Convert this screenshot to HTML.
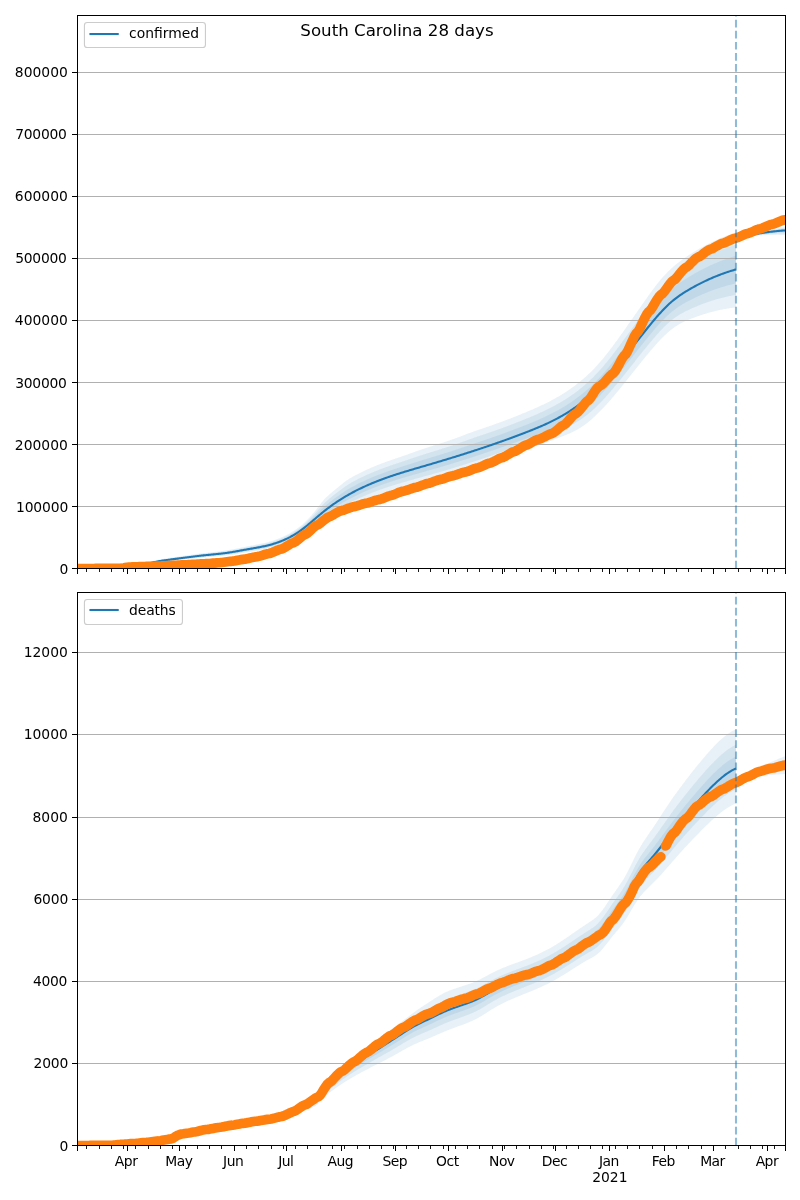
<!DOCTYPE html>
<html lang="en"><head><meta charset="utf-8"><title>South Carolina 28 days</title>
<style>html,body{margin:0;padding:0;background:#fff}svg{display:block;will-change:transform}</style></head>
<body>
<svg width="800" height="1200" viewBox="0 0 800 1200" font-family="'DejaVu Sans', 'Liberation Sans', sans-serif" font-size="13.89px" fill="#000">
<rect width="800" height="1200" fill="#fff"/>
<defs>
<clipPath id="c0"><rect x="77.5" y="15.5" width="708.0" height="553.0"/></clipPath>
<clipPath id="c1"><rect x="77.5" y="592.5" width="708.0" height="553.0"/></clipPath>
</defs>
<g clip-path="url(#c0)">
<path d="M77.50,568.50 L78.50,568.47 L79.50,568.44 L80.50,568.40 L81.50,568.36 L82.50,568.32 L83.50,568.28 L84.50,568.23 L85.50,568.18 L86.50,568.13 L87.50,568.08 L88.50,568.02 L89.50,567.97 L90.50,567.91 L91.50,567.85 L92.50,567.78 L93.50,567.72 L94.50,567.65 L95.50,567.59 L96.50,567.52 L97.50,567.44 L98.50,567.37 L99.50,567.30 L100.50,567.22 L101.50,567.15 L102.50,567.07 L103.50,566.99 L104.50,566.91 L105.50,566.83 L106.50,566.74 L107.50,566.66 L108.50,566.58 L109.50,566.49 L110.50,566.41 L111.50,566.32 L112.50,566.23 L113.50,566.15 L114.50,566.06 L115.50,565.97 L116.50,565.88 L117.50,565.79 L118.50,565.70 L119.50,565.62 L120.50,565.53 L121.50,565.43 L122.50,565.34 L123.50,565.24 L124.50,565.13 L125.50,565.02 L126.50,564.91 L127.50,564.80 L128.50,564.68 L129.50,564.56 L130.50,564.44 L131.50,564.31 L132.50,564.18 L133.50,564.05 L134.50,563.91 L135.50,563.78 L136.50,563.63 L137.50,563.49 L138.50,563.34 L139.50,563.20 L140.50,563.04 L141.50,562.89 L142.50,562.73 L143.50,562.58 L144.50,562.42 L145.50,562.25 L146.50,562.09 L147.50,561.92 L148.50,561.76 L149.50,561.59 L150.50,561.41 L151.50,561.22 L152.50,561.00 L153.50,560.78 L154.50,560.55 L155.50,560.31 L156.50,560.07 L157.50,559.85 L158.50,559.63 L159.50,559.43 L160.50,559.25 L161.50,559.07 L162.50,558.91 L163.50,558.75 L164.50,558.60 L165.50,558.45 L166.50,558.30 L167.50,558.15 L168.50,558.01 L169.50,557.86 L170.50,557.71 L171.50,557.56 L172.50,557.41 L173.50,557.27 L174.50,557.12 L175.50,556.98 L176.50,556.83 L177.50,556.69 L178.50,556.54 L179.50,556.40 L180.50,556.26 L181.50,556.12 L182.50,555.97 L183.50,555.83 L184.50,555.69 L185.50,555.55 L186.50,555.41 L187.50,555.27 L188.50,555.13 L189.50,554.99 L190.50,554.85 L191.50,554.71 L192.50,554.57 L193.50,554.43 L194.50,554.29 L195.50,554.15 L196.50,554.01 L197.50,553.87 L198.50,553.74 L199.50,553.61 L200.50,553.48 L201.50,553.35 L202.50,553.23 L203.50,553.11 L204.50,553.00 L205.50,552.88 L206.50,552.77 L207.50,552.66 L208.50,552.55 L209.50,552.44 L210.50,552.33 L211.50,552.22 L212.50,552.11 L213.50,552.00 L214.50,551.89 L215.50,551.78 L216.50,551.66 L217.50,551.54 L218.50,551.42 L219.50,551.30 L220.50,551.17 L221.50,551.04 L222.50,550.91 L223.50,550.77 L224.50,550.63 L225.50,550.49 L226.50,550.34 L227.50,550.18 L228.50,550.03 L229.50,549.86 L230.50,549.70 L231.50,549.52 L232.50,549.34 L233.50,549.15 L234.50,548.96 L235.50,548.76 L236.50,548.56 L237.50,548.36 L238.50,548.16 L239.50,547.96 L240.50,547.75 L241.50,547.55 L242.50,547.34 L243.50,547.14 L244.50,546.94 L245.50,546.74 L246.50,546.54 L247.50,546.34 L248.50,546.15 L249.50,545.96 L250.50,545.76 L251.50,545.57 L252.50,545.38 L253.50,545.19 L254.50,545.00 L255.50,544.81 L256.50,544.62 L257.50,544.42 L258.50,544.22 L259.50,544.01 L260.50,543.80 L261.50,543.59 L262.50,543.37 L263.50,543.14 L264.50,542.90 L265.50,542.66 L266.50,542.41 L267.50,542.15 L268.50,541.88 L269.50,541.60 L270.50,541.31 L271.50,541.01 L272.50,540.70 L273.50,540.38 L274.50,540.04 L275.50,539.69 L276.50,539.34 L277.50,538.96 L278.50,538.58 L279.50,538.18 L280.50,537.77 L281.50,537.34 L282.50,536.90 L283.50,536.45 L284.50,535.98 L285.50,535.49 L286.50,534.99 L287.50,534.47 L288.50,533.94 L289.50,533.39 L290.50,532.82 L291.50,532.23 L292.50,531.62 L293.50,531.00 L294.50,530.36 L295.50,529.69 L296.50,529.01 L297.50,528.31 L298.50,527.58 L299.50,526.84 L300.50,526.06 L301.50,525.25 L302.50,524.39 L303.50,523.48 L304.50,522.54 L305.50,521.57 L306.50,520.56 L307.50,519.53 L308.50,518.47 L309.50,517.40 L310.50,516.31 L311.50,515.21 L312.50,514.10 L313.50,512.95 L314.50,511.74 L315.50,510.48 L316.50,509.18 L317.50,507.85 L318.50,506.52 L319.50,505.20 L320.50,503.89 L321.50,502.61 L322.50,501.38 L323.50,500.21 L324.50,499.12 L325.50,498.10 L326.50,497.12 L327.50,496.18 L328.50,495.26 L329.50,494.36 L330.50,493.49 L331.50,492.63 L332.50,491.79 L333.50,490.97 L334.50,490.15 L335.50,489.34 L336.50,488.53 L337.50,487.73 L338.50,486.92 L339.50,486.10 L340.50,485.28 L341.50,484.46 L342.50,483.66 L343.50,482.86 L344.50,482.08 L345.50,481.33 L346.50,480.59 L347.50,479.89 L348.50,479.23 L349.50,478.60 L350.50,478.01 L351.50,477.44 L352.50,476.87 L353.50,476.31 L354.50,475.77 L355.50,475.23 L356.50,474.69 L357.50,474.17 L358.50,473.65 L359.50,473.15 L360.50,472.65 L361.50,472.15 L362.50,471.67 L363.50,471.19 L364.50,470.71 L365.50,470.25 L366.50,469.79 L367.50,469.33 L368.50,468.89 L369.50,468.45 L370.50,468.01 L371.50,467.58 L372.50,467.16 L373.50,466.74 L374.50,466.33 L375.50,465.92 L376.50,465.52 L377.50,465.12 L378.50,464.72 L379.50,464.33 L380.50,463.95 L381.50,463.57 L382.50,463.19 L383.50,462.82 L384.50,462.45 L385.50,462.08 L386.50,461.71 L387.50,461.35 L388.50,461.00 L389.50,460.64 L390.50,460.29 L391.50,459.94 L392.50,459.59 L393.50,459.25 L394.50,458.91 L395.50,458.56 L396.50,458.22 L397.50,457.89 L398.50,457.55 L399.50,457.21 L400.50,456.88 L401.50,456.54 L402.50,456.20 L403.50,455.85 L404.50,455.50 L405.50,455.15 L406.50,454.79 L407.50,454.44 L408.50,454.08 L409.50,453.72 L410.50,453.36 L411.50,453.00 L412.50,452.64 L413.50,452.29 L414.50,451.93 L415.50,451.57 L416.50,451.21 L417.50,450.86 L418.50,450.51 L419.50,450.16 L420.50,449.81 L421.50,449.47 L422.50,449.13 L423.50,448.80 L424.50,448.47 L425.50,448.14 L426.50,447.82 L427.50,447.50 L428.50,447.18 L429.50,446.86 L430.50,446.54 L431.50,446.22 L432.50,445.90 L433.50,445.59 L434.50,445.27 L435.50,444.95 L436.50,444.64 L437.50,444.32 L438.50,444.00 L439.50,443.68 L440.50,443.36 L441.50,443.04 L442.50,442.72 L443.50,442.39 L444.50,442.07 L445.50,441.74 L446.50,441.41 L447.50,441.08 L448.50,440.75 L449.50,440.41 L450.50,440.07 L451.50,439.72 L452.50,439.37 L453.50,439.02 L454.50,438.65 L455.50,438.29 L456.50,437.92 L457.50,437.54 L458.50,437.17 L459.50,436.79 L460.50,436.41 L461.50,436.03 L462.50,435.64 L463.50,435.26 L464.50,434.88 L465.50,434.50 L466.50,434.12 L467.50,433.74 L468.50,433.37 L469.50,433.00 L470.50,432.63 L471.50,432.27 L472.50,431.91 L473.50,431.56 L474.50,431.21 L475.50,430.87 L476.50,430.53 L477.50,430.19 L478.50,429.85 L479.50,429.51 L480.50,429.17 L481.50,428.83 L482.50,428.49 L483.50,428.15 L484.50,427.80 L485.50,427.46 L486.50,427.12 L487.50,426.77 L488.50,426.43 L489.50,426.08 L490.50,425.74 L491.50,425.39 L492.50,425.04 L493.50,424.68 L494.50,424.33 L495.50,423.98 L496.50,423.62 L497.50,423.26 L498.50,422.90 L499.50,422.54 L500.50,422.17 L501.50,421.81 L502.50,421.44 L503.50,421.07 L504.50,420.69 L505.50,420.32 L506.50,419.94 L507.50,419.56 L508.50,419.18 L509.50,418.79 L510.50,418.41 L511.50,418.02 L512.50,417.63 L513.50,417.24 L514.50,416.84 L515.50,416.45 L516.50,416.05 L517.50,415.65 L518.50,415.25 L519.50,414.84 L520.50,414.44 L521.50,414.03 L522.50,413.62 L523.50,413.21 L524.50,412.79 L525.50,412.38 L526.50,411.96 L527.50,411.54 L528.50,411.12 L529.50,410.69 L530.50,410.27 L531.50,409.84 L532.50,409.40 L533.50,408.97 L534.50,408.53 L535.50,408.08 L536.50,407.63 L537.50,407.18 L538.50,406.73 L539.50,406.27 L540.50,405.80 L541.50,405.33 L542.50,404.86 L543.50,404.38 L544.50,403.90 L545.50,403.41 L546.50,402.91 L547.50,402.41 L548.50,401.91 L549.50,401.39 L550.50,400.88 L551.50,400.35 L552.50,399.82 L553.50,399.28 L554.50,398.73 L555.50,398.18 L556.50,397.61 L557.50,397.04 L558.50,396.46 L559.50,395.88 L560.50,395.28 L561.50,394.68 L562.50,394.06 L563.50,393.44 L564.50,392.81 L565.50,392.16 L566.50,391.51 L567.50,390.85 L568.50,390.17 L569.50,389.49 L570.50,388.79 L571.50,388.08 L572.50,387.36 L573.50,386.63 L574.50,385.89 L575.50,385.14 L576.50,384.37 L577.50,383.59 L578.50,382.80 L579.50,381.99 L580.50,381.18 L581.50,380.34 L582.50,379.50 L583.50,378.64 L584.50,377.76 L585.50,376.88 L586.50,375.97 L587.50,375.06 L588.50,374.12 L589.50,373.17 L590.50,372.21 L591.50,371.23 L592.50,370.22 L593.50,369.20 L594.50,368.16 L595.50,367.10 L596.50,366.02 L597.50,364.92 L598.50,363.80 L599.50,362.66 L600.50,361.51 L601.50,360.33 L602.50,359.14 L603.50,357.94 L604.50,356.71 L605.50,355.47 L606.50,354.22 L607.50,352.95 L608.50,351.67 L609.50,350.38 L610.50,349.07 L611.50,347.75 L612.50,346.42 L613.50,345.08 L614.50,343.73 L615.50,342.37 L616.50,341.00 L617.50,339.63 L618.50,338.24 L619.50,336.85 L620.50,335.45 L621.50,334.05 L622.50,332.64 L623.50,331.23 L624.50,329.81 L625.50,328.39 L626.50,326.97 L627.50,325.54 L628.50,324.11 L629.50,322.68 L630.50,321.25 L631.50,319.82 L632.50,318.40 L633.50,316.97 L634.50,315.54 L635.50,314.12 L636.50,312.69 L637.50,311.26 L638.50,309.83 L639.50,308.39 L640.50,306.96 L641.50,305.52 L642.50,304.08 L643.50,302.65 L644.50,301.22 L645.50,299.80 L646.50,298.38 L647.50,296.97 L648.50,295.57 L649.50,294.17 L650.50,292.79 L651.50,291.42 L652.50,290.06 L653.50,288.71 L654.50,287.38 L655.50,286.07 L656.50,284.77 L657.50,283.50 L658.50,282.24 L659.50,281.02 L660.50,279.81 L661.50,278.63 L662.50,277.48 L663.50,276.36 L664.50,275.26 L665.50,274.18 L666.50,273.13 L667.50,272.11 L668.50,271.11 L669.50,270.14 L670.50,269.19 L671.50,268.27 L672.50,267.38 L673.50,266.51 L674.50,265.66 L675.50,264.83 L676.50,264.01 L677.50,263.22 L678.50,262.44 L679.50,261.68 L680.50,260.93 L681.50,260.19 L682.50,259.47 L683.50,258.76 L684.50,258.05 L685.50,257.36 L686.50,256.68 L687.50,256.01 L688.50,255.35 L689.50,254.70 L690.50,254.05 L691.50,253.42 L692.50,252.79 L693.50,252.17 L694.50,251.56 L695.50,250.96 L696.50,250.36 L697.50,249.78 L698.50,249.20 L699.50,248.62 L700.50,248.06 L701.50,247.50 L702.50,246.94 L703.50,246.40 L704.50,245.86 L705.50,245.33 L706.50,244.80 L707.50,244.28 L708.50,243.77 L709.50,243.27 L710.50,242.77 L711.50,242.28 L712.50,241.79 L713.50,241.32 L714.50,240.85 L715.50,240.38 L716.50,239.93 L717.50,239.48 L718.50,239.04 L719.50,238.60 L720.50,238.17 L721.50,237.75 L722.50,237.33 L723.50,236.93 L724.50,236.53 L725.50,236.13 L726.50,235.74 L727.50,235.36 L728.50,234.99 L729.50,234.62 L730.50,234.26 L731.50,233.91 L732.50,233.57 L733.50,233.23 L734.50,232.90 L735.50,232.57 L736.00,232.41 L736.00,307.41 L735.50,307.47 L734.50,307.58 L733.50,307.70 L732.50,307.83 L731.50,307.96 L730.50,308.10 L729.50,308.25 L728.50,308.40 L727.50,308.56 L726.50,308.73 L725.50,308.90 L724.50,309.08 L723.50,309.26 L722.50,309.45 L721.50,309.65 L720.50,309.85 L719.50,310.06 L718.50,310.28 L717.50,310.50 L716.50,310.73 L715.50,310.97 L714.50,311.21 L713.50,311.46 L712.50,311.72 L711.50,311.98 L710.50,312.25 L709.50,312.52 L708.50,312.81 L707.50,313.09 L706.50,313.39 L705.50,313.69 L704.50,314.00 L703.50,314.31 L702.50,314.63 L701.50,314.96 L700.50,315.30 L699.50,315.64 L698.50,315.99 L697.50,316.34 L696.50,316.70 L695.50,317.07 L694.50,317.44 L693.50,317.82 L692.50,318.20 L691.50,318.58 L690.50,318.96 L689.50,319.35 L688.50,319.75 L687.50,320.16 L686.50,320.58 L685.50,321.02 L684.50,321.48 L683.50,321.95 L682.50,322.45 L681.50,322.97 L680.50,323.52 L679.50,324.09 L678.50,324.69 L677.50,325.31 L676.50,325.95 L675.50,326.61 L674.50,327.29 L673.50,328.00 L672.50,328.73 L671.50,329.49 L670.50,330.28 L669.50,331.10 L668.50,331.94 L667.50,332.81 L666.50,333.71 L665.50,334.63 L664.50,335.58 L663.50,336.55 L662.50,337.55 L661.50,338.57 L660.50,339.60 L659.50,340.66 L658.50,341.73 L657.50,342.82 L656.50,343.93 L655.50,345.05 L654.50,346.18 L653.50,347.32 L652.50,348.48 L651.50,349.65 L650.50,350.82 L649.50,352.01 L648.50,353.20 L647.50,354.40 L646.50,355.60 L645.50,356.82 L644.50,358.04 L643.50,359.26 L642.50,360.49 L641.50,361.73 L640.50,362.97 L639.50,364.21 L638.50,365.46 L637.50,366.70 L636.50,367.95 L635.50,369.21 L634.50,370.46 L633.50,371.71 L632.50,372.97 L631.50,374.23 L630.50,375.49 L629.50,376.74 L628.50,378.00 L627.50,379.25 L626.50,380.51 L625.50,381.76 L624.50,383.01 L623.50,384.25 L622.50,385.50 L621.50,386.73 L620.50,387.97 L619.50,389.19 L618.50,390.41 L617.50,391.63 L616.50,392.84 L615.50,394.04 L614.50,395.23 L613.50,396.42 L612.50,397.60 L611.50,398.76 L610.50,399.92 L609.50,401.07 L608.50,402.20 L607.50,403.33 L606.50,404.44 L605.50,405.54 L604.50,406.63 L603.50,407.70 L602.50,408.77 L601.50,409.81 L600.50,410.84 L599.50,411.86 L598.50,412.86 L597.50,413.84 L596.50,414.81 L595.50,415.76 L594.50,416.69 L593.50,417.61 L592.50,418.51 L591.50,419.40 L590.50,420.27 L589.50,421.12 L588.50,421.94 L587.50,422.74 L586.50,423.51 L585.50,424.26 L584.50,424.98 L583.50,425.67 L582.50,426.35 L581.50,427.00 L580.50,427.63 L579.50,428.24 L578.50,428.84 L577.50,429.41 L576.50,429.97 L575.50,430.50 L574.50,431.03 L573.50,431.53 L572.50,432.03 L571.50,432.50 L570.50,432.97 L569.50,433.43 L568.50,433.87 L567.50,434.30 L566.50,434.73 L565.50,435.14 L564.50,435.55 L563.50,435.95 L562.50,436.35 L561.50,436.74 L560.50,437.12 L559.50,437.51 L558.50,437.89 L557.50,438.27 L556.50,438.64 L555.50,439.02 L554.50,439.40 L553.50,439.78 L552.50,440.16 L551.50,440.55 L550.50,440.94 L549.50,441.33 L548.50,441.72 L547.50,442.10 L546.50,442.48 L545.50,442.85 L544.50,443.22 L543.50,443.58 L542.50,443.94 L541.50,444.29 L540.50,444.64 L539.50,444.98 L538.50,445.32 L537.50,445.66 L536.50,445.99 L535.50,446.32 L534.50,446.65 L533.50,446.97 L532.50,447.30 L531.50,447.62 L530.50,447.94 L529.50,448.26 L528.50,448.58 L527.50,448.90 L526.50,449.21 L525.50,449.53 L524.50,449.85 L523.50,450.17 L522.50,450.48 L521.50,450.80 L520.50,451.12 L519.50,451.44 L518.50,451.76 L517.50,452.09 L516.50,452.41 L515.50,452.73 L514.50,453.06 L513.50,453.38 L512.50,453.71 L511.50,454.04 L510.50,454.37 L509.50,454.70 L508.50,455.04 L507.50,455.37 L506.50,455.71 L505.50,456.05 L504.50,456.39 L503.50,456.74 L502.50,457.08 L501.50,457.43 L500.50,457.78 L499.50,458.13 L498.50,458.48 L497.50,458.84 L496.50,459.18 L495.50,459.53 L494.50,459.88 L493.50,460.23 L492.50,460.57 L491.50,460.92 L490.50,461.26 L489.50,461.60 L488.50,461.94 L487.50,462.28 L486.50,462.62 L485.50,462.96 L484.50,463.29 L483.50,463.63 L482.50,463.96 L481.50,464.30 L480.50,464.63 L479.50,464.96 L478.50,465.29 L477.50,465.62 L476.50,465.95 L475.50,466.28 L474.50,466.60 L473.50,466.93 L472.50,467.25 L471.50,467.58 L470.50,467.90 L469.50,468.22 L468.50,468.54 L467.50,468.86 L466.50,469.18 L465.50,469.50 L464.50,469.82 L463.50,470.14 L462.50,470.45 L461.50,470.77 L460.50,471.08 L459.50,471.40 L458.50,471.71 L457.50,472.02 L456.50,472.33 L455.50,472.64 L454.50,472.95 L453.50,473.26 L452.50,473.57 L451.50,473.88 L450.50,474.19 L449.50,474.49 L448.50,474.80 L447.50,475.09 L446.50,475.39 L445.50,475.68 L444.50,475.97 L443.50,476.26 L442.50,476.54 L441.50,476.82 L440.50,477.10 L439.50,477.38 L438.50,477.66 L437.50,477.93 L436.50,478.20 L435.50,478.47 L434.50,478.75 L433.50,479.02 L432.50,479.28 L431.50,479.55 L430.50,479.82 L429.50,480.09 L428.50,480.36 L427.50,480.63 L426.50,480.90 L425.50,481.17 L424.50,481.44 L423.50,481.72 L422.50,481.99 L421.50,482.26 L420.50,482.53 L419.50,482.80 L418.50,483.08 L417.50,483.35 L416.50,483.63 L415.50,483.90 L414.50,484.17 L413.50,484.45 L412.50,484.73 L411.50,485.00 L410.50,485.28 L409.50,485.56 L408.50,485.84 L407.50,486.12 L406.50,486.40 L405.50,486.68 L404.50,486.96 L403.50,487.24 L402.50,487.53 L401.50,487.81 L400.50,488.10 L399.50,488.39 L398.50,488.68 L397.50,488.97 L396.50,489.27 L395.50,489.56 L394.50,489.86 L393.50,490.17 L392.50,490.47 L391.50,490.78 L390.50,491.09 L389.50,491.40 L388.50,491.72 L387.50,492.04 L386.50,492.36 L385.50,492.69 L384.50,493.02 L383.50,493.35 L382.50,493.68 L381.50,494.02 L380.50,494.36 L379.50,494.71 L378.50,495.06 L377.50,495.41 L376.50,495.77 L375.50,496.13 L374.50,496.50 L373.50,496.87 L372.50,497.24 L371.50,497.62 L370.50,498.00 L369.50,498.39 L368.50,498.78 L367.50,499.17 L366.50,499.57 L365.50,499.98 L364.50,500.39 L363.50,500.80 L362.50,501.22 L361.50,501.64 L360.50,502.07 L359.50,502.51 L358.50,502.95 L357.50,503.39 L356.50,503.84 L355.50,504.30 L354.50,504.76 L353.50,505.22 L352.50,505.70 L351.50,506.17 L350.50,506.66 L349.50,507.15 L348.50,507.63 L347.50,508.11 L346.50,508.59 L345.50,509.07 L344.50,509.55 L343.50,510.03 L342.50,510.51 L341.50,510.99 L340.50,511.48 L339.50,511.97 L338.50,512.47 L337.50,512.98 L336.50,513.48 L335.50,513.99 L334.50,514.49 L333.50,514.99 L332.50,515.50 L331.50,516.01 L330.50,516.52 L329.50,517.04 L328.50,517.57 L327.50,518.10 L326.50,518.65 L325.50,519.21 L324.50,519.79 L323.50,520.36 L322.50,520.92 L321.50,521.49 L320.50,522.06 L319.50,522.63 L318.50,523.21 L317.50,523.80 L316.50,524.41 L315.50,525.03 L314.50,525.66 L313.50,526.32 L312.50,527.00 L311.50,527.69 L310.50,528.38 L309.50,529.07 L308.50,529.75 L307.50,530.44 L306.50,531.12 L305.50,531.80 L304.50,532.47 L303.50,533.14 L302.50,533.81 L301.50,534.47 L300.50,535.13 L299.50,535.78 L298.50,536.41 L297.50,537.03 L296.50,537.63 L295.50,538.21 L294.50,538.78 L293.50,539.32 L292.50,539.86 L291.50,540.37 L290.50,540.88 L289.50,541.36 L288.50,541.83 L287.50,542.29 L286.50,542.73 L285.50,543.16 L284.50,543.58 L283.50,543.98 L282.50,544.37 L281.50,544.75 L280.50,545.11 L279.50,545.46 L278.50,545.81 L277.50,546.13 L276.50,546.45 L275.50,546.76 L274.50,547.06 L273.50,547.34 L272.50,547.61 L271.50,547.88 L270.50,548.13 L269.50,548.38 L268.50,548.61 L267.50,548.84 L266.50,549.06 L265.50,549.27 L264.50,549.47 L263.50,549.67 L262.50,549.86 L261.50,550.04 L260.50,550.22 L259.50,550.39 L258.50,550.55 L257.50,550.72 L256.50,550.87 L255.50,551.03 L254.50,551.18 L253.50,551.34 L252.50,551.49 L251.50,551.64 L250.50,551.78 L249.50,551.93 L248.50,552.09 L247.50,552.24 L246.50,552.40 L245.50,552.56 L244.50,552.72 L243.50,552.88 L242.50,553.05 L241.50,553.21 L240.50,553.38 L239.50,553.55 L238.50,553.72 L237.50,553.88 L236.50,554.05 L235.50,554.22 L234.50,554.38 L233.50,554.54 L232.50,554.69 L231.50,554.84 L230.50,554.98 L229.50,555.12 L228.50,555.25 L227.50,555.37 L226.50,555.49 L225.50,555.61 L224.50,555.73 L223.50,555.84 L222.50,555.95 L221.50,556.05 L220.50,556.15 L219.50,556.25 L218.50,556.34 L217.50,556.43 L216.50,556.52 L215.50,556.61 L214.50,556.70 L213.50,556.78 L212.50,556.86 L211.50,556.95 L210.50,557.03 L209.50,557.11 L208.50,557.19 L207.50,557.27 L206.50,557.36 L205.50,557.44 L204.50,557.53 L203.50,557.62 L202.50,557.71 L201.50,557.81 L200.50,557.91 L199.50,558.01 L198.50,558.12 L197.50,558.23 L196.50,558.34 L195.50,558.45 L194.50,558.56 L193.50,558.68 L192.50,558.79 L191.50,558.91 L190.50,559.02 L189.50,559.14 L188.50,559.25 L187.50,559.37 L186.50,559.48 L185.50,559.60 L184.50,559.71 L183.50,559.83 L182.50,559.94 L181.50,560.06 L180.50,560.17 L179.50,560.29 L178.50,560.41 L177.50,560.52 L176.50,560.64 L175.50,560.76 L174.50,560.88 L173.50,560.99 L172.50,561.11 L171.50,561.23 L170.50,561.35 L169.50,561.47 L168.50,561.59 L167.50,561.71 L166.50,561.83 L165.50,561.95 L164.50,562.07 L163.50,562.19 L162.50,562.32 L161.50,562.45 L160.50,562.59 L159.50,562.74 L158.50,562.91 L157.50,563.10 L156.50,563.29 L155.50,563.50 L154.50,563.70 L153.50,563.90 L152.50,564.09 L151.50,564.27 L150.50,564.43 L149.50,564.57 L148.50,564.70 L147.50,564.84 L146.50,564.97 L145.50,565.09 L144.50,565.22 L143.50,565.34 L142.50,565.47 L141.50,565.59 L140.50,565.70 L139.50,565.82 L138.50,565.93 L137.50,566.04 L136.50,566.14 L135.50,566.24 L134.50,566.35 L133.50,566.44 L132.50,566.54 L131.50,566.63 L130.50,566.72 L129.50,566.80 L128.50,566.88 L127.50,566.96 L126.50,567.03 L125.50,567.11 L124.50,567.17 L123.50,567.24 L122.50,567.30 L121.50,567.35 L120.50,567.40 L119.50,567.45 L118.50,567.50 L117.50,567.55 L116.50,567.60 L115.50,567.64 L114.50,567.69 L113.50,567.74 L112.50,567.78 L111.50,567.83 L110.50,567.87 L109.50,567.91 L108.50,567.96 L107.50,568.00 L106.50,568.04 L105.50,568.08 L104.50,568.12 L103.50,568.15 L102.50,568.19 L101.50,568.22 L100.50,568.26 L99.50,568.29 L98.50,568.32 L97.50,568.35 L96.50,568.37 L95.50,568.40 L94.50,568.42 L93.50,568.45 L92.50,568.47 L91.50,568.48 L90.50,568.50 L89.50,568.51 L88.50,568.53 L87.50,568.54 L86.50,568.54 L85.50,568.55 L84.50,568.55 L83.50,568.55 L82.50,568.55 L81.50,568.55 L80.50,568.54 L79.50,568.53 L78.50,568.52 L77.50,568.50Z" fill="#1f77b4" fill-opacity="0.1"/>
<path d="M77.50,568.50 L78.50,568.48 L79.50,568.45 L80.50,568.42 L81.50,568.39 L82.50,568.36 L83.50,568.32 L84.50,568.28 L85.50,568.24 L86.50,568.20 L87.50,568.15 L88.50,568.11 L89.50,568.06 L90.50,568.01 L91.50,567.95 L92.50,567.90 L93.50,567.84 L94.50,567.78 L95.50,567.72 L96.50,567.66 L97.50,567.59 L98.50,567.53 L99.50,567.46 L100.50,567.39 L101.50,567.32 L102.50,567.25 L103.50,567.18 L104.50,567.11 L105.50,567.03 L106.50,566.96 L107.50,566.88 L108.50,566.80 L109.50,566.73 L110.50,566.65 L111.50,566.57 L112.50,566.49 L113.50,566.41 L114.50,566.33 L115.50,566.25 L116.50,566.16 L117.50,566.08 L118.50,566.00 L119.50,565.92 L120.50,565.84 L121.50,565.75 L122.50,565.66 L123.50,565.57 L124.50,565.47 L125.50,565.37 L126.50,565.26 L127.50,565.16 L128.50,565.05 L129.50,564.93 L130.50,564.81 L131.50,564.69 L132.50,564.57 L133.50,564.44 L134.50,564.31 L135.50,564.18 L136.50,564.05 L137.50,563.91 L138.50,563.77 L139.50,563.63 L140.50,563.48 L141.50,563.34 L142.50,563.19 L143.50,563.03 L144.50,562.88 L145.50,562.72 L146.50,562.56 L147.50,562.40 L148.50,562.24 L149.50,562.08 L150.50,561.91 L151.50,561.72 L152.50,561.51 L153.50,561.29 L154.50,561.07 L155.50,560.84 L156.50,560.61 L157.50,560.38 L158.50,560.17 L159.50,559.97 L160.50,559.80 L161.50,559.63 L162.50,559.47 L163.50,559.32 L164.50,559.17 L165.50,559.02 L166.50,558.88 L167.50,558.74 L168.50,558.60 L169.50,558.46 L170.50,558.31 L171.50,558.17 L172.50,558.02 L173.50,557.88 L174.50,557.74 L175.50,557.60 L176.50,557.46 L177.50,557.32 L178.50,557.18 L179.50,557.04 L180.50,556.90 L181.50,556.77 L182.50,556.63 L183.50,556.49 L184.50,556.35 L185.50,556.22 L186.50,556.08 L187.50,555.95 L188.50,555.81 L189.50,555.67 L190.50,555.54 L191.50,555.40 L192.50,555.26 L193.50,555.13 L194.50,554.99 L195.50,554.86 L196.50,554.72 L197.50,554.59 L198.50,554.46 L199.50,554.33 L200.50,554.21 L201.50,554.09 L202.50,553.97 L203.50,553.86 L204.50,553.74 L205.50,553.63 L206.50,553.53 L207.50,553.42 L208.50,553.32 L209.50,553.21 L210.50,553.11 L211.50,553.00 L212.50,552.90 L213.50,552.79 L214.50,552.68 L215.50,552.57 L216.50,552.46 L217.50,552.35 L218.50,552.23 L219.50,552.12 L220.50,551.99 L221.50,551.87 L222.50,551.74 L223.50,551.61 L224.50,551.47 L225.50,551.33 L226.50,551.19 L227.50,551.04 L228.50,550.89 L229.50,550.73 L230.50,550.57 L231.50,550.40 L232.50,550.22 L233.50,550.04 L234.50,549.85 L235.50,549.66 L236.50,549.47 L237.50,549.27 L238.50,549.08 L239.50,548.88 L240.50,548.68 L241.50,548.48 L242.50,548.28 L243.50,548.09 L244.50,547.89 L245.50,547.70 L246.50,547.51 L247.50,547.32 L248.50,547.13 L249.50,546.94 L250.50,546.76 L251.50,546.57 L252.50,546.39 L253.50,546.21 L254.50,546.02 L255.50,545.84 L256.50,545.65 L257.50,545.46 L258.50,545.26 L259.50,545.06 L260.50,544.86 L261.50,544.65 L262.50,544.43 L263.50,544.21 L264.50,543.98 L265.50,543.75 L266.50,543.50 L267.50,543.25 L268.50,542.98 L269.50,542.71 L270.50,542.43 L271.50,542.14 L272.50,541.83 L273.50,541.52 L274.50,541.19 L275.50,540.85 L276.50,540.50 L277.50,540.14 L278.50,539.76 L279.50,539.38 L280.50,538.97 L281.50,538.56 L282.50,538.13 L283.50,537.68 L284.50,537.22 L285.50,536.75 L286.50,536.26 L287.50,535.76 L288.50,535.23 L289.50,534.70 L290.50,534.14 L291.50,533.57 L292.50,532.98 L293.50,532.37 L294.50,531.74 L295.50,531.09 L296.50,530.43 L297.50,529.74 L298.50,529.04 L299.50,528.31 L300.50,527.56 L301.50,526.77 L302.50,525.95 L303.50,525.10 L304.50,524.21 L305.50,523.29 L306.50,522.36 L307.50,521.40 L308.50,520.42 L309.50,519.42 L310.50,518.42 L311.50,517.40 L312.50,516.38 L313.50,515.32 L314.50,514.23 L315.50,513.10 L316.50,511.95 L317.50,510.78 L318.50,509.61 L319.50,508.44 L320.50,507.28 L321.50,506.15 L322.50,505.06 L323.50,504.00 L324.50,503.00 L325.50,502.06 L326.50,501.15 L327.50,500.26 L328.50,499.40 L329.50,498.55 L330.50,497.72 L331.50,496.91 L332.50,496.11 L333.50,495.33 L334.50,494.55 L335.50,493.78 L336.50,493.02 L337.50,492.26 L338.50,491.50 L339.50,490.74 L340.50,489.99 L341.50,489.23 L342.50,488.49 L343.50,487.75 L344.50,487.03 L345.50,486.33 L346.50,485.64 L347.50,484.98 L348.50,484.35 L349.50,483.74 L350.50,483.16 L351.50,482.60 L352.50,482.04 L353.50,481.49 L354.50,480.95 L355.50,480.42 L356.50,479.89 L357.50,479.37 L358.50,478.86 L359.50,478.36 L360.50,477.86 L361.50,477.37 L362.50,476.89 L363.50,476.41 L364.50,475.95 L365.50,475.48 L366.50,475.03 L367.50,474.58 L368.50,474.13 L369.50,473.69 L370.50,473.26 L371.50,472.83 L372.50,472.41 L373.50,472.00 L374.50,471.58 L375.50,471.18 L376.50,470.78 L377.50,470.38 L378.50,469.99 L379.50,469.60 L380.50,469.22 L381.50,468.84 L382.50,468.46 L383.50,468.09 L384.50,467.72 L385.50,467.36 L386.50,467.00 L387.50,466.64 L388.50,466.29 L389.50,465.94 L390.50,465.59 L391.50,465.24 L392.50,464.90 L393.50,464.56 L394.50,464.22 L395.50,463.88 L396.50,463.55 L397.50,463.22 L398.50,462.88 L399.50,462.56 L400.50,462.23 L401.50,461.90 L402.50,461.56 L403.50,461.23 L404.50,460.90 L405.50,460.56 L406.50,460.22 L407.50,459.89 L408.50,459.55 L409.50,459.21 L410.50,458.87 L411.50,458.53 L412.50,458.19 L413.50,457.86 L414.50,457.52 L415.50,457.18 L416.50,456.85 L417.50,456.51 L418.50,456.18 L419.50,455.85 L420.50,455.53 L421.50,455.20 L422.50,454.88 L423.50,454.56 L424.50,454.24 L425.50,453.92 L426.50,453.61 L427.50,453.30 L428.50,452.99 L429.50,452.68 L430.50,452.37 L431.50,452.06 L432.50,451.75 L433.50,451.43 L434.50,451.12 L435.50,450.81 L436.50,450.50 L437.50,450.19 L438.50,449.88 L439.50,449.57 L440.50,449.25 L441.50,448.94 L442.50,448.62 L443.50,448.31 L444.50,447.99 L445.50,447.67 L446.50,447.35 L447.50,447.03 L448.50,446.70 L449.50,446.38 L450.50,446.05 L451.50,445.72 L452.50,445.38 L453.50,445.04 L454.50,444.69 L455.50,444.34 L456.50,443.99 L457.50,443.64 L458.50,443.29 L459.50,442.93 L460.50,442.57 L461.50,442.21 L462.50,441.85 L463.50,441.49 L464.50,441.13 L465.50,440.77 L466.50,440.41 L467.50,440.05 L468.50,439.70 L469.50,439.34 L470.50,438.99 L471.50,438.64 L472.50,438.29 L473.50,437.95 L474.50,437.61 L475.50,437.27 L476.50,436.94 L477.50,436.60 L478.50,436.27 L479.50,435.93 L480.50,435.59 L481.50,435.25 L482.50,434.92 L483.50,434.58 L484.50,434.24 L485.50,433.90 L486.50,433.55 L487.50,433.21 L488.50,432.87 L489.50,432.52 L490.50,432.18 L491.50,431.83 L492.50,431.48 L493.50,431.13 L494.50,430.78 L495.50,430.43 L496.50,430.08 L497.50,429.72 L498.50,429.36 L499.50,429.00 L500.50,428.64 L501.50,428.28 L502.50,427.92 L503.50,427.55 L504.50,427.18 L505.50,426.81 L506.50,426.44 L507.50,426.07 L508.50,425.69 L509.50,425.31 L510.50,424.93 L511.50,424.55 L512.50,424.17 L513.50,423.79 L514.50,423.40 L515.50,423.01 L516.50,422.62 L517.50,422.23 L518.50,421.84 L519.50,421.44 L520.50,421.04 L521.50,420.64 L522.50,420.24 L523.50,419.84 L524.50,419.44 L525.50,419.03 L526.50,418.62 L527.50,418.21 L528.50,417.80 L529.50,417.39 L530.50,416.97 L531.50,416.55 L532.50,416.13 L533.50,415.70 L534.50,415.27 L535.50,414.84 L536.50,414.41 L537.50,413.97 L538.50,413.52 L539.50,413.07 L540.50,412.62 L541.50,412.16 L542.50,411.70 L543.50,411.23 L544.50,410.76 L545.50,410.28 L546.50,409.80 L547.50,409.31 L548.50,408.82 L549.50,408.32 L550.50,407.81 L551.50,407.30 L552.50,406.78 L553.50,406.25 L554.50,405.72 L555.50,405.17 L556.50,404.62 L557.50,404.07 L558.50,403.50 L559.50,402.93 L560.50,402.34 L561.50,401.75 L562.50,401.15 L563.50,400.54 L564.50,399.92 L565.50,399.30 L566.50,398.66 L567.50,398.01 L568.50,397.35 L569.50,396.68 L570.50,396.00 L571.50,395.31 L572.50,394.61 L573.50,393.89 L574.50,393.17 L575.50,392.43 L576.50,391.68 L577.50,390.92 L578.50,390.15 L579.50,389.36 L580.50,388.56 L581.50,387.75 L582.50,386.92 L583.50,386.08 L584.50,385.23 L585.50,384.36 L586.50,383.48 L587.50,382.59 L588.50,381.68 L589.50,380.75 L590.50,379.81 L591.50,378.85 L592.50,377.88 L593.50,376.89 L594.50,375.87 L595.50,374.85 L596.50,373.80 L597.50,372.73 L598.50,371.65 L599.50,370.55 L600.50,369.43 L601.50,368.30 L602.50,367.15 L603.50,365.98 L604.50,364.80 L605.50,363.60 L606.50,362.39 L607.50,361.17 L608.50,359.93 L609.50,358.69 L610.50,357.43 L611.50,356.16 L612.50,354.87 L613.50,353.58 L614.50,352.28 L615.50,350.97 L616.50,349.65 L617.50,348.33 L618.50,346.99 L619.50,345.65 L620.50,344.30 L621.50,342.95 L622.50,341.59 L623.50,340.23 L624.50,338.86 L625.50,337.49 L626.50,336.12 L627.50,334.74 L628.50,333.37 L629.50,331.99 L630.50,330.61 L631.50,329.23 L632.50,327.85 L633.50,326.47 L634.50,325.09 L635.50,323.71 L636.50,322.34 L637.50,320.95 L638.50,319.57 L639.50,318.19 L640.50,316.81 L641.50,315.43 L642.50,314.05 L643.50,312.67 L644.50,311.30 L645.50,309.93 L646.50,308.57 L647.50,307.22 L648.50,305.87 L649.50,304.53 L650.50,303.20 L651.50,301.88 L652.50,300.57 L653.50,299.27 L654.50,297.99 L655.50,296.72 L656.50,295.47 L657.50,294.24 L658.50,293.02 L659.50,291.83 L660.50,290.66 L661.50,289.51 L662.50,288.39 L663.50,287.29 L664.50,286.21 L665.50,285.15 L666.50,284.12 L667.50,283.12 L668.50,282.13 L669.50,281.18 L670.50,280.25 L671.50,279.35 L672.50,278.47 L673.50,277.61 L674.50,276.78 L675.50,275.97 L676.50,275.17 L677.50,274.39 L678.50,273.63 L679.50,272.89 L680.50,272.16 L681.50,271.44 L682.50,270.74 L683.50,270.05 L684.50,269.37 L685.50,268.70 L686.50,268.05 L687.50,267.40 L688.50,266.76 L689.50,266.13 L690.50,265.51 L691.50,264.89 L692.50,264.29 L693.50,263.69 L694.50,263.10 L695.50,262.52 L696.50,261.94 L697.50,261.37 L698.50,260.81 L699.50,260.26 L700.50,259.71 L701.50,259.17 L702.50,258.63 L703.50,258.11 L704.50,257.59 L705.50,257.07 L706.50,256.56 L707.50,256.06 L708.50,255.57 L709.50,255.08 L710.50,254.60 L711.50,254.13 L712.50,253.66 L713.50,253.20 L714.50,252.75 L715.50,252.30 L716.50,251.86 L717.50,251.43 L718.50,251.00 L719.50,250.58 L720.50,250.17 L721.50,249.76 L722.50,249.36 L723.50,248.97 L724.50,248.58 L725.50,248.20 L726.50,247.83 L727.50,247.46 L728.50,247.10 L729.50,246.75 L730.50,246.41 L731.50,246.07 L732.50,245.73 L733.50,245.41 L734.50,245.09 L735.50,244.77 L736.00,244.62 L736.00,294.87 L735.50,294.95 L734.50,295.13 L733.50,295.30 L732.50,295.49 L731.50,295.68 L730.50,295.88 L729.50,296.08 L728.50,296.29 L727.50,296.51 L726.50,296.73 L725.50,296.96 L724.50,297.19 L723.50,297.43 L722.50,297.68 L721.50,297.94 L720.50,298.20 L719.50,298.46 L718.50,298.74 L717.50,299.02 L716.50,299.30 L715.50,299.59 L714.50,299.89 L713.50,300.20 L712.50,300.51 L711.50,300.83 L710.50,301.15 L709.50,301.48 L708.50,301.82 L707.50,302.17 L706.50,302.52 L705.50,302.88 L704.50,303.24 L703.50,303.61 L702.50,303.99 L701.50,304.37 L700.50,304.76 L699.50,305.16 L698.50,305.56 L697.50,305.97 L696.50,306.39 L695.50,306.81 L694.50,307.24 L693.50,307.67 L692.50,308.11 L691.50,308.55 L690.50,309.00 L689.50,309.45 L688.50,309.91 L687.50,310.38 L686.50,310.86 L685.50,311.36 L684.50,311.87 L683.50,312.39 L682.50,312.94 L681.50,313.51 L680.50,314.10 L679.50,314.71 L678.50,315.34 L677.50,315.99 L676.50,316.67 L675.50,317.36 L674.50,318.08 L673.50,318.81 L672.50,319.58 L671.50,320.37 L670.50,321.18 L669.50,322.02 L668.50,322.89 L667.50,323.79 L666.50,324.71 L665.50,325.65 L664.50,326.62 L663.50,327.62 L662.50,328.63 L661.50,329.67 L660.50,330.72 L659.50,331.79 L658.50,332.88 L657.50,333.99 L656.50,335.11 L655.50,336.24 L654.50,337.39 L653.50,338.54 L652.50,339.71 L651.50,340.89 L650.50,342.08 L649.50,343.28 L648.50,344.48 L647.50,345.69 L646.50,346.91 L645.50,348.13 L644.50,349.36 L643.50,350.60 L642.50,351.84 L641.50,353.09 L640.50,354.33 L639.50,355.59 L638.50,356.84 L637.50,358.10 L636.50,359.36 L635.50,360.62 L634.50,361.88 L633.50,363.15 L632.50,364.41 L631.50,365.68 L630.50,366.94 L629.50,368.21 L628.50,369.47 L627.50,370.73 L626.50,371.99 L625.50,373.25 L624.50,374.51 L623.50,375.76 L622.50,377.01 L621.50,378.25 L620.50,379.49 L619.50,380.72 L618.50,381.95 L617.50,383.17 L616.50,384.38 L615.50,385.59 L614.50,386.79 L613.50,387.98 L612.50,389.16 L611.50,390.33 L610.50,391.50 L609.50,392.65 L608.50,393.79 L607.50,394.92 L606.50,396.04 L605.50,397.15 L604.50,398.24 L603.50,399.32 L602.50,400.39 L601.50,401.45 L600.50,402.49 L599.50,403.51 L598.50,404.52 L597.50,405.51 L596.50,406.49 L595.50,407.45 L594.50,408.39 L593.50,409.32 L592.50,410.23 L591.50,411.13 L590.50,412.01 L589.50,412.87 L588.50,413.72 L587.50,414.54 L586.50,415.33 L585.50,416.11 L584.50,416.86 L583.50,417.60 L582.50,418.31 L581.50,419.01 L580.50,419.69 L579.50,420.35 L578.50,420.99 L577.50,421.62 L576.50,422.23 L575.50,422.83 L574.50,423.41 L573.50,423.97 L572.50,424.53 L571.50,425.07 L570.50,425.60 L569.50,426.12 L568.50,426.63 L567.50,427.12 L566.50,427.61 L565.50,428.09 L564.50,428.56 L563.50,429.03 L562.50,429.48 L561.50,429.93 L560.50,430.38 L559.50,430.82 L558.50,431.25 L557.50,431.69 L556.50,432.11 L555.50,432.54 L554.50,432.96 L553.50,433.39 L552.50,433.81 L551.50,434.23 L550.50,434.65 L549.50,435.08 L548.50,435.49 L547.50,435.91 L546.50,436.31 L545.50,436.71 L544.50,437.11 L543.50,437.50 L542.50,437.88 L541.50,438.26 L540.50,438.64 L539.50,439.01 L538.50,439.38 L537.50,439.74 L536.50,440.10 L535.50,440.46 L534.50,440.82 L533.50,441.17 L532.50,441.52 L531.50,441.87 L530.50,442.21 L529.50,442.56 L528.50,442.90 L527.50,443.24 L526.50,443.58 L525.50,443.92 L524.50,444.26 L523.50,444.60 L522.50,444.94 L521.50,445.28 L520.50,445.62 L519.50,445.96 L518.50,446.30 L517.50,446.64 L516.50,446.98 L515.50,447.32 L514.50,447.66 L513.50,448.00 L512.50,448.34 L511.50,448.69 L510.50,449.03 L509.50,449.37 L508.50,449.72 L507.50,450.06 L506.50,450.41 L505.50,450.75 L504.50,451.10 L503.50,451.45 L502.50,451.80 L501.50,452.15 L500.50,452.50 L499.50,452.85 L498.50,453.20 L497.50,453.56 L496.50,453.90 L495.50,454.25 L494.50,454.60 L493.50,454.95 L492.50,455.29 L491.50,455.64 L490.50,455.98 L489.50,456.32 L488.50,456.66 L487.50,457.00 L486.50,457.34 L485.50,457.68 L484.50,458.01 L483.50,458.35 L482.50,458.68 L481.50,459.02 L480.50,459.35 L479.50,459.68 L478.50,460.01 L477.50,460.34 L476.50,460.67 L475.50,461.00 L474.50,461.32 L473.50,461.65 L472.50,461.97 L471.50,462.30 L470.50,462.62 L469.50,462.94 L468.50,463.26 L467.50,463.58 L466.50,463.90 L465.50,464.22 L464.50,464.54 L463.50,464.86 L462.50,465.17 L461.50,465.49 L460.50,465.80 L459.50,466.12 L458.50,466.43 L457.50,466.74 L456.50,467.05 L455.50,467.36 L454.50,467.67 L453.50,467.98 L452.50,468.29 L451.50,468.60 L450.50,468.91 L449.50,469.21 L448.50,469.52 L447.50,469.82 L446.50,470.12 L445.50,470.41 L444.50,470.71 L443.50,471.00 L442.50,471.29 L441.50,471.58 L440.50,471.86 L439.50,472.15 L438.50,472.43 L437.50,472.71 L436.50,472.99 L435.50,473.27 L434.50,473.55 L433.50,473.83 L432.50,474.11 L431.50,474.39 L430.50,474.66 L429.50,474.94 L428.50,475.22 L427.50,475.50 L426.50,475.77 L425.50,476.05 L424.50,476.33 L423.50,476.61 L422.50,476.89 L421.50,477.17 L420.50,477.45 L419.50,477.72 L418.50,478.00 L417.50,478.28 L416.50,478.56 L415.50,478.84 L414.50,479.12 L413.50,479.40 L412.50,479.69 L411.50,479.97 L410.50,480.25 L409.50,480.54 L408.50,480.82 L407.50,481.11 L406.50,481.40 L405.50,481.68 L404.50,481.97 L403.50,482.27 L402.50,482.56 L401.50,482.85 L400.50,483.15 L399.50,483.44 L398.50,483.74 L397.50,484.04 L396.50,484.35 L395.50,484.65 L394.50,484.96 L393.50,485.27 L392.50,485.59 L391.50,485.90 L390.50,486.22 L389.50,486.55 L388.50,486.87 L387.50,487.20 L386.50,487.53 L385.50,487.87 L384.50,488.21 L383.50,488.55 L382.50,488.89 L381.50,489.24 L380.50,489.60 L379.50,489.95 L378.50,490.31 L377.50,490.68 L376.50,491.05 L375.50,491.42 L374.50,491.80 L373.50,492.18 L372.50,492.57 L371.50,492.96 L370.50,493.35 L369.50,493.75 L368.50,494.16 L367.50,494.57 L366.50,494.98 L365.50,495.40 L364.50,495.83 L363.50,496.26 L362.50,496.69 L361.50,497.13 L360.50,497.58 L359.50,498.03 L358.50,498.49 L357.50,498.95 L356.50,499.42 L355.50,499.89 L354.50,500.37 L353.50,500.86 L352.50,501.35 L351.50,501.85 L350.50,502.36 L349.50,502.87 L348.50,503.38 L347.50,503.89 L346.50,504.40 L345.50,504.92 L344.50,505.43 L343.50,505.95 L342.50,506.48 L341.50,507.01 L340.50,507.54 L339.50,508.08 L338.50,508.63 L337.50,509.18 L336.50,509.74 L335.50,510.30 L334.50,510.86 L333.50,511.43 L332.50,512.00 L331.50,512.57 L330.50,513.15 L329.50,513.74 L328.50,514.34 L327.50,514.95 L326.50,515.57 L325.50,516.21 L324.50,516.85 L323.50,517.50 L322.50,518.15 L321.50,518.80 L320.50,519.46 L319.50,520.12 L318.50,520.79 L317.50,521.47 L316.50,522.15 L315.50,522.85 L314.50,523.56 L313.50,524.28 L312.50,525.02 L311.50,525.76 L310.50,526.50 L309.50,527.24 L308.50,527.98 L307.50,528.71 L306.50,529.43 L305.50,530.15 L304.50,530.86 L303.50,531.57 L302.50,532.26 L301.50,532.95 L300.50,533.63 L299.50,534.30 L298.50,534.95 L297.50,535.59 L296.50,536.20 L295.50,536.80 L294.50,537.38 L293.50,537.95 L292.50,538.49 L291.50,539.02 L290.50,539.54 L289.50,540.04 L288.50,540.52 L287.50,540.99 L286.50,541.45 L285.50,541.89 L284.50,542.32 L283.50,542.73 L282.50,543.13 L281.50,543.52 L280.50,543.89 L279.50,544.26 L278.50,544.61 L277.50,544.94 L276.50,545.27 L275.50,545.59 L274.50,545.89 L273.50,546.18 L272.50,546.47 L271.50,546.74 L270.50,547.00 L269.50,547.25 L268.50,547.50 L267.50,547.73 L266.50,547.96 L265.50,548.18 L264.50,548.38 L263.50,548.59 L262.50,548.78 L261.50,548.97 L260.50,549.16 L259.50,549.33 L258.50,549.51 L257.50,549.68 L256.50,549.84 L255.50,550.00 L254.50,550.16 L253.50,550.32 L252.50,550.48 L251.50,550.63 L250.50,550.79 L249.50,550.95 L248.50,551.11 L247.50,551.27 L246.50,551.43 L245.50,551.60 L244.50,551.77 L243.50,551.93 L242.50,552.11 L241.50,552.28 L240.50,552.45 L239.50,552.63 L238.50,552.80 L237.50,552.97 L236.50,553.15 L235.50,553.32 L234.50,553.48 L233.50,553.65 L232.50,553.81 L231.50,553.96 L230.50,554.11 L229.50,554.25 L228.50,554.38 L227.50,554.52 L226.50,554.64 L225.50,554.77 L224.50,554.89 L223.50,555.00 L222.50,555.11 L221.50,555.22 L220.50,555.33 L219.50,555.43 L218.50,555.53 L217.50,555.63 L216.50,555.72 L215.50,555.81 L214.50,555.90 L213.50,555.99 L212.50,556.08 L211.50,556.17 L210.50,556.25 L209.50,556.34 L208.50,556.43 L207.50,556.51 L206.50,556.60 L205.50,556.69 L204.50,556.78 L203.50,556.88 L202.50,556.97 L201.50,557.07 L200.50,557.18 L199.50,557.28 L198.50,557.39 L197.50,557.51 L196.50,557.62 L195.50,557.74 L194.50,557.86 L193.50,557.98 L192.50,558.10 L191.50,558.22 L190.50,558.34 L189.50,558.45 L188.50,558.57 L187.50,558.69 L186.50,558.81 L185.50,558.93 L184.50,559.05 L183.50,559.17 L182.50,559.29 L181.50,559.41 L180.50,559.53 L179.50,559.65 L178.50,559.77 L177.50,559.89 L176.50,560.01 L175.50,560.13 L174.50,560.26 L173.50,560.38 L172.50,560.50 L171.50,560.63 L170.50,560.75 L169.50,560.88 L168.50,561.00 L167.50,561.12 L166.50,561.25 L165.50,561.37 L164.50,561.49 L163.50,561.62 L162.50,561.75 L161.50,561.89 L160.50,562.04 L159.50,562.20 L158.50,562.37 L157.50,562.56 L156.50,562.76 L155.50,562.97 L154.50,563.18 L153.50,563.38 L152.50,563.58 L151.50,563.77 L150.50,563.93 L149.50,564.08 L148.50,564.22 L147.50,564.35 L146.50,564.49 L145.50,564.63 L144.50,564.76 L143.50,564.89 L142.50,565.02 L141.50,565.14 L140.50,565.26 L139.50,565.38 L138.50,565.50 L137.50,565.62 L136.50,565.73 L135.50,565.84 L134.50,565.94 L133.50,566.05 L132.50,566.15 L131.50,566.25 L130.50,566.34 L129.50,566.43 L128.50,566.52 L127.50,566.60 L126.50,566.68 L125.50,566.76 L124.50,566.84 L123.50,566.91 L122.50,566.97 L121.50,567.04 L120.50,567.09 L119.50,567.15 L118.50,567.20 L117.50,567.26 L116.50,567.31 L115.50,567.37 L114.50,567.42 L113.50,567.47 L112.50,567.53 L111.50,567.58 L110.50,567.63 L109.50,567.68 L108.50,567.73 L107.50,567.78 L106.50,567.82 L105.50,567.87 L104.50,567.92 L103.50,567.96 L102.50,568.00 L101.50,568.05 L100.50,568.09 L99.50,568.12 L98.50,568.16 L97.50,568.20 L96.50,568.23 L95.50,568.27 L94.50,568.30 L93.50,568.33 L92.50,568.35 L91.50,568.38 L90.50,568.40 L89.50,568.42 L88.50,568.44 L87.50,568.46 L86.50,568.48 L85.50,568.49 L84.50,568.50 L83.50,568.51 L82.50,568.51 L81.50,568.51 L80.50,568.52 L79.50,568.51 L78.50,568.51 L77.50,568.50Z" fill="#1f77b4" fill-opacity="0.1"/>
<path d="M77.50,568.50 L78.50,568.48 L79.50,568.46 L80.50,568.44 L81.50,568.42 L82.50,568.39 L83.50,568.36 L84.50,568.33 L85.50,568.30 L86.50,568.26 L87.50,568.22 L88.50,568.18 L89.50,568.14 L90.50,568.09 L91.50,568.05 L92.50,568.00 L93.50,567.95 L94.50,567.90 L95.50,567.84 L96.50,567.79 L97.50,567.73 L98.50,567.67 L99.50,567.61 L100.50,567.55 L101.50,567.48 L102.50,567.42 L103.50,567.35 L104.50,567.29 L105.50,567.22 L106.50,567.15 L107.50,567.08 L108.50,567.01 L109.50,566.94 L110.50,566.87 L111.50,566.79 L112.50,566.72 L113.50,566.65 L114.50,566.57 L115.50,566.50 L116.50,566.42 L117.50,566.35 L118.50,566.27 L119.50,566.19 L120.50,566.12 L121.50,566.04 L122.50,565.95 L123.50,565.87 L124.50,565.77 L125.50,565.68 L126.50,565.58 L127.50,565.48 L128.50,565.38 L129.50,565.27 L130.50,565.16 L131.50,565.04 L132.50,564.92 L133.50,564.80 L134.50,564.68 L135.50,564.55 L136.50,564.42 L137.50,564.29 L138.50,564.16 L139.50,564.02 L140.50,563.88 L141.50,563.74 L142.50,563.60 L143.50,563.45 L144.50,563.30 L145.50,563.15 L146.50,563.00 L147.50,562.84 L148.50,562.68 L149.50,562.53 L150.50,562.36 L151.50,562.18 L152.50,561.98 L153.50,561.76 L154.50,561.54 L155.50,561.31 L156.50,561.09 L157.50,560.87 L158.50,560.66 L159.50,560.47 L160.50,560.30 L161.50,560.14 L162.50,559.98 L163.50,559.83 L164.50,559.69 L165.50,559.55 L166.50,559.41 L167.50,559.27 L168.50,559.14 L169.50,559.00 L170.50,558.86 L171.50,558.72 L172.50,558.58 L173.50,558.44 L174.50,558.30 L175.50,558.17 L176.50,558.03 L177.50,557.89 L178.50,557.76 L179.50,557.62 L180.50,557.49 L181.50,557.36 L182.50,557.22 L183.50,557.09 L184.50,556.96 L185.50,556.82 L186.50,556.69 L187.50,556.56 L188.50,556.43 L189.50,556.30 L190.50,556.16 L191.50,556.03 L192.50,555.90 L193.50,555.77 L194.50,555.63 L195.50,555.50 L196.50,555.37 L197.50,555.24 L198.50,555.12 L199.50,554.99 L200.50,554.87 L201.50,554.76 L202.50,554.64 L203.50,554.53 L204.50,554.42 L205.50,554.32 L206.50,554.21 L207.50,554.11 L208.50,554.01 L209.50,553.91 L210.50,553.81 L211.50,553.71 L212.50,553.61 L213.50,553.51 L214.50,553.40 L215.50,553.30 L216.50,553.19 L217.50,553.08 L218.50,552.97 L219.50,552.86 L220.50,552.74 L221.50,552.62 L222.50,552.50 L223.50,552.37 L224.50,552.24 L225.50,552.10 L226.50,551.96 L227.50,551.82 L228.50,551.67 L229.50,551.52 L230.50,551.36 L231.50,551.20 L232.50,551.03 L233.50,550.85 L234.50,550.67 L235.50,550.48 L236.50,550.29 L237.50,550.10 L238.50,549.91 L239.50,549.72 L240.50,549.52 L241.50,549.33 L242.50,549.14 L243.50,548.95 L244.50,548.76 L245.50,548.57 L246.50,548.39 L247.50,548.20 L248.50,548.02 L249.50,547.84 L250.50,547.66 L251.50,547.48 L252.50,547.31 L253.50,547.13 L254.50,546.95 L255.50,546.77 L256.50,546.59 L257.50,546.40 L258.50,546.21 L259.50,546.02 L260.50,545.82 L261.50,545.62 L262.50,545.41 L263.50,545.19 L264.50,544.97 L265.50,544.73 L266.50,544.50 L267.50,544.25 L268.50,543.99 L269.50,543.73 L270.50,543.45 L271.50,543.16 L272.50,542.87 L273.50,542.56 L274.50,542.24 L275.50,541.91 L276.50,541.56 L277.50,541.21 L278.50,540.84 L279.50,540.46 L280.50,540.07 L281.50,539.66 L282.50,539.24 L283.50,538.81 L284.50,538.36 L285.50,537.89 L286.50,537.42 L287.50,536.92 L288.50,536.41 L289.50,535.89 L290.50,535.34 L291.50,534.78 L292.50,534.21 L293.50,533.61 L294.50,533.00 L295.50,532.37 L296.50,531.72 L297.50,531.05 L298.50,530.36 L299.50,529.65 L300.50,528.92 L301.50,528.16 L302.50,527.37 L303.50,526.56 L304.50,525.72 L305.50,524.87 L306.50,523.99 L307.50,523.09 L308.50,522.19 L309.50,521.26 L310.50,520.33 L311.50,519.39 L312.50,518.45 L313.50,517.48 L314.50,516.50 L315.50,515.49 L316.50,514.47 L317.50,513.44 L318.50,512.41 L319.50,511.39 L320.50,510.37 L321.50,509.37 L322.50,508.40 L323.50,507.45 L324.50,506.54 L325.50,505.66 L326.50,504.81 L327.50,503.97 L328.50,503.16 L329.50,502.36 L330.50,501.57 L331.50,500.80 L332.50,500.04 L333.50,499.29 L334.50,498.56 L335.50,497.83 L336.50,497.10 L337.50,496.39 L338.50,495.68 L339.50,494.97 L340.50,494.26 L341.50,493.57 L342.50,492.88 L343.50,492.20 L344.50,491.53 L345.50,490.87 L346.50,490.23 L347.50,489.61 L348.50,489.00 L349.50,488.42 L350.50,487.85 L351.50,487.29 L352.50,486.74 L353.50,486.20 L354.50,485.66 L355.50,485.13 L356.50,484.61 L357.50,484.10 L358.50,483.59 L359.50,483.10 L360.50,482.60 L361.50,482.12 L362.50,481.64 L363.50,481.17 L364.50,480.70 L365.50,480.24 L366.50,479.79 L367.50,479.34 L368.50,478.90 L369.50,478.46 L370.50,478.03 L371.50,477.61 L372.50,477.19 L373.50,476.77 L374.50,476.36 L375.50,475.96 L376.50,475.56 L377.50,475.17 L378.50,474.78 L379.50,474.39 L380.50,474.01 L381.50,473.63 L382.50,473.26 L383.50,472.89 L384.50,472.52 L385.50,472.16 L386.50,471.80 L387.50,471.45 L388.50,471.10 L389.50,470.75 L390.50,470.40 L391.50,470.06 L392.50,469.72 L393.50,469.38 L394.50,469.05 L395.50,468.72 L396.50,468.39 L397.50,468.06 L398.50,467.74 L399.50,467.41 L400.50,467.09 L401.50,466.77 L402.50,466.45 L403.50,466.12 L404.50,465.80 L405.50,465.48 L406.50,465.16 L407.50,464.84 L408.50,464.52 L409.50,464.20 L410.50,463.88 L411.50,463.56 L412.50,463.24 L413.50,462.92 L414.50,462.60 L415.50,462.28 L416.50,461.97 L417.50,461.65 L418.50,461.34 L419.50,461.03 L420.50,460.72 L421.50,460.41 L422.50,460.10 L423.50,459.79 L424.50,459.48 L425.50,459.18 L426.50,458.88 L427.50,458.57 L428.50,458.27 L429.50,457.97 L430.50,457.66 L431.50,457.36 L432.50,457.05 L433.50,456.75 L434.50,456.45 L435.50,456.14 L436.50,455.84 L437.50,455.53 L438.50,455.23 L439.50,454.92 L440.50,454.61 L441.50,454.30 L442.50,453.99 L443.50,453.68 L444.50,453.37 L445.50,453.06 L446.50,452.75 L447.50,452.43 L448.50,452.12 L449.50,451.80 L450.50,451.48 L451.50,451.16 L452.50,450.84 L453.50,450.51 L454.50,450.18 L455.50,449.85 L456.50,449.52 L457.50,449.19 L458.50,448.85 L459.50,448.51 L460.50,448.17 L461.50,447.83 L462.50,447.49 L463.50,447.15 L464.50,446.81 L465.50,446.47 L466.50,446.13 L467.50,445.79 L468.50,445.45 L469.50,445.11 L470.50,444.77 L471.50,444.43 L472.50,444.10 L473.50,443.76 L474.50,443.43 L475.50,443.10 L476.50,442.76 L477.50,442.43 L478.50,442.10 L479.50,441.76 L480.50,441.43 L481.50,441.09 L482.50,440.76 L483.50,440.42 L484.50,440.08 L485.50,439.74 L486.50,439.40 L487.50,439.06 L488.50,438.72 L489.50,438.38 L490.50,438.04 L491.50,437.69 L492.50,437.34 L493.50,437.00 L494.50,436.65 L495.50,436.30 L496.50,435.95 L497.50,435.59 L498.50,435.24 L499.50,434.88 L500.50,434.53 L501.50,434.17 L502.50,433.81 L503.50,433.44 L504.50,433.08 L505.50,432.71 L506.50,432.35 L507.50,431.98 L508.50,431.61 L509.50,431.24 L510.50,430.87 L511.50,430.49 L512.50,430.11 L513.50,429.74 L514.50,429.36 L515.50,428.98 L516.50,428.59 L517.50,428.21 L518.50,427.82 L519.50,427.44 L520.50,427.05 L521.50,426.66 L522.50,426.27 L523.50,425.87 L524.50,425.48 L525.50,425.08 L526.50,424.68 L527.50,424.28 L528.50,423.88 L529.50,423.47 L530.50,423.07 L531.50,422.66 L532.50,422.24 L533.50,421.83 L534.50,421.41 L535.50,420.99 L536.50,420.56 L537.50,420.13 L538.50,419.70 L539.50,419.26 L540.50,418.82 L541.50,418.37 L542.50,417.92 L543.50,417.46 L544.50,417.00 L545.50,416.54 L546.50,416.06 L547.50,415.59 L548.50,415.10 L549.50,414.61 L550.50,414.12 L551.50,413.61 L552.50,413.11 L553.50,412.59 L554.50,412.07 L555.50,411.54 L556.50,411.00 L557.50,410.45 L558.50,409.90 L559.50,409.34 L560.50,408.76 L561.50,408.19 L562.50,407.60 L563.50,407.00 L564.50,406.39 L565.50,405.78 L566.50,405.15 L567.50,404.52 L568.50,403.87 L569.50,403.22 L570.50,402.55 L571.50,401.88 L572.50,401.19 L573.50,400.49 L574.50,399.78 L575.50,399.06 L576.50,398.33 L577.50,397.58 L578.50,396.83 L579.50,396.06 L580.50,395.28 L581.50,394.48 L582.50,393.67 L583.50,392.85 L584.50,392.02 L585.50,391.17 L586.50,390.31 L587.50,389.43 L588.50,388.55 L589.50,387.64 L590.50,386.72 L591.50,385.79 L592.50,384.84 L593.50,383.87 L594.50,382.89 L595.50,381.89 L596.50,380.87 L597.50,379.84 L598.50,378.78 L599.50,377.72 L600.50,376.63 L601.50,375.53 L602.50,374.42 L603.50,373.29 L604.50,372.15 L605.50,370.99 L606.50,369.82 L607.50,368.64 L608.50,367.45 L609.50,366.24 L610.50,365.02 L611.50,363.80 L612.50,362.56 L613.50,361.31 L614.50,360.05 L615.50,358.79 L616.50,357.52 L617.50,356.23 L618.50,354.95 L619.50,353.65 L620.50,352.35 L621.50,351.04 L622.50,349.73 L623.50,348.42 L624.50,347.10 L625.50,345.77 L626.50,344.44 L627.50,343.11 L628.50,341.78 L629.50,340.45 L630.50,339.11 L631.50,337.78 L632.50,336.44 L633.50,335.10 L634.50,333.77 L635.50,332.44 L636.50,331.10 L637.50,329.77 L638.50,328.43 L639.50,327.10 L640.50,325.76 L641.50,324.43 L642.50,323.10 L643.50,321.78 L644.50,320.46 L645.50,319.14 L646.50,317.83 L647.50,316.53 L648.50,315.23 L649.50,313.94 L650.50,312.66 L651.50,311.39 L652.50,310.13 L653.50,308.87 L654.50,307.64 L655.50,306.41 L656.50,305.20 L657.50,304.00 L658.50,302.82 L659.50,301.66 L660.50,300.52 L661.50,299.40 L662.50,298.30 L663.50,297.22 L664.50,296.16 L665.50,295.13 L666.50,294.11 L667.50,293.12 L668.50,292.16 L669.50,291.22 L670.50,290.31 L671.50,289.42 L672.50,288.55 L673.50,287.71 L674.50,286.89 L675.50,286.09 L676.50,285.31 L677.50,284.55 L678.50,283.81 L679.50,283.08 L680.50,282.37 L681.50,281.67 L682.50,280.99 L683.50,280.32 L684.50,279.66 L685.50,279.01 L686.50,278.38 L687.50,277.75 L688.50,277.13 L689.50,276.52 L690.50,275.92 L691.50,275.33 L692.50,274.74 L693.50,274.16 L694.50,273.59 L695.50,273.02 L696.50,272.47 L697.50,271.92 L698.50,271.37 L699.50,270.83 L700.50,270.30 L701.50,269.78 L702.50,269.26 L703.50,268.75 L704.50,268.25 L705.50,267.75 L706.50,267.26 L707.50,266.77 L708.50,266.30 L709.50,265.82 L710.50,265.36 L711.50,264.90 L712.50,264.45 L713.50,264.01 L714.50,263.57 L715.50,263.14 L716.50,262.71 L717.50,262.29 L718.50,261.88 L719.50,261.47 L720.50,261.08 L721.50,260.68 L722.50,260.30 L723.50,259.92 L724.50,259.54 L725.50,259.18 L726.50,258.82 L727.50,258.46 L728.50,258.12 L729.50,257.78 L730.50,257.44 L731.50,257.12 L732.50,256.79 L733.50,256.48 L734.50,256.17 L735.50,255.87 L736.00,255.72 L736.00,283.47 L735.50,283.58 L734.50,283.80 L733.50,284.03 L732.50,284.27 L731.50,284.51 L730.50,284.76 L729.50,285.02 L728.50,285.28 L727.50,285.55 L726.50,285.82 L725.50,286.10 L724.50,286.39 L723.50,286.68 L722.50,286.98 L721.50,287.29 L720.50,287.60 L719.50,287.92 L718.50,288.24 L717.50,288.57 L716.50,288.91 L715.50,289.25 L714.50,289.60 L713.50,289.96 L712.50,290.32 L711.50,290.69 L710.50,291.07 L709.50,291.45 L708.50,291.84 L707.50,292.23 L706.50,292.63 L705.50,293.04 L704.50,293.46 L703.50,293.88 L702.50,294.31 L701.50,294.74 L700.50,295.18 L699.50,295.63 L698.50,296.08 L697.50,296.55 L696.50,297.01 L695.50,297.49 L694.50,297.97 L693.50,298.45 L692.50,298.94 L691.50,299.44 L690.50,299.94 L689.50,300.45 L688.50,300.96 L687.50,301.49 L686.50,302.02 L685.50,302.57 L684.50,303.13 L683.50,303.70 L682.50,304.29 L681.50,304.90 L680.50,305.53 L679.50,306.18 L678.50,306.84 L677.50,307.52 L676.50,308.23 L675.50,308.95 L674.50,309.70 L673.50,310.46 L672.50,311.25 L671.50,312.07 L670.50,312.91 L669.50,313.77 L668.50,314.67 L667.50,315.58 L666.50,316.53 L665.50,317.49 L664.50,318.48 L663.50,319.49 L662.50,320.52 L661.50,321.57 L660.50,322.64 L659.50,323.73 L658.50,324.83 L657.50,325.95 L656.50,327.09 L655.50,328.23 L654.50,329.39 L653.50,330.56 L652.50,331.74 L651.50,332.93 L650.50,334.13 L649.50,335.34 L648.50,336.55 L647.50,337.78 L646.50,339.00 L645.50,340.24 L644.50,341.48 L643.50,342.72 L642.50,343.97 L641.50,345.23 L640.50,346.49 L639.50,347.75 L638.50,349.01 L637.50,350.28 L636.50,351.55 L635.50,352.82 L634.50,354.09 L633.50,355.36 L632.50,356.63 L631.50,357.91 L630.50,359.18 L629.50,360.45 L628.50,361.72 L627.50,362.99 L626.50,364.25 L625.50,365.52 L624.50,366.78 L623.50,368.04 L622.50,369.29 L621.50,370.54 L620.50,371.78 L619.50,373.02 L618.50,374.25 L617.50,375.48 L616.50,376.69 L615.50,377.91 L614.50,379.11 L613.50,380.31 L612.50,381.49 L611.50,382.67 L610.50,383.84 L609.50,385.00 L608.50,386.14 L607.50,387.28 L606.50,388.40 L605.50,389.52 L604.50,390.62 L603.50,391.71 L602.50,392.78 L601.50,393.84 L600.50,394.89 L599.50,395.92 L598.50,396.94 L597.50,397.94 L596.50,398.92 L595.50,399.89 L594.50,400.84 L593.50,401.78 L592.50,402.70 L591.50,403.61 L590.50,404.50 L589.50,405.38 L588.50,406.24 L587.50,407.08 L586.50,407.90 L585.50,408.70 L584.50,409.49 L583.50,410.26 L582.50,411.01 L581.50,411.74 L580.50,412.46 L579.50,413.17 L578.50,413.86 L577.50,414.54 L576.50,415.20 L575.50,415.85 L574.50,416.48 L573.50,417.10 L572.50,417.71 L571.50,418.31 L570.50,418.90 L569.50,419.48 L568.50,420.04 L567.50,420.60 L566.50,421.14 L565.50,421.68 L564.50,422.21 L563.50,422.73 L562.50,423.24 L561.50,423.75 L560.50,424.25 L559.50,424.74 L558.50,425.22 L557.50,425.70 L556.50,426.18 L555.50,426.65 L554.50,427.11 L553.50,427.57 L552.50,428.03 L551.50,428.49 L550.50,428.94 L549.50,429.39 L548.50,429.83 L547.50,430.27 L546.50,430.70 L545.50,431.13 L544.50,431.55 L543.50,431.97 L542.50,432.38 L541.50,432.78 L540.50,433.19 L539.50,433.58 L538.50,433.98 L537.50,434.37 L536.50,434.75 L535.50,435.14 L534.50,435.52 L533.50,435.89 L532.50,436.27 L531.50,436.64 L530.50,437.01 L529.50,437.37 L528.50,437.74 L527.50,438.10 L526.50,438.47 L525.50,438.83 L524.50,439.19 L523.50,439.55 L522.50,439.91 L521.50,440.26 L520.50,440.62 L519.50,440.98 L518.50,441.34 L517.50,441.69 L516.50,442.05 L515.50,442.40 L514.50,442.76 L513.50,443.11 L512.50,443.46 L511.50,443.82 L510.50,444.17 L509.50,444.52 L508.50,444.88 L507.50,445.23 L506.50,445.58 L505.50,445.94 L504.50,446.29 L503.50,446.64 L502.50,446.99 L501.50,447.35 L500.50,447.70 L499.50,448.05 L498.50,448.40 L497.50,448.76 L496.50,449.10 L495.50,449.45 L494.50,449.80 L493.50,450.15 L492.50,450.49 L491.50,450.84 L490.50,451.18 L489.50,451.52 L488.50,451.86 L487.50,452.20 L486.50,452.54 L485.50,452.88 L484.50,453.21 L483.50,453.55 L482.50,453.88 L481.50,454.22 L480.50,454.55 L479.50,454.88 L478.50,455.21 L477.50,455.54 L476.50,455.87 L475.50,456.20 L474.50,456.52 L473.50,456.85 L472.50,457.17 L471.50,457.50 L470.50,457.82 L469.50,458.14 L468.50,458.46 L467.50,458.78 L466.50,459.10 L465.50,459.42 L464.50,459.74 L463.50,460.06 L462.50,460.37 L461.50,460.69 L460.50,461.00 L459.50,461.32 L458.50,461.63 L457.50,461.94 L456.50,462.25 L455.50,462.56 L454.50,462.87 L453.50,463.18 L452.50,463.49 L451.50,463.80 L450.50,464.11 L449.50,464.41 L448.50,464.72 L447.50,465.02 L446.50,465.32 L445.50,465.62 L444.50,465.92 L443.50,466.21 L442.50,466.51 L441.50,466.80 L440.50,467.10 L439.50,467.39 L438.50,467.68 L437.50,467.97 L436.50,468.26 L435.50,468.55 L434.50,468.83 L433.50,469.12 L432.50,469.41 L431.50,469.69 L430.50,469.98 L429.50,470.26 L428.50,470.55 L427.50,470.83 L426.50,471.11 L425.50,471.40 L424.50,471.68 L423.50,471.97 L422.50,472.25 L421.50,472.54 L420.50,472.82 L419.50,473.11 L418.50,473.39 L417.50,473.68 L416.50,473.96 L415.50,474.25 L414.50,474.53 L413.50,474.82 L412.50,475.11 L411.50,475.39 L410.50,475.68 L409.50,475.97 L408.50,476.27 L407.50,476.56 L406.50,476.85 L405.50,477.15 L404.50,477.44 L403.50,477.74 L402.50,478.04 L401.50,478.34 L400.50,478.64 L399.50,478.95 L398.50,479.25 L397.50,479.56 L396.50,479.87 L395.50,480.19 L394.50,480.50 L393.50,480.82 L392.50,481.15 L391.50,481.47 L390.50,481.80 L389.50,482.13 L388.50,482.46 L387.50,482.80 L386.50,483.14 L385.50,483.49 L384.50,483.83 L383.50,484.19 L382.50,484.54 L381.50,484.90 L380.50,485.26 L379.50,485.63 L378.50,486.00 L377.50,486.38 L376.50,486.76 L375.50,487.14 L374.50,487.53 L373.50,487.92 L372.50,488.32 L371.50,488.72 L370.50,489.13 L369.50,489.54 L368.50,489.96 L367.50,490.38 L366.50,490.81 L365.50,491.24 L364.50,491.68 L363.50,492.12 L362.50,492.57 L361.50,493.03 L360.50,493.49 L359.50,493.96 L358.50,494.43 L357.50,494.91 L356.50,495.40 L355.50,495.89 L354.50,496.39 L353.50,496.89 L352.50,497.40 L351.50,497.92 L350.50,498.45 L349.50,498.98 L348.50,499.51 L347.50,500.05 L346.50,500.59 L345.50,501.14 L344.50,501.69 L343.50,502.25 L342.50,502.81 L341.50,503.38 L340.50,503.96 L339.50,504.54 L338.50,505.13 L337.50,505.73 L336.50,506.34 L335.50,506.95 L334.50,507.56 L333.50,508.18 L332.50,508.81 L331.50,509.45 L330.50,510.09 L329.50,510.75 L328.50,511.41 L327.50,512.09 L326.50,512.77 L325.50,513.47 L324.50,514.19 L323.50,514.91 L322.50,515.63 L321.50,516.36 L320.50,517.10 L319.50,517.84 L318.50,518.59 L317.50,519.34 L316.50,520.10 L315.50,520.87 L314.50,521.65 L313.50,522.43 L312.50,523.22 L311.50,524.01 L310.50,524.80 L309.50,525.58 L308.50,526.36 L307.50,527.13 L306.50,527.90 L305.50,528.65 L304.50,529.40 L303.50,530.13 L302.50,530.86 L301.50,531.57 L300.50,532.27 L299.50,532.96 L298.50,533.63 L297.50,534.28 L296.50,534.91 L295.50,535.52 L294.50,536.12 L293.50,536.69 L292.50,537.25 L291.50,537.80 L290.50,538.33 L289.50,538.84 L288.50,539.33 L287.50,539.81 L286.50,540.28 L285.50,540.73 L284.50,541.17 L283.50,541.59 L282.50,542.00 L281.50,542.40 L280.50,542.78 L279.50,543.16 L278.50,543.52 L277.50,543.86 L276.50,544.20 L275.50,544.52 L274.50,544.83 L273.50,545.13 L272.50,545.43 L271.50,545.70 L270.50,545.97 L269.50,546.23 L268.50,546.48 L267.50,546.72 L266.50,546.96 L265.50,547.18 L264.50,547.40 L263.50,547.61 L262.50,547.81 L261.50,548.00 L260.50,548.19 L259.50,548.38 L258.50,548.56 L257.50,548.73 L256.50,548.90 L255.50,549.07 L254.50,549.24 L253.50,549.40 L252.50,549.56 L251.50,549.73 L250.50,549.89 L249.50,550.05 L248.50,550.22 L247.50,550.38 L246.50,550.55 L245.50,550.72 L244.50,550.90 L243.50,551.07 L242.50,551.25 L241.50,551.43 L240.50,551.61 L239.50,551.79 L238.50,551.97 L237.50,552.15 L236.50,552.32 L235.50,552.50 L234.50,552.67 L233.50,552.84 L232.50,553.01 L231.50,553.16 L230.50,553.32 L229.50,553.46 L228.50,553.60 L227.50,553.74 L226.50,553.87 L225.50,554.00 L224.50,554.12 L223.50,554.24 L222.50,554.36 L221.50,554.47 L220.50,554.58 L219.50,554.69 L218.50,554.79 L217.50,554.89 L216.50,554.99 L215.50,555.09 L214.50,555.18 L213.50,555.28 L212.50,555.37 L211.50,555.46 L210.50,555.55 L209.50,555.64 L208.50,555.73 L207.50,555.82 L206.50,555.91 L205.50,556.01 L204.50,556.10 L203.50,556.20 L202.50,556.30 L201.50,556.41 L200.50,556.51 L199.50,556.62 L198.50,556.74 L197.50,556.85 L196.50,556.97 L195.50,557.09 L194.50,557.22 L193.50,557.34 L192.50,557.46 L191.50,557.59 L190.50,557.71 L189.50,557.83 L188.50,557.95 L187.50,558.08 L186.50,558.20 L185.50,558.32 L184.50,558.44 L183.50,558.57 L182.50,558.69 L181.50,558.82 L180.50,558.94 L179.50,559.06 L178.50,559.19 L177.50,559.31 L176.50,559.44 L175.50,559.57 L174.50,559.69 L173.50,559.82 L172.50,559.95 L171.50,560.08 L170.50,560.21 L169.50,560.34 L168.50,560.46 L167.50,560.59 L166.50,560.72 L165.50,560.84 L164.50,560.97 L163.50,561.11 L162.50,561.24 L161.50,561.39 L160.50,561.54 L159.50,561.70 L158.50,561.88 L157.50,562.07 L156.50,562.28 L155.50,562.49 L154.50,562.71 L153.50,562.92 L152.50,563.12 L151.50,563.31 L150.50,563.48 L149.50,563.63 L148.50,563.77 L147.50,563.92 L146.50,564.06 L145.50,564.20 L144.50,564.34 L143.50,564.47 L142.50,564.61 L141.50,564.74 L140.50,564.86 L139.50,564.99 L138.50,565.11 L137.50,565.23 L136.50,565.35 L135.50,565.47 L134.50,565.58 L133.50,565.69 L132.50,565.79 L131.50,565.90 L130.50,566.00 L129.50,566.10 L128.50,566.19 L127.50,566.28 L126.50,566.37 L125.50,566.45 L124.50,566.53 L123.50,566.61 L122.50,566.68 L121.50,566.75 L120.50,566.81 L119.50,566.87 L118.50,566.94 L117.50,567.00 L116.50,567.06 L115.50,567.12 L114.50,567.18 L113.50,567.24 L112.50,567.29 L111.50,567.35 L110.50,567.41 L109.50,567.47 L108.50,567.52 L107.50,567.58 L106.50,567.63 L105.50,567.68 L104.50,567.74 L103.50,567.79 L102.50,567.84 L101.50,567.88 L100.50,567.93 L99.50,567.98 L98.50,568.02 L97.50,568.06 L96.50,568.10 L95.50,568.14 L94.50,568.18 L93.50,568.22 L92.50,568.25 L91.50,568.28 L90.50,568.31 L89.50,568.34 L88.50,568.37 L87.50,568.39 L86.50,568.41 L85.50,568.43 L84.50,568.45 L83.50,568.46 L82.50,568.48 L81.50,568.49 L80.50,568.49 L79.50,568.50 L78.50,568.50 L77.50,568.50Z" fill="#1f77b4" fill-opacity="0.1"/>
<path d="M736.00,238.20 L737.00,237.86 L738.00,237.53 L739.00,237.20 L740.00,236.87 L741.00,236.55 L742.00,236.24 L743.00,235.93 L744.00,235.63 L745.00,235.33 L746.00,235.04 L747.00,234.75 L748.00,234.47 L749.00,234.20 L750.00,233.94 L751.00,233.67 L752.00,233.42 L753.00,233.16 L754.00,232.92 L755.00,232.67 L756.00,232.43 L757.00,232.19 L758.00,231.96 L759.00,231.73 L760.00,231.50 L761.00,231.27 L762.00,231.05 L763.00,230.82 L764.00,230.60 L765.00,230.38 L766.00,230.16 L767.00,229.95 L768.00,229.74 L769.00,229.54 L770.00,229.34 L771.00,229.15 L772.00,228.97 L773.00,228.80 L774.00,228.63 L775.00,228.46 L776.00,228.29 L777.00,228.12 L778.00,227.96 L779.00,227.81 L780.00,227.66 L781.00,227.51 L782.00,227.36 L783.00,227.23 L784.00,227.09 L785.00,226.96 L785.50,226.90 L785.50,235.00 L785.00,234.98 L784.00,234.95 L783.00,234.93 L782.00,234.91 L781.00,234.90 L780.00,234.88 L779.00,234.88 L778.00,234.87 L777.00,234.87 L776.00,234.88 L775.00,234.89 L774.00,234.89 L773.00,234.91 L772.00,234.92 L771.00,234.94 L770.00,234.97 L769.00,235.00 L768.00,235.04 L767.00,235.09 L766.00,235.14 L765.00,235.19 L764.00,235.25 L763.00,235.31 L762.00,235.37 L761.00,235.44 L760.00,235.50 L759.00,235.56 L758.00,235.63 L757.00,235.70 L756.00,235.77 L755.00,235.85 L754.00,235.93 L753.00,236.01 L752.00,236.10 L751.00,236.19 L750.00,236.29 L749.00,236.39 L748.00,236.49 L747.00,236.60 L746.00,236.72 L745.00,236.85 L744.00,236.98 L743.00,237.11 L742.00,237.25 L741.00,237.40 L740.00,237.55 L739.00,237.70 L738.00,237.86 L737.00,238.03 L736.00,238.20Z" fill="#1f77b4" fill-opacity="0.1"/>
<path d="M736.00,238.20 L737.00,237.89 L738.00,237.58 L739.00,237.27 L740.00,236.98 L741.00,236.68 L742.00,236.39 L743.00,236.11 L744.00,235.83 L745.00,235.56 L746.00,235.29 L747.00,235.03 L748.00,234.78 L749.00,234.53 L750.00,234.29 L751.00,234.05 L752.00,233.82 L753.00,233.59 L754.00,233.37 L755.00,233.15 L756.00,232.93 L757.00,232.72 L758.00,232.51 L759.00,232.30 L760.00,232.09 L761.00,231.89 L762.00,231.69 L763.00,231.48 L764.00,231.28 L765.00,231.09 L766.00,230.89 L767.00,230.70 L768.00,230.52 L769.00,230.34 L770.00,230.17 L771.00,230.00 L772.00,229.84 L773.00,229.69 L774.00,229.54 L775.00,229.39 L776.00,229.24 L777.00,229.10 L778.00,228.96 L779.00,228.83 L780.00,228.70 L781.00,228.57 L782.00,228.45 L783.00,228.33 L784.00,228.22 L785.00,228.11 L785.50,228.06 L785.50,233.48 L785.00,233.48 L784.00,233.48 L783.00,233.49 L782.00,233.50 L781.00,233.52 L780.00,233.54 L779.00,233.56 L778.00,233.59 L777.00,233.62 L776.00,233.66 L775.00,233.70 L774.00,233.74 L773.00,233.78 L772.00,233.83 L771.00,233.88 L770.00,233.93 L769.00,234.00 L768.00,234.07 L767.00,234.15 L766.00,234.23 L765.00,234.31 L764.00,234.40 L763.00,234.49 L762.00,234.59 L761.00,234.68 L760.00,234.77 L759.00,234.87 L758.00,234.97 L757.00,235.07 L756.00,235.17 L755.00,235.28 L754.00,235.39 L753.00,235.50 L752.00,235.62 L751.00,235.74 L750.00,235.87 L749.00,236.00 L748.00,236.13 L747.00,236.27 L746.00,236.42 L745.00,236.58 L744.00,236.74 L743.00,236.90 L742.00,237.07 L741.00,237.25 L740.00,237.43 L739.00,237.61 L738.00,237.80 L737.00,238.00 L736.00,238.20Z" fill="#1f77b4" fill-opacity="0.1"/>
<path d="M736.00,238.20 L737.00,237.91 L738.00,237.63 L739.00,237.34 L740.00,237.07 L741.00,236.80 L742.00,236.53 L743.00,236.27 L744.00,236.02 L745.00,235.77 L746.00,235.53 L747.00,235.29 L748.00,235.06 L749.00,234.83 L750.00,234.61 L751.00,234.40 L752.00,234.19 L753.00,233.98 L754.00,233.78 L755.00,233.58 L756.00,233.38 L757.00,233.19 L758.00,233.00 L759.00,232.82 L760.00,232.63 L761.00,232.45 L762.00,232.27 L763.00,232.09 L764.00,231.91 L765.00,231.73 L766.00,231.56 L767.00,231.39 L768.00,231.23 L769.00,231.07 L770.00,230.91 L771.00,230.77 L772.00,230.63 L773.00,230.49 L774.00,230.36 L775.00,230.24 L776.00,230.11 L777.00,229.99 L778.00,229.87 L779.00,229.75 L780.00,229.64 L781.00,229.53 L782.00,229.43 L783.00,229.33 L784.00,229.24 L785.00,229.15 L785.50,229.11 L785.50,232.10 L785.00,232.12 L784.00,232.15 L783.00,232.18 L782.00,232.22 L781.00,232.27 L780.00,232.32 L779.00,232.37 L778.00,232.43 L777.00,232.49 L776.00,232.55 L775.00,232.61 L774.00,232.68 L773.00,232.76 L772.00,232.83 L771.00,232.91 L770.00,232.99 L769.00,233.09 L768.00,233.19 L767.00,233.29 L766.00,233.40 L765.00,233.51 L764.00,233.63 L763.00,233.75 L762.00,233.87 L761.00,233.99 L760.00,234.11 L759.00,234.24 L758.00,234.36 L757.00,234.49 L756.00,234.62 L755.00,234.76 L754.00,234.89 L753.00,235.03 L752.00,235.18 L751.00,235.33 L750.00,235.48 L749.00,235.64 L748.00,235.80 L747.00,235.97 L746.00,236.15 L745.00,236.33 L744.00,236.52 L743.00,236.71 L742.00,236.91 L741.00,237.11 L740.00,237.32 L739.00,237.53 L738.00,237.75 L737.00,237.97 L736.00,238.20Z" fill="#1f77b4" fill-opacity="0.1"/>
<line x1="77.5" x2="785.5" y1="568.50" y2="568.50" stroke="#b0b0b0" stroke-width="1"/>
<line x1="77.5" x2="785.5" y1="506.50" y2="506.50" stroke="#b0b0b0" stroke-width="1"/>
<line x1="77.5" x2="785.5" y1="444.50" y2="444.50" stroke="#b0b0b0" stroke-width="1"/>
<line x1="77.5" x2="785.5" y1="382.50" y2="382.50" stroke="#b0b0b0" stroke-width="1"/>
<line x1="77.5" x2="785.5" y1="320.50" y2="320.50" stroke="#b0b0b0" stroke-width="1"/>
<line x1="77.5" x2="785.5" y1="258.50" y2="258.50" stroke="#b0b0b0" stroke-width="1"/>
<line x1="77.5" x2="785.5" y1="196.50" y2="196.50" stroke="#b0b0b0" stroke-width="1"/>
<line x1="77.5" x2="785.5" y1="134.50" y2="134.50" stroke="#b0b0b0" stroke-width="1"/>
<line x1="77.5" x2="785.5" y1="72.50" y2="72.50" stroke="#b0b0b0" stroke-width="1"/>
<path d="M77.50,568.50 L78.50,568.49 L79.50,568.48 L80.50,568.47 L81.50,568.45 L82.50,568.43 L83.50,568.41 L84.50,568.39 L85.50,568.37 L86.50,568.34 L87.50,568.31 L88.50,568.27 L89.50,568.24 L90.50,568.20 L91.50,568.17 L92.50,568.12 L93.50,568.08 L94.50,568.04 L95.50,567.99 L96.50,567.94 L97.50,567.90 L98.50,567.84 L99.50,567.79 L100.50,567.74 L101.50,567.68 L102.50,567.63 L103.50,567.57 L104.50,567.51 L105.50,567.45 L106.50,567.39 L107.50,567.33 L108.50,567.27 L109.50,567.20 L110.50,567.14 L111.50,567.07 L112.50,567.01 L113.50,566.94 L114.50,566.87 L115.50,566.81 L116.50,566.74 L117.50,566.67 L118.50,566.60 L119.50,566.53 L120.50,566.47 L121.50,566.39 L122.50,566.32 L123.50,566.24 L124.50,566.15 L125.50,566.06 L126.50,565.97 L127.50,565.88 L128.50,565.78 L129.50,565.68 L130.50,565.58 L131.50,565.47 L132.50,565.36 L133.50,565.25 L134.50,565.13 L135.50,565.01 L136.50,564.89 L137.50,564.76 L138.50,564.64 L139.50,564.51 L140.50,564.37 L141.50,564.24 L142.50,564.10 L143.50,563.96 L144.50,563.82 L145.50,563.67 L146.50,563.53 L147.50,563.38 L148.50,563.23 L149.50,563.08 L150.50,562.92 L151.50,562.74 L152.50,562.55 L153.50,562.34 L154.50,562.12 L155.50,561.90 L156.50,561.68 L157.50,561.47 L158.50,561.27 L159.50,561.09 L160.50,560.92 L161.50,560.76 L162.50,560.61 L163.50,560.47 L164.50,560.33 L165.50,560.20 L166.50,560.06 L167.50,559.93 L168.50,559.80 L169.50,559.67 L170.50,559.53 L171.50,559.40 L172.50,559.26 L173.50,559.13 L174.50,559.00 L175.50,558.87 L176.50,558.74 L177.50,558.60 L178.50,558.47 L179.50,558.34 L180.50,558.21 L181.50,558.09 L182.50,557.96 L183.50,557.83 L184.50,557.70 L185.50,557.57 L186.50,557.45 L187.50,557.32 L188.50,557.19 L189.50,557.06 L190.50,556.94 L191.50,556.81 L192.50,556.68 L193.50,556.55 L194.50,556.42 L195.50,556.30 L196.50,556.17 L197.50,556.05 L198.50,555.93 L199.50,555.81 L200.50,555.69 L201.50,555.58 L202.50,555.47 L203.50,555.37 L204.50,555.26 L205.50,555.16 L206.50,555.06 L207.50,554.97 L208.50,554.87 L209.50,554.77 L210.50,554.68 L211.50,554.58 L212.50,554.49 L213.50,554.39 L214.50,554.29 L215.50,554.19 L216.50,554.09 L217.50,553.99 L218.50,553.88 L219.50,553.77 L220.50,553.66 L221.50,553.55 L222.50,553.43 L223.50,553.31 L224.50,553.18 L225.50,553.05 L226.50,552.92 L227.50,552.78 L228.50,552.64 L229.50,552.49 L230.50,552.34 L231.50,552.18 L232.50,552.02 L233.50,551.84 L234.50,551.67 L235.50,551.49 L236.50,551.31 L237.50,551.12 L238.50,550.94 L239.50,550.75 L240.50,550.57 L241.50,550.38 L242.50,550.20 L243.50,550.01 L244.50,549.83 L245.50,549.65 L246.50,549.47 L247.50,549.29 L248.50,549.12 L249.50,548.95 L250.50,548.77 L251.50,548.60 L252.50,548.43 L253.50,548.26 L254.50,548.09 L255.50,547.92 L256.50,547.74 L257.50,547.56 L258.50,547.38 L259.50,547.20 L260.50,547.00 L261.50,546.81 L262.50,546.60 L263.50,546.39 L264.50,546.18 L265.50,545.95 L266.50,545.72 L267.50,545.48 L268.50,545.23 L269.50,544.97 L270.50,544.71 L271.50,544.43 L272.50,544.14 L273.50,543.84 L274.50,543.53 L275.50,543.21 L276.50,542.87 L277.50,542.53 L278.50,542.17 L279.50,541.80 L280.50,541.42 L281.50,541.02 L282.50,540.61 L283.50,540.19 L284.50,539.76 L285.50,539.30 L286.50,538.84 L287.50,538.36 L288.50,537.86 L289.50,537.35 L290.50,536.83 L291.50,536.28 L292.50,535.72 L293.50,535.15 L294.50,534.55 L295.50,533.94 L296.50,533.31 L297.50,532.66 L298.50,531.99 L299.50,531.31 L300.50,530.60 L301.50,529.87 L302.50,529.13 L303.50,528.37 L304.50,527.59 L305.50,526.80 L306.50,526.00 L307.50,525.19 L308.50,524.37 L309.50,523.53 L310.50,522.69 L311.50,521.85 L312.50,521.00 L313.50,520.14 L314.50,519.29 L315.50,518.43 L316.50,517.58 L317.50,516.72 L318.50,515.87 L319.50,515.02 L320.50,514.18 L321.50,513.35 L322.50,512.52 L323.50,511.70 L324.50,510.90 L325.50,510.10 L326.50,509.32 L327.50,508.55 L328.50,507.80 L329.50,507.05 L330.50,506.32 L331.50,505.60 L332.50,504.89 L333.50,504.18 L334.50,503.49 L335.50,502.81 L336.50,502.14 L337.50,501.48 L338.50,500.82 L339.50,500.18 L340.50,499.54 L341.50,498.91 L342.50,498.29 L343.50,497.68 L344.50,497.08 L345.50,496.48 L346.50,495.90 L347.50,495.32 L348.50,494.74 L349.50,494.18 L350.50,493.62 L351.50,493.08 L352.50,492.53 L353.50,492.00 L354.50,491.47 L355.50,490.95 L356.50,490.44 L357.50,489.93 L358.50,489.43 L359.50,488.94 L360.50,488.45 L361.50,487.97 L362.50,487.50 L363.50,487.03 L364.50,486.57 L365.50,486.11 L366.50,485.66 L367.50,485.22 L368.50,484.78 L369.50,484.35 L370.50,483.92 L371.50,483.50 L372.50,483.08 L373.50,482.67 L374.50,482.26 L375.50,481.86 L376.50,481.46 L377.50,481.07 L378.50,480.68 L379.50,480.30 L380.50,479.92 L381.50,479.54 L382.50,479.17 L383.50,478.80 L384.50,478.44 L385.50,478.08 L386.50,477.73 L387.50,477.38 L388.50,477.03 L389.50,476.68 L390.50,476.34 L391.50,476.00 L392.50,475.67 L393.50,475.34 L394.50,475.01 L395.50,474.68 L396.50,474.36 L397.50,474.04 L398.50,473.72 L399.50,473.40 L400.50,473.09 L401.50,472.78 L402.50,472.47 L403.50,472.16 L404.50,471.85 L405.50,471.55 L406.50,471.25 L407.50,470.94 L408.50,470.64 L409.50,470.35 L410.50,470.05 L411.50,469.75 L412.50,469.46 L413.50,469.16 L414.50,468.87 L415.50,468.58 L416.50,468.28 L417.50,467.99 L418.50,467.70 L419.50,467.41 L420.50,467.12 L421.50,466.83 L422.50,466.54 L423.50,466.24 L424.50,465.95 L425.50,465.66 L426.50,465.37 L427.50,465.08 L428.50,464.78 L429.50,464.49 L430.50,464.19 L431.50,463.90 L432.50,463.60 L433.50,463.31 L434.50,463.01 L435.50,462.71 L436.50,462.42 L437.50,462.12 L438.50,461.82 L439.50,461.52 L440.50,461.22 L441.50,460.92 L442.50,460.62 L443.50,460.32 L444.50,460.01 L445.50,459.71 L446.50,459.41 L447.50,459.10 L448.50,458.80 L449.50,458.49 L450.50,458.19 L451.50,457.88 L452.50,457.57 L453.50,457.26 L454.50,456.95 L455.50,456.64 L456.50,456.33 L457.50,456.02 L458.50,455.71 L459.50,455.40 L460.50,455.08 L461.50,454.77 L462.50,454.45 L463.50,454.14 L464.50,453.82 L465.50,453.50 L466.50,453.18 L467.50,452.86 L468.50,452.54 L469.50,452.22 L470.50,451.90 L471.50,451.58 L472.50,451.25 L473.50,450.93 L474.50,450.60 L475.50,450.28 L476.50,449.95 L477.50,449.62 L478.50,449.29 L479.50,448.96 L480.50,448.63 L481.50,448.30 L482.50,447.96 L483.50,447.63 L484.50,447.29 L485.50,446.96 L486.50,446.62 L487.50,446.28 L488.50,445.94 L489.50,445.60 L490.50,445.26 L491.50,444.92 L492.50,444.57 L493.50,444.23 L494.50,443.88 L495.50,443.53 L496.50,443.18 L497.50,442.84 L498.50,442.48 L499.50,442.13 L500.50,441.78 L501.50,441.43 L502.50,441.07 L503.50,440.71 L504.50,440.36 L505.50,440.00 L506.50,439.64 L507.50,439.27 L508.50,438.91 L509.50,438.55 L510.50,438.18 L511.50,437.81 L512.50,437.45 L513.50,437.08 L514.50,436.71 L515.50,436.33 L516.50,435.96 L517.50,435.59 L518.50,435.21 L519.50,434.83 L520.50,434.45 L521.50,434.07 L522.50,433.69 L523.50,433.31 L524.50,432.93 L525.50,432.54 L526.50,432.15 L527.50,431.76 L528.50,431.37 L529.50,430.98 L530.50,430.59 L531.50,430.19 L532.50,429.79 L533.50,429.38 L534.50,428.98 L535.50,428.57 L536.50,428.15 L537.50,427.74 L538.50,427.32 L539.50,426.89 L540.50,426.46 L541.50,426.03 L542.50,425.59 L543.50,425.15 L544.50,424.70 L545.50,424.25 L546.50,423.79 L547.50,423.32 L548.50,422.85 L549.50,422.38 L550.50,421.89 L551.50,421.40 L552.50,420.91 L553.50,420.41 L554.50,419.90 L555.50,419.38 L556.50,418.86 L557.50,418.33 L558.50,417.79 L559.50,417.24 L560.50,416.68 L561.50,416.12 L562.50,415.55 L563.50,414.97 L564.50,414.38 L565.50,413.78 L566.50,413.17 L567.50,412.55 L568.50,411.92 L569.50,411.28 L570.50,410.64 L571.50,409.98 L572.50,409.31 L573.50,408.63 L574.50,407.94 L575.50,407.24 L576.50,406.52 L577.50,405.80 L578.50,405.06 L579.50,404.32 L580.50,403.56 L581.50,402.78 L582.50,402.00 L583.50,401.20 L584.50,400.39 L585.50,399.57 L586.50,398.73 L587.50,397.88 L588.50,397.02 L589.50,396.14 L590.50,395.25 L591.50,394.34 L592.50,393.42 L593.50,392.49 L594.50,391.54 L595.50,390.57 L596.50,389.59 L597.50,388.59 L598.50,387.58 L599.50,386.56 L600.50,385.52 L601.50,384.46 L602.50,383.39 L603.50,382.31 L604.50,381.21 L605.50,380.11 L606.50,378.99 L607.50,377.85 L608.50,376.71 L609.50,375.56 L610.50,374.39 L611.50,373.22 L612.50,372.03 L613.50,370.84 L614.50,369.64 L615.50,368.43 L616.50,367.21 L617.50,365.99 L618.50,364.76 L619.50,363.52 L620.50,362.27 L621.50,361.03 L622.50,359.77 L623.50,358.51 L624.50,357.25 L625.50,355.98 L626.50,354.71 L627.50,353.44 L628.50,352.16 L629.50,350.88 L630.50,349.60 L631.50,348.32 L632.50,347.04 L633.50,345.76 L634.50,344.47 L635.50,343.19 L636.50,341.91 L637.50,340.63 L638.50,339.35 L639.50,338.08 L640.50,336.81 L641.50,335.54 L642.50,334.27 L643.50,333.01 L644.50,331.75 L645.50,330.50 L646.50,329.26 L647.50,328.01 L648.50,326.78 L649.50,325.55 L650.50,324.33 L651.50,323.12 L652.50,321.91 L653.50,320.72 L654.50,319.53 L655.50,318.36 L656.50,317.19 L657.50,316.04 L658.50,314.91 L659.50,313.79 L660.50,312.68 L661.50,311.59 L662.50,310.52 L663.50,309.47 L664.50,308.44 L665.50,307.43 L666.50,306.43 L667.50,305.47 L668.50,304.52 L669.50,303.60 L670.50,302.71 L671.50,301.84 L672.50,300.99 L673.50,300.16 L674.50,299.36 L675.50,298.58 L676.50,297.82 L677.50,297.08 L678.50,296.36 L679.50,295.65 L680.50,294.96 L681.50,294.29 L682.50,293.63 L683.50,292.98 L684.50,292.35 L685.50,291.73 L686.50,291.12 L687.50,290.52 L688.50,289.93 L689.50,289.34 L690.50,288.77 L691.50,288.20 L692.50,287.63 L693.50,287.08 L694.50,286.53 L695.50,285.99 L696.50,285.45 L697.50,284.92 L698.50,284.40 L699.50,283.88 L700.50,283.37 L701.50,282.87 L702.50,282.37 L703.50,281.88 L704.50,281.39 L705.50,280.92 L706.50,280.45 L707.50,279.98 L708.50,279.52 L709.50,279.07 L710.50,278.63 L711.50,278.19 L712.50,277.76 L713.50,277.33 L714.50,276.91 L715.50,276.50 L716.50,276.09 L717.50,275.69 L718.50,275.30 L719.50,274.91 L720.50,274.53 L721.50,274.15 L722.50,273.78 L723.50,273.42 L724.50,273.06 L725.50,272.71 L726.50,272.37 L727.50,272.03 L728.50,271.70 L729.50,271.37 L730.50,271.06 L731.50,270.74 L732.50,270.44 L733.50,270.14 L734.50,269.84 L735.50,269.55 L736.00,269.41" fill="none" stroke="#1f77b4" stroke-width="2.08" stroke-linejoin="round"/>
<path d="M736.00,238.20 L737.00,237.94 L738.00,237.68 L739.00,237.43 L740.00,237.19 L741.00,236.94 L742.00,236.71 L743.00,236.47 L744.00,236.25 L745.00,236.03 L746.00,235.81 L747.00,235.60 L748.00,235.40 L749.00,235.20 L750.00,235.01 L751.00,234.82 L752.00,234.64 L753.00,234.46 L754.00,234.28 L755.00,234.11 L756.00,233.95 L757.00,233.78 L758.00,233.62 L759.00,233.46 L760.00,233.30 L761.00,233.14 L762.00,232.99 L763.00,232.83 L764.00,232.68 L765.00,232.53 L766.00,232.38 L767.00,232.24 L768.00,232.10 L769.00,231.96 L770.00,231.83 L771.00,231.71 L772.00,231.60 L773.00,231.49 L774.00,231.38 L775.00,231.28 L776.00,231.18 L777.00,231.08 L778.00,230.99 L779.00,230.90 L780.00,230.81 L781.00,230.72 L782.00,230.64 L783.00,230.57 L784.00,230.50 L785.00,230.43 L785.50,230.40" fill="none" stroke="#1f77b4" stroke-width="2.08" stroke-linejoin="round"/>
<path d="M77.50,568.50 L77.94,568.50 L79.70,568.50 L81.45,568.50 L83.21,568.50 L84.97,568.50 L86.72,568.50 L88.48,568.49 L90.23,568.49 L91.99,568.48 L93.74,568.48 L95.50,568.47 L97.25,568.47 L99.01,568.46 L100.77,568.45 L102.52,568.44 L104.28,568.43 L106.03,568.42 L107.79,568.41 L109.54,568.40 L111.30,568.39 L113.06,568.37 L114.81,568.35 L116.57,568.33 L118.32,568.31 L120.08,568.28 L121.83,568.21 L123.59,567.95 L125.34,567.55 L127.10,567.28 L128.86,567.15 L130.61,567.04 L132.37,566.96 L134.12,566.91 L135.88,566.84 L137.63,566.75 L139.39,566.67 L141.14,566.60 L142.90,566.54 L144.66,566.50 L146.41,566.47 L148.17,566.42 L149.92,566.36 L151.68,566.30 L153.43,566.23 L155.19,566.17 L156.95,566.11 L158.70,566.07 L160.46,566.01 L162.21,565.92 L163.97,565.82 L165.72,565.73 L167.48,565.64 L169.23,565.57 L170.99,565.52 L172.75,565.45 L174.50,565.35 L176.26,565.24 L178.01,565.14 L179.77,565.04 L181.52,564.97 L183.28,564.92 L185.03,564.84 L186.79,564.73 L188.55,564.62 L190.30,564.51 L192.06,564.40 L193.81,564.33 L195.57,564.27 L197.32,564.18 L199.08,564.07 L200.84,563.95 L202.59,563.83 L204.35,563.72 L206.10,563.64 L207.86,563.58 L209.61,563.49 L211.37,563.35 L213.12,563.20 L214.88,563.05 L216.64,562.88 L218.39,562.75 L220.15,562.66 L221.90,562.49 L223.66,562.27 L225.41,562.02 L227.17,561.76 L228.92,561.51 L230.68,561.31 L232.44,561.18 L234.19,560.94 L235.95,560.63 L237.70,560.28 L239.46,559.94 L241.21,559.60 L242.97,559.34 L244.73,559.17 L246.48,558.87 L248.24,558.48 L249.99,558.06 L251.75,557.64 L253.50,557.23 L255.26,556.92 L257.01,556.70 L258.77,556.34 L260.53,555.84 L262.28,555.30 L264.04,554.76 L265.79,554.20 L267.55,553.78 L269.30,553.48 L271.06,552.97 L272.81,552.28 L274.57,551.52 L276.33,550.75 L278.08,549.96 L279.84,549.35 L281.59,548.94 L283.35,548.21 L285.10,547.24 L286.86,546.17 L288.62,545.09 L290.37,543.99 L292.13,543.15 L293.88,542.58 L295.64,541.58 L297.39,540.25 L299.15,538.78 L300.90,537.31 L302.66,535.84 L304.42,534.74 L306.17,533.99 L307.93,532.72 L309.68,531.09 L311.44,529.40 L313.19,527.79 L314.95,526.28 L316.70,525.19 L318.46,524.47 L320.22,523.28 L321.97,521.81 L323.73,520.32 L325.48,518.95 L327.24,517.69 L328.99,516.81 L330.75,516.23 L332.51,515.30 L334.26,514.18 L336.02,513.09 L337.77,512.13 L339.53,511.28 L341.28,510.71 L343.04,510.34 L344.79,509.75 L346.55,509.05 L348.31,508.35 L350.06,507.71 L351.82,507.11 L353.57,506.68 L355.33,506.40 L357.08,505.93 L358.84,505.34 L360.59,504.74 L362.35,504.16 L364.11,503.61 L365.86,503.21 L367.62,502.94 L369.37,502.49 L371.13,501.91 L372.88,501.29 L374.64,500.69 L376.40,500.11 L378.15,499.67 L379.91,499.37 L381.66,498.87 L383.42,498.20 L385.17,497.49 L386.93,496.78 L388.68,496.08 L390.44,495.55 L392.20,495.19 L393.95,494.59 L395.71,493.84 L397.46,493.06 L399.22,492.35 L400.97,491.69 L402.73,491.23 L404.48,490.93 L406.24,490.44 L408.00,489.82 L409.75,489.18 L411.51,488.57 L413.26,487.97 L415.02,487.52 L416.77,487.22 L418.53,486.71 L420.29,486.05 L422.04,485.35 L423.80,484.68 L425.55,484.03 L427.31,483.56 L429.06,483.24 L430.82,482.71 L432.57,482.04 L434.33,481.34 L436.09,480.68 L437.84,480.06 L439.60,479.61 L441.35,479.32 L443.11,478.82 L444.86,478.20 L446.62,477.55 L448.37,476.94 L450.13,476.35 L451.89,475.92 L453.64,475.63 L455.40,475.15 L457.15,474.53 L458.91,473.88 L460.66,473.25 L462.42,472.65 L464.18,472.19 L465.93,471.89 L467.69,471.37 L469.44,470.70 L471.20,469.99 L472.95,469.29 L474.71,468.60 L476.46,468.09 L478.22,467.74 L479.98,467.14 L481.73,466.37 L483.49,465.54 L485.24,464.73 L487.00,463.93 L488.75,463.33 L490.51,462.93 L492.26,462.25 L494.02,461.36 L495.78,460.41 L497.53,459.48 L499.29,458.58 L501.04,457.90 L502.80,457.45 L504.55,456.67 L506.31,455.67 L508.07,454.61 L509.82,453.57 L511.58,452.55 L513.33,451.80 L515.09,451.29 L516.84,450.43 L518.60,449.33 L520.35,448.18 L522.11,447.09 L523.87,446.04 L525.62,445.28 L527.38,444.78 L529.13,443.95 L530.89,442.91 L532.64,441.87 L534.40,440.90 L536.15,440.01 L537.91,439.39 L539.67,438.99 L541.42,438.32 L543.18,437.48 L544.93,436.58 L546.69,435.68 L548.44,434.76 L550.20,434.02 L551.96,433.51 L553.71,432.59 L555.47,431.32 L557.22,429.89 L558.98,428.40 L560.73,426.88 L562.49,425.68 L564.24,424.86 L566.00,423.43 L567.76,421.54 L569.51,419.50 L571.27,417.51 L573.02,415.58 L574.78,414.17 L576.53,413.23 L578.29,411.64 L580.04,409.60 L581.80,407.40 L583.56,405.18 L585.31,402.93 L587.07,401.18 L588.82,399.95 L590.58,397.83 L592.33,395.09 L594.09,392.30 L595.85,389.79 L597.60,387.64 L599.36,386.21 L601.11,385.30 L602.87,383.82 L604.62,381.99 L606.38,380.06 L608.13,378.11 L609.89,376.07 L611.65,374.41 L613.40,373.25 L615.16,371.16 L616.91,368.29 L618.67,365.08 L620.42,361.82 L622.18,358.54 L623.93,356.06 L625.69,354.37 L627.45,351.48 L629.20,347.72 L630.96,343.74 L632.71,339.89 L634.47,336.18 L636.22,333.47 L637.98,331.66 L639.74,328.66 L641.49,324.89 L643.25,321.07 L645.00,317.51 L646.76,314.23 L648.51,311.92 L650.27,310.42 L652.02,307.97 L653.78,304.97 L655.54,301.98 L657.29,299.21 L659.05,296.65 L660.80,294.83 L662.56,293.64 L664.31,291.66 L666.07,289.22 L667.82,286.73 L669.58,284.38 L671.34,282.16 L673.09,280.56 L674.85,279.50 L676.60,277.73 L678.36,275.53 L680.11,273.29 L681.87,271.18 L683.63,269.22 L685.38,267.81 L687.14,266.89 L688.89,265.38 L690.65,263.52 L692.40,261.66 L694.16,259.95 L695.91,258.39 L697.67,257.30 L699.43,256.59 L701.18,255.44 L702.94,254.04 L704.69,252.65 L706.45,251.38 L708.20,250.22 L709.96,249.41 L711.71,248.88 L713.47,248.02 L715.23,246.96 L716.98,245.91 L718.74,244.94 L720.49,244.04 L722.25,243.40 L724.00,242.98 L725.76,242.29 L727.52,241.44 L729.27,240.57 L731.03,239.74 L732.78,238.97 L734.54,238.40 L736.29,238.03 L738.05,237.40 L739.80,236.60 L741.56,235.77 L743.32,234.98 L745.07,234.22 L746.83,233.66 L748.58,233.29 L750.34,232.67 L752.09,231.89 L753.85,231.07 L755.60,230.29 L757.36,229.54 L759.12,229.00 L760.87,228.64 L762.63,228.03 L764.38,227.26 L766.14,226.46 L767.89,225.70 L769.65,224.97 L771.41,224.44 L773.16,224.08 L774.92,223.49 L776.67,222.74 L778.43,221.96 L780.18,221.22 L781.94,220.51 L783.69,220.00 L785.45,219.65" fill="none" stroke="#ff7f0e" stroke-width="9.7" stroke-linecap="round" stroke-linejoin="round"/>
<line x1="736.0" x2="736.0" y1="568.5" y2="15.5" stroke="#1f77b4" stroke-opacity="0.5" stroke-width="2.08" stroke-dasharray="7.71 3.33"/>
</g>
<path d="M77.0,568.50h-5M77.0,506.50h-5M77.0,444.50h-5M77.0,382.50h-5M77.0,320.50h-5M77.0,258.50h-5M77.0,196.50h-5M77.0,134.50h-5M77.0,72.50h-5M77.50,569.0v5M785.50,569.0v5M127.50,569.0v5M179.50,569.0v5M234.50,569.0v5M286.50,569.0v5M341.50,569.0v5M395.50,569.0v5M448.50,569.0v5M502.50,569.0v5M555.50,569.0v5M609.50,569.0v5M664.50,569.0v5M713.50,569.0v5M767.50,569.0v5" stroke="#000" stroke-width="1" fill="none"/>
<path d="M86.50,569.0v3M99.50,569.0v3M111.50,569.0v3M123.50,569.0v3M135.50,569.0v3M148.50,569.0v3M160.50,569.0v3M172.50,569.0v3M185.50,569.0v3M197.50,569.0v3M209.50,569.0v3M221.50,569.0v3M246.50,569.0v3M258.50,569.0v3M271.50,569.0v3M283.50,569.0v3M295.50,569.0v3M307.50,569.0v3M320.50,569.0v3M332.50,569.0v3M344.50,569.0v3M357.50,569.0v3M369.50,569.0v3M381.50,569.0v3M393.50,569.0v3M406.50,569.0v3M418.50,569.0v3M430.50,569.0v3M443.50,569.0v3M455.50,569.0v3M467.50,569.0v3M479.50,569.0v3M492.50,569.0v3M504.50,569.0v3M516.50,569.0v3M529.50,569.0v3M541.50,569.0v3M553.50,569.0v3M566.50,569.0v3M578.50,569.0v3M590.50,569.0v3M602.50,569.0v3M615.50,569.0v3M627.50,569.0v3M639.50,569.0v3M652.50,569.0v3M676.50,569.0v3M688.50,569.0v3M701.50,569.0v3M725.50,569.0v3M738.50,569.0v3M750.50,569.0v3M762.50,569.0v3M774.50,569.0v3" stroke="#000" stroke-width="0.9" fill="none"/>
<rect x="77.5" y="15.5" width="708.0" height="553.0" fill="none" stroke="#000" stroke-width="1"/>
<text x="68.30" y="574.10" text-anchor="end">0</text>
<text x="68.10" y="512.10" text-anchor="end" letter-spacing="-0.15">100000</text>
<text x="67.80" y="450.10" text-anchor="end">200000</text>
<text x="66.65" y="388.10" text-anchor="end" letter-spacing="-0.25">300000</text>
<text x="67.80" y="325.20" text-anchor="end">400000</text>
<text x="66.65" y="263.20" text-anchor="end" letter-spacing="-0.25">500000</text>
<text x="67.80" y="201.20" text-anchor="end">600000</text>
<text x="66.65" y="139.20" text-anchor="end" letter-spacing="-0.25">700000</text>
<text x="67.80" y="77.20" text-anchor="end">800000</text>
<rect x="84.44" y="22.44" width="121.0" height="25" rx="2.78" ry="2.78" fill="#fff" fill-opacity="0.8" stroke="#ccc" stroke-width="1.11"/>
<line x1="89.44" x2="118.74" y1="34.04" y2="34.04" stroke="#1f77b4" stroke-width="2.08"/>
<text x="129.04" y="38.24" letter-spacing="0">confirmed</text>
<g clip-path="url(#c1)">
<path d="M77.50,1145.50 L78.50,1145.50 L79.50,1145.51 L80.50,1145.51 L81.50,1145.51 L82.50,1145.52 L83.50,1145.52 L84.50,1145.52 L85.50,1145.52 L86.50,1145.52 L87.50,1145.52 L88.50,1145.52 L89.50,1145.52 L90.50,1145.52 L91.50,1145.52 L92.50,1145.51 L93.50,1145.51 L94.50,1145.50 L95.50,1145.50 L96.50,1145.49 L97.50,1145.49 L98.50,1145.48 L99.50,1145.47 L100.50,1145.47 L101.50,1145.46 L102.50,1145.45 L103.50,1145.44 L104.50,1145.43 L105.50,1145.42 L106.50,1145.41 L107.50,1145.40 L108.50,1145.38 L109.50,1145.37 L110.50,1145.34 L111.50,1145.30 L112.50,1145.24 L113.50,1145.17 L114.50,1145.09 L115.50,1144.99 L116.50,1144.88 L117.50,1144.78 L118.50,1144.69 L119.50,1144.60 L120.50,1144.51 L121.50,1144.43 L122.50,1144.35 L123.50,1144.27 L124.50,1144.20 L125.50,1144.13 L126.50,1144.05 L127.50,1143.98 L128.50,1143.91 L129.50,1143.83 L130.50,1143.76 L131.50,1143.68 L132.50,1143.61 L133.50,1143.53 L134.50,1143.45 L135.50,1143.37 L136.50,1143.29 L137.50,1143.20 L138.50,1143.11 L139.50,1143.02 L140.50,1142.93 L141.50,1142.83 L142.50,1142.74 L143.50,1142.64 L144.50,1142.53 L145.50,1142.43 L146.50,1142.32 L147.50,1142.21 L148.50,1142.09 L149.50,1141.97 L150.50,1141.86 L151.50,1141.73 L152.50,1141.61 L153.50,1141.48 L154.50,1141.34 L155.50,1141.21 L156.50,1141.06 L157.50,1140.92 L158.50,1140.77 L159.50,1140.62 L160.50,1140.46 L161.50,1140.30 L162.50,1140.14 L163.50,1139.97 L164.50,1139.81 L165.50,1139.64 L166.50,1139.47 L167.50,1139.32 L168.50,1139.15 L169.50,1138.94 L170.50,1138.65 L171.50,1138.29 L172.50,1137.88 L173.50,1137.43 L174.50,1136.92 L175.50,1136.32 L176.50,1135.72 L177.50,1135.22 L178.50,1134.81 L179.50,1134.43 L180.50,1134.10 L181.50,1133.81 L182.50,1133.57 L183.50,1133.35 L184.50,1133.15 L185.50,1132.98 L186.50,1132.84 L187.50,1132.73 L188.50,1132.61 L189.50,1132.48 L190.50,1132.32 L191.50,1132.13 L192.50,1131.93 L193.50,1131.72 L194.50,1131.50 L195.50,1131.27 L196.50,1131.03 L197.50,1130.79 L198.50,1130.56 L199.50,1130.32 L200.50,1130.09 L201.50,1129.88 L202.50,1129.67 L203.50,1129.48 L204.50,1129.29 L205.50,1129.11 L206.50,1128.93 L207.50,1128.75 L208.50,1128.58 L209.50,1128.40 L210.50,1128.22 L211.50,1128.05 L212.50,1127.87 L213.50,1127.69 L214.50,1127.51 L215.50,1127.32 L216.50,1127.14 L217.50,1126.95 L218.50,1126.76 L219.50,1126.56 L220.50,1126.37 L221.50,1126.18 L222.50,1125.99 L223.50,1125.80 L224.50,1125.61 L225.50,1125.42 L226.50,1125.24 L227.50,1125.06 L228.50,1124.89 L229.50,1124.72 L230.50,1124.54 L231.50,1124.38 L232.50,1124.21 L233.50,1124.04 L234.50,1123.87 L235.50,1123.70 L236.50,1123.53 L237.50,1123.36 L238.50,1123.19 L239.50,1123.01 L240.50,1122.83 L241.50,1122.65 L242.50,1122.47 L243.50,1122.29 L244.50,1122.11 L245.50,1121.92 L246.50,1121.74 L247.50,1121.56 L248.50,1121.37 L249.50,1121.18 L250.50,1120.99 L251.50,1120.81 L252.50,1120.62 L253.50,1120.43 L254.50,1120.23 L255.50,1120.04 L256.50,1119.85 L257.50,1119.65 L258.50,1119.45 L259.50,1119.25 L260.50,1119.05 L261.50,1118.85 L262.50,1118.65 L263.50,1118.44 L264.50,1118.23 L265.50,1118.03 L266.50,1117.82 L267.50,1117.60 L268.50,1117.39 L269.50,1117.17 L270.50,1116.95 L271.50,1116.73 L272.50,1116.51 L273.50,1116.28 L274.50,1116.05 L275.50,1115.82 L276.50,1115.58 L277.50,1115.34 L278.50,1115.10 L279.50,1114.85 L280.50,1114.59 L281.50,1114.33 L282.50,1114.05 L283.50,1113.75 L284.50,1113.44 L285.50,1113.10 L286.50,1112.75 L287.50,1112.36 L288.50,1111.95 L289.50,1111.51 L290.50,1111.04 L291.50,1110.53 L292.50,1109.98 L293.50,1109.39 L294.50,1108.76 L295.50,1108.09 L296.50,1107.41 L297.50,1106.71 L298.50,1106.01 L299.50,1105.32 L300.50,1104.64 L301.50,1104.00 L302.50,1103.38 L303.50,1102.80 L304.50,1102.24 L305.50,1101.70 L306.50,1101.16 L307.50,1100.62 L308.50,1100.08 L309.50,1099.52 L310.50,1098.94 L311.50,1098.33 L312.50,1097.68 L313.50,1096.98 L314.50,1096.23 L315.50,1095.40 L316.50,1094.50 L317.50,1093.51 L318.50,1092.43 L319.50,1091.27 L320.50,1090.05 L321.50,1088.79 L322.50,1087.49 L323.50,1086.19 L324.50,1084.89 L325.50,1083.62 L326.50,1082.38 L327.50,1081.19 L328.50,1080.03 L329.50,1078.90 L330.50,1077.81 L331.50,1076.74 L332.50,1075.70 L333.50,1074.68 L334.50,1073.68 L335.50,1072.71 L336.50,1071.75 L337.50,1070.80 L338.50,1069.86 L339.50,1068.94 L340.50,1068.02 L341.50,1067.12 L342.50,1066.23 L343.50,1065.35 L344.50,1064.47 L345.50,1063.61 L346.50,1062.76 L347.50,1061.91 L348.50,1061.08 L349.50,1060.26 L350.50,1059.44 L351.50,1058.63 L352.50,1057.83 L353.50,1057.04 L354.50,1056.25 L355.50,1055.48 L356.50,1054.70 L357.50,1053.94 L358.50,1053.17 L359.50,1052.42 L360.50,1051.67 L361.50,1050.92 L362.50,1050.18 L363.50,1049.44 L364.50,1048.71 L365.50,1047.98 L366.50,1047.25 L367.50,1046.53 L368.50,1045.80 L369.50,1045.08 L370.50,1044.36 L371.50,1043.64 L372.50,1042.93 L373.50,1042.21 L374.50,1041.50 L375.50,1040.78 L376.50,1040.07 L377.50,1039.36 L378.50,1038.64 L379.50,1037.93 L380.50,1037.22 L381.50,1036.50 L382.50,1035.79 L383.50,1035.07 L384.50,1034.36 L385.50,1033.64 L386.50,1032.92 L387.50,1032.20 L388.50,1031.48 L389.50,1030.76 L390.50,1030.03 L391.50,1029.30 L392.50,1028.57 L393.50,1027.84 L394.50,1027.10 L395.50,1026.36 L396.50,1025.62 L397.50,1024.87 L398.50,1024.12 L399.50,1023.37 L400.50,1022.62 L401.50,1021.86 L402.50,1021.09 L403.50,1020.32 L404.50,1019.54 L405.50,1018.76 L406.50,1017.99 L407.50,1017.21 L408.50,1016.44 L409.50,1015.67 L410.50,1014.91 L411.50,1014.15 L412.50,1013.40 L413.50,1012.66 L414.50,1011.93 L415.50,1011.21 L416.50,1010.50 L417.50,1009.80 L418.50,1009.11 L419.50,1008.43 L420.50,1007.75 L421.50,1007.08 L422.50,1006.41 L423.50,1005.75 L424.50,1005.09 L425.50,1004.44 L426.50,1003.79 L427.50,1003.14 L428.50,1002.49 L429.50,1001.84 L430.50,1001.19 L431.50,1000.54 L432.50,999.89 L433.50,999.25 L434.50,998.61 L435.50,997.98 L436.50,997.35 L437.50,996.74 L438.50,996.14 L439.50,995.54 L440.50,994.97 L441.50,994.40 L442.50,993.85 L443.50,993.32 L444.50,992.81 L445.50,992.32 L446.50,991.85 L447.50,991.41 L448.50,990.98 L449.50,990.58 L450.50,990.19 L451.50,989.82 L452.50,989.45 L453.50,989.09 L454.50,988.74 L455.50,988.39 L456.50,988.05 L457.50,987.72 L458.50,987.39 L459.50,987.06 L460.50,986.74 L461.50,986.41 L462.50,986.09 L463.50,985.77 L464.50,985.45 L465.50,985.12 L466.50,984.79 L467.50,984.46 L468.50,984.12 L469.50,983.77 L470.50,983.41 L471.50,983.05 L472.50,982.67 L473.50,982.28 L474.50,981.88 L475.50,981.46 L476.50,981.03 L477.50,980.58 L478.50,980.11 L479.50,979.63 L480.50,979.13 L481.50,978.62 L482.50,978.10 L483.50,977.57 L484.50,977.04 L485.50,976.50 L486.50,975.96 L487.50,975.41 L488.50,974.87 L489.50,974.33 L490.50,973.79 L491.50,973.26 L492.50,972.74 L493.50,972.23 L494.50,971.73 L495.50,971.24 L496.50,970.76 L497.50,970.30 L498.50,969.84 L499.50,969.40 L500.50,968.96 L501.50,968.53 L502.50,968.11 L503.50,967.69 L504.50,967.29 L505.50,966.89 L506.50,966.49 L507.50,966.10 L508.50,965.72 L509.50,965.34 L510.50,964.96 L511.50,964.59 L512.50,964.22 L513.50,963.85 L514.50,963.48 L515.50,963.12 L516.50,962.75 L517.50,962.39 L518.50,962.02 L519.50,961.66 L520.50,961.29 L521.50,960.92 L522.50,960.55 L523.50,960.17 L524.50,959.80 L525.50,959.42 L526.50,959.03 L527.50,958.64 L528.50,958.25 L529.50,957.85 L530.50,957.45 L531.50,957.04 L532.50,956.62 L533.50,956.20 L534.50,955.77 L535.50,955.34 L536.50,954.90 L537.50,954.45 L538.50,953.99 L539.50,953.53 L540.50,953.06 L541.50,952.58 L542.50,952.09 L543.50,951.59 L544.50,951.09 L545.50,950.58 L546.50,950.06 L547.50,949.52 L548.50,948.98 L549.50,948.44 L550.50,947.88 L551.50,947.31 L552.50,946.73 L553.50,946.14 L554.50,945.54 L555.50,944.93 L556.50,944.32 L557.50,943.69 L558.50,943.06 L559.50,942.41 L560.50,941.76 L561.50,941.11 L562.50,940.45 L563.50,939.78 L564.50,939.11 L565.50,938.43 L566.50,937.75 L567.50,937.06 L568.50,936.38 L569.50,935.69 L570.50,935.00 L571.50,934.30 L572.50,933.61 L573.50,932.92 L574.50,932.22 L575.50,931.53 L576.50,930.84 L577.50,930.15 L578.50,929.46 L579.50,928.78 L580.50,928.10 L581.50,927.42 L582.50,926.75 L583.50,926.08 L584.50,925.41 L585.50,924.75 L586.50,924.08 L587.50,923.42 L588.50,922.77 L589.50,922.11 L590.50,921.45 L591.50,920.79 L592.50,920.10 L593.50,919.38 L594.50,918.61 L595.50,917.79 L596.50,916.90 L597.50,915.94 L598.50,914.89 L599.50,913.76 L600.50,912.55 L601.50,911.28 L602.50,909.95 L603.50,908.57 L604.50,907.15 L605.50,905.70 L606.50,904.22 L607.50,902.72 L608.50,901.22 L609.50,899.71 L610.50,898.20 L611.50,896.71 L612.50,895.24 L613.50,893.80 L614.50,892.38 L615.50,890.97 L616.50,889.56 L617.50,888.15 L618.50,886.73 L619.50,885.29 L620.50,883.82 L621.50,882.30 L622.50,880.75 L623.50,879.13 L624.50,877.46 L625.50,875.71 L626.50,873.88 L627.50,871.98 L628.50,870.03 L629.50,868.03 L630.50,865.99 L631.50,863.94 L632.50,861.88 L633.50,859.83 L634.50,857.79 L635.50,855.79 L636.50,853.83 L637.50,851.92 L638.50,850.08 L639.50,848.31 L640.50,846.59 L641.50,844.92 L642.50,843.30 L643.50,841.72 L644.50,840.18 L645.50,838.66 L646.50,837.17 L647.50,835.70 L648.50,834.24 L649.50,832.79 L650.50,831.34 L651.50,829.88 L652.50,828.42 L653.50,826.94 L654.50,825.46 L655.50,823.95 L656.50,822.44 L657.50,820.92 L658.50,819.40 L659.50,817.87 L660.50,816.34 L661.50,814.80 L662.50,813.26 L663.50,811.73 L664.50,810.20 L665.50,808.67 L666.50,807.15 L667.50,805.64 L668.50,804.14 L669.50,802.65 L670.50,801.18 L671.50,799.71 L672.50,798.27 L673.50,796.84 L674.50,795.43 L675.50,794.04 L676.50,792.66 L677.50,791.29 L678.50,789.93 L679.50,788.57 L680.50,787.22 L681.50,785.88 L682.50,784.54 L683.50,783.21 L684.50,781.89 L685.50,780.58 L686.50,779.27 L687.50,777.97 L688.50,776.68 L689.50,775.39 L690.50,774.11 L691.50,772.84 L692.50,771.58 L693.50,770.32 L694.50,769.07 L695.50,767.82 L696.50,766.58 L697.50,765.35 L698.50,764.12 L699.50,762.90 L700.50,761.69 L701.50,760.48 L702.50,759.28 L703.50,758.09 L704.50,756.91 L705.50,755.74 L706.50,754.58 L707.50,753.43 L708.50,752.29 L709.50,751.17 L710.50,750.06 L711.50,748.97 L712.50,747.89 L713.50,746.83 L714.50,745.79 L715.50,744.76 L716.50,743.75 L717.50,742.77 L718.50,741.80 L719.50,740.86 L720.50,739.94 L721.50,739.04 L722.50,738.17 L723.50,737.32 L724.50,736.50 L725.50,735.70 L726.50,734.94 L727.50,734.20 L728.50,733.49 L729.50,732.81 L730.50,732.16 L731.50,731.54 L732.50,730.95 L733.50,730.40 L734.50,729.88 L735.50,729.40 L736.00,729.17 L736.00,803.37 L735.50,803.58 L734.50,804.02 L733.50,804.48 L732.50,804.98 L731.50,805.50 L730.50,806.05 L729.50,806.63 L728.50,807.23 L727.50,807.85 L726.50,808.50 L725.50,809.17 L724.50,809.87 L723.50,810.58 L722.50,811.32 L721.50,812.08 L720.50,812.86 L719.50,813.65 L718.50,814.47 L717.50,815.30 L716.50,816.15 L715.50,817.01 L714.50,817.89 L713.50,818.78 L712.50,819.69 L711.50,820.61 L710.50,821.54 L709.50,822.48 L708.50,823.43 L707.50,824.40 L706.50,825.37 L705.50,826.35 L704.50,827.34 L703.50,828.33 L702.50,829.33 L701.50,830.34 L700.50,831.35 L699.50,832.37 L698.50,833.39 L697.50,834.41 L696.50,835.44 L695.50,836.47 L694.50,837.50 L693.50,838.54 L692.50,839.59 L691.50,840.63 L690.50,841.69 L689.50,842.75 L688.50,843.81 L687.50,844.88 L686.50,845.95 L685.50,847.03 L684.50,848.12 L683.50,849.21 L682.50,850.30 L681.50,851.41 L680.50,852.52 L679.50,853.63 L678.50,854.75 L677.50,855.88 L676.50,857.02 L675.50,858.16 L674.50,859.31 L673.50,860.46 L672.50,861.61 L671.50,862.77 L670.50,863.92 L669.50,865.07 L668.50,866.22 L667.50,867.37 L666.50,868.51 L665.50,869.64 L664.50,870.78 L663.50,871.90 L662.50,873.02 L661.50,874.13 L660.50,875.23 L659.50,876.32 L658.50,877.40 L657.50,878.47 L656.50,879.52 L655.50,880.56 L654.50,881.59 L653.50,882.61 L652.50,883.60 L651.50,884.59 L650.50,885.56 L649.50,886.53 L648.50,887.50 L647.50,888.47 L646.50,889.47 L645.50,890.48 L644.50,891.53 L643.50,892.60 L642.50,893.72 L641.50,894.89 L640.50,896.10 L639.50,897.38 L638.50,898.72 L637.50,900.14 L636.50,901.63 L635.50,903.19 L634.50,904.80 L633.50,906.45 L632.50,908.14 L631.50,909.85 L630.50,911.56 L629.50,913.27 L628.50,914.96 L627.50,916.63 L626.50,918.25 L625.50,919.83 L624.50,921.34 L623.50,922.78 L622.50,924.16 L621.50,925.48 L620.50,926.76 L619.50,928.00 L618.50,929.21 L617.50,930.40 L616.50,931.57 L615.50,932.75 L614.50,933.93 L613.50,935.12 L612.50,936.33 L611.50,937.58 L610.50,938.85 L609.50,940.13 L608.50,941.42 L607.50,942.71 L606.50,944.00 L605.50,945.27 L604.50,946.52 L603.50,947.74 L602.50,948.92 L601.50,950.05 L600.50,951.13 L599.50,952.15 L598.50,953.11 L597.50,953.98 L596.50,954.78 L595.50,955.50 L594.50,956.16 L593.50,956.77 L592.50,957.35 L591.50,957.89 L590.50,958.43 L589.50,958.96 L588.50,959.49 L587.50,960.03 L586.50,960.59 L585.50,961.15 L584.50,961.72 L583.50,962.31 L582.50,962.90 L581.50,963.51 L580.50,964.13 L579.50,964.75 L578.50,965.39 L577.50,966.02 L576.50,966.66 L575.50,967.30 L574.50,967.94 L573.50,968.58 L572.50,969.22 L571.50,969.86 L570.50,970.49 L569.50,971.13 L568.50,971.77 L567.50,972.40 L566.50,973.03 L565.50,973.66 L564.50,974.28 L563.50,974.90 L562.50,975.51 L561.50,976.12 L560.50,976.72 L559.50,977.32 L558.50,977.91 L557.50,978.50 L556.50,979.07 L555.50,979.64 L554.50,980.20 L553.50,980.76 L552.50,981.30 L551.50,981.83 L550.50,982.36 L549.50,982.88 L548.50,983.39 L547.50,983.89 L546.50,984.38 L545.50,984.87 L544.50,985.35 L543.50,985.82 L542.50,986.28 L541.50,986.74 L540.50,987.20 L539.50,987.64 L538.50,988.09 L537.50,988.52 L536.50,988.95 L535.50,989.38 L534.50,989.80 L533.50,990.22 L532.50,990.63 L531.50,991.04 L530.50,991.45 L529.50,991.85 L528.50,992.25 L527.50,992.66 L526.50,993.06 L525.50,993.46 L524.50,993.86 L523.50,994.27 L522.50,994.67 L521.50,995.08 L520.50,995.49 L519.50,995.89 L518.50,996.30 L517.50,996.72 L516.50,997.13 L515.50,997.55 L514.50,997.97 L513.50,998.40 L512.50,998.83 L511.50,999.27 L510.50,999.71 L509.50,1000.16 L508.50,1000.61 L507.50,1001.07 L506.50,1001.53 L505.50,1002.01 L504.50,1002.49 L503.50,1002.98 L502.50,1003.47 L501.50,1003.98 L500.50,1004.50 L499.50,1005.02 L498.50,1005.56 L497.50,1006.10 L496.50,1006.66 L495.50,1007.23 L494.50,1007.81 L493.50,1008.40 L492.50,1009.01 L491.50,1009.62 L490.50,1010.24 L489.50,1010.87 L488.50,1011.51 L487.50,1012.15 L486.50,1012.78 L485.50,1013.42 L484.50,1014.05 L483.50,1014.68 L482.50,1015.30 L481.50,1015.91 L480.50,1016.51 L479.50,1017.09 L478.50,1017.66 L477.50,1018.21 L476.50,1018.75 L475.50,1019.26 L474.50,1019.76 L473.50,1020.24 L472.50,1020.71 L471.50,1021.16 L470.50,1021.60 L469.50,1022.02 L468.50,1022.44 L467.50,1022.84 L466.50,1023.24 L465.50,1023.63 L464.50,1024.01 L463.50,1024.39 L462.50,1024.76 L461.50,1025.13 L460.50,1025.50 L459.50,1025.87 L458.50,1026.23 L457.50,1026.60 L456.50,1026.96 L455.50,1027.33 L454.50,1027.69 L453.50,1028.06 L452.50,1028.43 L451.50,1028.81 L450.50,1029.19 L449.50,1029.57 L448.50,1029.96 L447.50,1030.36 L446.50,1030.76 L445.50,1031.16 L444.50,1031.58 L443.50,1031.99 L442.50,1032.42 L441.50,1032.85 L440.50,1033.29 L439.50,1033.72 L438.50,1034.16 L437.50,1034.60 L436.50,1035.04 L435.50,1035.49 L434.50,1035.92 L433.50,1036.36 L432.50,1036.80 L431.50,1037.23 L430.50,1037.65 L429.50,1038.07 L428.50,1038.49 L427.50,1038.90 L426.50,1039.30 L425.50,1039.70 L424.50,1040.10 L423.50,1040.50 L422.50,1040.90 L421.50,1041.31 L420.50,1041.71 L419.50,1042.12 L418.50,1042.54 L417.50,1042.97 L416.50,1043.40 L415.50,1043.84 L414.50,1044.29 L413.50,1044.76 L412.50,1045.24 L411.50,1045.73 L410.50,1046.23 L409.50,1046.75 L408.50,1047.27 L407.50,1047.80 L406.50,1048.35 L405.50,1048.89 L404.50,1049.45 L403.50,1050.01 L402.50,1050.57 L401.50,1051.14 L400.50,1051.71 L399.50,1052.28 L398.50,1052.85 L397.50,1053.42 L396.50,1053.98 L395.50,1054.53 L394.50,1055.09 L393.50,1055.63 L392.50,1056.18 L391.50,1056.72 L390.50,1057.26 L389.50,1057.79 L388.50,1058.32 L387.50,1058.85 L386.50,1059.38 L385.50,1059.90 L384.50,1060.42 L383.50,1060.94 L382.50,1061.46 L381.50,1061.98 L380.50,1062.49 L379.50,1063.01 L378.50,1063.52 L377.50,1064.03 L376.50,1064.54 L375.50,1065.06 L374.50,1065.57 L373.50,1066.08 L372.50,1066.59 L371.50,1067.10 L370.50,1067.62 L369.50,1068.13 L368.50,1068.65 L367.50,1069.17 L366.50,1069.68 L365.50,1070.21 L364.50,1070.73 L363.50,1071.26 L362.50,1071.79 L361.50,1072.32 L360.50,1072.86 L359.50,1073.40 L358.50,1073.95 L357.50,1074.50 L356.50,1075.06 L355.50,1075.63 L354.50,1076.20 L353.50,1076.77 L352.50,1077.36 L351.50,1077.95 L350.50,1078.54 L349.50,1079.15 L348.50,1079.76 L347.50,1080.37 L346.50,1080.99 L345.50,1081.61 L344.50,1082.24 L343.50,1082.87 L342.50,1083.51 L341.50,1084.15 L340.50,1084.81 L339.50,1085.47 L338.50,1086.13 L337.50,1086.81 L336.50,1087.50 L335.50,1088.20 L334.50,1088.91 L333.50,1089.64 L332.50,1090.40 L331.50,1091.17 L330.50,1091.97 L329.50,1092.81 L328.50,1093.67 L327.50,1094.57 L326.50,1095.50 L325.50,1096.48 L324.50,1097.50 L323.50,1098.54 L322.50,1099.59 L321.50,1100.64 L320.50,1101.66 L319.50,1102.64 L318.50,1103.57 L317.50,1104.42 L316.50,1105.18 L315.50,1105.86 L314.50,1106.47 L313.50,1107.02 L312.50,1107.52 L311.50,1107.97 L310.50,1108.40 L309.50,1108.79 L308.50,1109.18 L307.50,1109.56 L306.50,1109.94 L305.50,1110.33 L304.50,1110.74 L303.50,1111.17 L302.50,1111.63 L301.50,1112.14 L300.50,1112.69 L299.50,1113.27 L298.50,1113.88 L297.50,1114.50 L296.50,1115.11 L295.50,1115.72 L294.50,1116.30 L293.50,1116.85 L292.50,1117.36 L291.50,1117.83 L290.50,1118.26 L289.50,1118.66 L288.50,1119.03 L287.50,1119.37 L286.50,1119.68 L285.50,1119.96 L284.50,1120.23 L283.50,1120.47 L282.50,1120.70 L281.50,1120.91 L280.50,1121.11 L279.50,1121.30 L278.50,1121.48 L277.50,1121.66 L276.50,1121.83 L275.50,1122.01 L274.50,1122.18 L273.50,1122.35 L272.50,1122.52 L271.50,1122.68 L270.50,1122.84 L269.50,1123.00 L268.50,1123.16 L267.50,1123.32 L266.50,1123.48 L265.50,1123.63 L264.50,1123.78 L263.50,1123.94 L262.50,1124.09 L261.50,1124.24 L260.50,1124.39 L259.50,1124.54 L258.50,1124.69 L257.50,1124.84 L256.50,1124.99 L255.50,1125.13 L254.50,1125.28 L253.50,1125.42 L252.50,1125.57 L251.50,1125.71 L250.50,1125.85 L249.50,1126.00 L248.50,1126.14 L247.50,1126.28 L246.50,1126.42 L245.50,1126.56 L244.50,1126.70 L243.50,1126.84 L242.50,1126.98 L241.50,1127.12 L240.50,1127.26 L239.50,1127.40 L238.50,1127.53 L237.50,1127.67 L236.50,1127.80 L235.50,1127.93 L234.50,1128.06 L233.50,1128.20 L232.50,1128.33 L231.50,1128.46 L230.50,1128.59 L229.50,1128.72 L228.50,1128.86 L227.50,1129.00 L226.50,1129.14 L225.50,1129.29 L224.50,1129.43 L223.50,1129.59 L222.50,1129.74 L221.50,1129.90 L220.50,1130.05 L219.50,1130.21 L218.50,1130.37 L217.50,1130.53 L216.50,1130.69 L215.50,1130.84 L214.50,1130.99 L213.50,1131.14 L212.50,1131.29 L211.50,1131.43 L210.50,1131.57 L209.50,1131.71 L208.50,1131.86 L207.50,1132.00 L206.50,1132.14 L205.50,1132.29 L204.50,1132.44 L203.50,1132.60 L202.50,1132.76 L201.50,1132.93 L200.50,1133.11 L199.50,1133.31 L198.50,1133.51 L197.50,1133.71 L196.50,1133.91 L195.50,1134.12 L194.50,1134.32 L193.50,1134.51 L192.50,1134.68 L191.50,1134.85 L190.50,1135.00 L189.50,1135.13 L188.50,1135.24 L187.50,1135.32 L186.50,1135.40 L185.50,1135.51 L184.50,1135.64 L183.50,1135.81 L182.50,1135.99 L181.50,1136.21 L180.50,1136.46 L179.50,1136.76 L178.50,1137.11 L177.50,1137.49 L176.50,1137.96 L175.50,1138.52 L174.50,1139.09 L173.50,1139.58 L172.50,1139.99 L171.50,1140.37 L170.50,1140.70 L169.50,1140.96 L168.50,1141.14 L167.50,1141.28 L166.50,1141.41 L165.50,1141.54 L164.50,1141.68 L163.50,1141.81 L162.50,1141.95 L161.50,1142.08 L160.50,1142.21 L159.50,1142.34 L158.50,1142.46 L157.50,1142.58 L156.50,1142.70 L155.50,1142.81 L154.50,1142.92 L153.50,1143.03 L152.50,1143.13 L151.50,1143.23 L150.50,1143.32 L149.50,1143.41 L148.50,1143.50 L147.50,1143.59 L146.50,1143.67 L145.50,1143.75 L144.50,1143.83 L143.50,1143.91 L142.50,1143.98 L141.50,1144.06 L140.50,1144.13 L139.50,1144.19 L138.50,1144.26 L137.50,1144.32 L136.50,1144.38 L135.50,1144.44 L134.50,1144.49 L133.50,1144.55 L132.50,1144.60 L131.50,1144.65 L130.50,1144.70 L129.50,1144.75 L128.50,1144.80 L127.50,1144.85 L126.50,1144.90 L125.50,1144.95 L124.50,1145.00 L123.50,1145.05 L122.50,1145.11 L121.50,1145.16 L120.50,1145.22 L119.50,1145.29 L118.50,1145.36 L117.50,1145.43 L116.50,1145.51 L115.50,1145.60 L114.50,1145.68 L113.50,1145.74 L112.50,1145.78 L111.50,1145.82 L110.50,1145.85 L109.50,1145.85 L108.50,1145.85 L107.50,1145.84 L106.50,1145.83 L105.50,1145.83 L104.50,1145.82 L103.50,1145.81 L102.50,1145.80 L101.50,1145.80 L100.50,1145.79 L99.50,1145.78 L98.50,1145.77 L97.50,1145.76 L96.50,1145.75 L95.50,1145.74 L94.50,1145.73 L93.50,1145.71 L92.50,1145.70 L91.50,1145.69 L90.50,1145.68 L89.50,1145.67 L88.50,1145.65 L87.50,1145.64 L86.50,1145.63 L85.50,1145.61 L84.50,1145.60 L83.50,1145.59 L82.50,1145.57 L81.50,1145.56 L80.50,1145.54 L79.50,1145.53 L78.50,1145.52 L77.50,1145.50Z" fill="#1f77b4" fill-opacity="0.1"/>
<path d="M77.50,1145.50 L78.50,1145.51 L79.50,1145.51 L80.50,1145.52 L81.50,1145.52 L82.50,1145.53 L83.50,1145.53 L84.50,1145.54 L85.50,1145.54 L86.50,1145.54 L87.50,1145.55 L88.50,1145.55 L89.50,1145.55 L90.50,1145.55 L91.50,1145.55 L92.50,1145.55 L93.50,1145.55 L94.50,1145.55 L95.50,1145.55 L96.50,1145.55 L97.50,1145.54 L98.50,1145.54 L99.50,1145.53 L100.50,1145.53 L101.50,1145.53 L102.50,1145.52 L103.50,1145.51 L104.50,1145.51 L105.50,1145.50 L106.50,1145.49 L107.50,1145.49 L108.50,1145.48 L109.50,1145.47 L110.50,1145.44 L111.50,1145.40 L112.50,1145.35 L113.50,1145.29 L114.50,1145.21 L115.50,1145.11 L116.50,1145.01 L117.50,1144.91 L118.50,1144.82 L119.50,1144.74 L120.50,1144.65 L121.50,1144.58 L122.50,1144.50 L123.50,1144.43 L124.50,1144.36 L125.50,1144.29 L126.50,1144.22 L127.50,1144.15 L128.50,1144.09 L129.50,1144.02 L130.50,1143.95 L131.50,1143.88 L132.50,1143.80 L133.50,1143.73 L134.50,1143.66 L135.50,1143.58 L136.50,1143.50 L137.50,1143.42 L138.50,1143.34 L139.50,1143.26 L140.50,1143.17 L141.50,1143.08 L142.50,1142.99 L143.50,1142.89 L144.50,1142.79 L145.50,1142.69 L146.50,1142.59 L147.50,1142.48 L148.50,1142.37 L149.50,1142.26 L150.50,1142.15 L151.50,1142.03 L152.50,1141.91 L153.50,1141.79 L154.50,1141.66 L155.50,1141.53 L156.50,1141.39 L157.50,1141.25 L158.50,1141.11 L159.50,1140.96 L160.50,1140.81 L161.50,1140.66 L162.50,1140.50 L163.50,1140.34 L164.50,1140.18 L165.50,1140.02 L166.50,1139.86 L167.50,1139.71 L168.50,1139.54 L169.50,1139.34 L170.50,1139.06 L171.50,1138.71 L172.50,1138.30 L173.50,1137.86 L174.50,1137.35 L175.50,1136.76 L176.50,1136.17 L177.50,1135.67 L178.50,1135.27 L179.50,1134.90 L180.50,1134.57 L181.50,1134.29 L182.50,1134.05 L183.50,1133.84 L184.50,1133.65 L185.50,1133.49 L186.50,1133.36 L187.50,1133.25 L188.50,1133.14 L189.50,1133.01 L190.50,1132.85 L191.50,1132.67 L192.50,1132.48 L193.50,1132.28 L194.50,1132.06 L195.50,1131.84 L196.50,1131.60 L197.50,1131.37 L198.50,1131.15 L199.50,1130.92 L200.50,1130.70 L201.50,1130.49 L202.50,1130.29 L203.50,1130.10 L204.50,1129.92 L205.50,1129.74 L206.50,1129.57 L207.50,1129.40 L208.50,1129.23 L209.50,1129.06 L210.50,1128.89 L211.50,1128.73 L212.50,1128.56 L213.50,1128.38 L214.50,1128.21 L215.50,1128.03 L216.50,1127.85 L217.50,1127.67 L218.50,1127.48 L219.50,1127.30 L220.50,1127.11 L221.50,1126.93 L222.50,1126.74 L223.50,1126.56 L224.50,1126.38 L225.50,1126.20 L226.50,1126.03 L227.50,1125.86 L228.50,1125.69 L229.50,1125.52 L230.50,1125.36 L231.50,1125.20 L232.50,1125.04 L233.50,1124.88 L234.50,1124.72 L235.50,1124.56 L236.50,1124.40 L237.50,1124.23 L238.50,1124.07 L239.50,1123.90 L240.50,1123.73 L241.50,1123.56 L242.50,1123.39 L243.50,1123.21 L244.50,1123.04 L245.50,1122.86 L246.50,1122.69 L247.50,1122.51 L248.50,1122.34 L249.50,1122.16 L250.50,1121.98 L251.50,1121.80 L252.50,1121.62 L253.50,1121.44 L254.50,1121.26 L255.50,1121.07 L256.50,1120.89 L257.50,1120.70 L258.50,1120.52 L259.50,1120.33 L260.50,1120.14 L261.50,1119.95 L262.50,1119.75 L263.50,1119.56 L264.50,1119.36 L265.50,1119.16 L266.50,1118.96 L267.50,1118.76 L268.50,1118.56 L269.50,1118.36 L270.50,1118.15 L271.50,1117.94 L272.50,1117.73 L273.50,1117.51 L274.50,1117.29 L275.50,1117.07 L276.50,1116.85 L277.50,1116.62 L278.50,1116.39 L279.50,1116.15 L280.50,1115.91 L281.50,1115.66 L282.50,1115.39 L283.50,1115.11 L284.50,1114.81 L285.50,1114.49 L286.50,1114.14 L287.50,1113.78 L288.50,1113.38 L289.50,1112.95 L290.50,1112.49 L291.50,1112.00 L292.50,1111.46 L293.50,1110.89 L294.50,1110.27 L295.50,1109.62 L296.50,1108.95 L297.50,1108.27 L298.50,1107.58 L299.50,1106.91 L300.50,1106.25 L301.50,1105.62 L302.50,1105.03 L303.50,1104.46 L304.50,1103.93 L305.50,1103.40 L306.50,1102.89 L307.50,1102.38 L308.50,1101.86 L309.50,1101.33 L310.50,1100.77 L311.50,1100.19 L312.50,1099.57 L313.50,1098.90 L314.50,1098.18 L315.50,1097.38 L316.50,1096.51 L317.50,1095.55 L318.50,1094.51 L319.50,1093.38 L320.50,1092.19 L321.50,1090.96 L322.50,1089.70 L323.50,1088.44 L324.50,1087.18 L325.50,1085.94 L326.50,1084.74 L327.50,1083.58 L328.50,1082.46 L329.50,1081.37 L330.50,1080.31 L331.50,1079.28 L332.50,1078.27 L333.50,1077.29 L334.50,1076.34 L335.50,1075.40 L336.50,1074.47 L337.50,1073.56 L338.50,1072.66 L339.50,1071.77 L340.50,1070.90 L341.50,1070.03 L342.50,1069.17 L343.50,1068.33 L344.50,1067.49 L345.50,1066.66 L346.50,1065.84 L347.50,1065.03 L348.50,1064.23 L349.50,1063.44 L350.50,1062.66 L351.50,1061.88 L352.50,1061.11 L353.50,1060.35 L354.50,1059.60 L355.50,1058.85 L356.50,1058.10 L357.50,1057.37 L358.50,1056.64 L359.50,1055.91 L360.50,1055.19 L361.50,1054.47 L362.50,1053.76 L363.50,1053.05 L364.50,1052.35 L365.50,1051.65 L366.50,1050.95 L367.50,1050.25 L368.50,1049.56 L369.50,1048.86 L370.50,1048.17 L371.50,1047.49 L372.50,1046.80 L373.50,1046.11 L374.50,1045.43 L375.50,1044.74 L376.50,1044.06 L377.50,1043.38 L378.50,1042.69 L379.50,1042.01 L380.50,1041.33 L381.50,1040.65 L382.50,1039.96 L383.50,1039.28 L384.50,1038.60 L385.50,1037.91 L386.50,1037.23 L387.50,1036.54 L388.50,1035.85 L389.50,1035.16 L390.50,1034.47 L391.50,1033.78 L392.50,1033.08 L393.50,1032.39 L394.50,1031.69 L395.50,1030.99 L396.50,1030.28 L397.50,1029.57 L398.50,1028.86 L399.50,1028.15 L400.50,1027.44 L401.50,1026.72 L402.50,1026.00 L403.50,1025.28 L404.50,1024.56 L405.50,1023.84 L406.50,1023.12 L407.50,1022.40 L408.50,1021.69 L409.50,1020.99 L410.50,1020.29 L411.50,1019.60 L412.50,1018.92 L413.50,1018.25 L414.50,1017.60 L415.50,1016.95 L416.50,1016.32 L417.50,1015.69 L418.50,1015.08 L419.50,1014.47 L420.50,1013.87 L421.50,1013.27 L422.50,1012.68 L423.50,1012.09 L424.50,1011.51 L425.50,1010.93 L426.50,1010.35 L427.50,1009.77 L428.50,1009.19 L429.50,1008.61 L430.50,1008.03 L431.50,1007.45 L432.50,1006.86 L433.50,1006.28 L434.50,1005.70 L435.50,1005.13 L436.50,1004.56 L437.50,1004.00 L438.50,1003.44 L439.50,1002.90 L440.50,1002.36 L441.50,1001.84 L442.50,1001.32 L443.50,1000.82 L444.50,1000.34 L445.50,999.87 L446.50,999.42 L447.50,998.99 L448.50,998.58 L449.50,998.18 L450.50,997.79 L451.50,997.41 L452.50,997.05 L453.50,996.69 L454.50,996.33 L455.50,995.98 L456.50,995.64 L457.50,995.30 L458.50,994.96 L459.50,994.63 L460.50,994.30 L461.50,993.97 L462.50,993.64 L463.50,993.31 L464.50,992.98 L465.50,992.64 L466.50,992.30 L467.50,991.96 L468.50,991.61 L469.50,991.25 L470.50,990.88 L471.50,990.50 L472.50,990.11 L473.50,989.71 L474.50,989.30 L475.50,988.87 L476.50,988.42 L477.50,987.96 L478.50,987.48 L479.50,986.98 L480.50,986.47 L481.50,985.95 L482.50,985.41 L483.50,984.87 L484.50,984.32 L485.50,983.77 L486.50,983.21 L487.50,982.65 L488.50,982.09 L489.50,981.53 L490.50,980.98 L491.50,980.44 L492.50,979.90 L493.50,979.38 L494.50,978.86 L495.50,978.36 L496.50,977.87 L497.50,977.39 L498.50,976.92 L499.50,976.46 L500.50,976.00 L501.50,975.56 L502.50,975.13 L503.50,974.70 L504.50,974.28 L505.50,973.87 L506.50,973.46 L507.50,973.06 L508.50,972.66 L509.50,972.27 L510.50,971.88 L511.50,971.50 L512.50,971.12 L513.50,970.74 L514.50,970.36 L515.50,969.99 L516.50,969.61 L517.50,969.24 L518.50,968.87 L519.50,968.50 L520.50,968.12 L521.50,967.75 L522.50,967.37 L523.50,966.99 L524.50,966.61 L525.50,966.22 L526.50,965.84 L527.50,965.44 L528.50,965.05 L529.50,964.65 L530.50,964.25 L531.50,963.84 L532.50,963.43 L533.50,963.01 L534.50,962.59 L535.50,962.16 L536.50,961.72 L537.50,961.28 L538.50,960.83 L539.50,960.38 L540.50,959.91 L541.50,959.44 L542.50,958.97 L543.50,958.48 L544.50,957.99 L545.50,957.49 L546.50,956.99 L547.50,956.47 L548.50,955.95 L549.50,955.41 L550.50,954.87 L551.50,954.32 L552.50,953.76 L553.50,953.19 L554.50,952.61 L555.50,952.02 L556.50,951.42 L557.50,950.81 L558.50,950.20 L559.50,949.58 L560.50,948.95 L561.50,948.31 L562.50,947.67 L563.50,947.03 L564.50,946.38 L565.50,945.72 L566.50,945.06 L567.50,944.40 L568.50,943.73 L569.50,943.07 L570.50,942.40 L571.50,941.72 L572.50,941.05 L573.50,940.38 L574.50,939.71 L575.50,939.04 L576.50,938.37 L577.50,937.70 L578.50,937.03 L579.50,936.37 L580.50,935.71 L581.50,935.05 L582.50,934.40 L583.50,933.75 L584.50,933.10 L585.50,932.46 L586.50,931.81 L587.50,931.17 L588.50,930.54 L589.50,929.90 L590.50,929.26 L591.50,928.62 L592.50,927.95 L593.50,927.25 L594.50,926.51 L595.50,925.71 L596.50,924.84 L597.50,923.90 L598.50,922.87 L599.50,921.76 L600.50,920.58 L601.50,919.34 L602.50,918.03 L603.50,916.68 L604.50,915.29 L605.50,913.86 L606.50,912.40 L607.50,910.93 L608.50,909.45 L609.50,907.97 L610.50,906.50 L611.50,905.04 L612.50,903.60 L613.50,902.19 L614.50,900.80 L615.50,899.42 L616.50,898.05 L617.50,896.67 L618.50,895.28 L619.50,893.88 L620.50,892.44 L621.50,890.97 L622.50,889.45 L623.50,887.87 L624.50,886.24 L625.50,884.53 L626.50,882.75 L627.50,880.91 L628.50,879.01 L629.50,877.07 L630.50,875.11 L631.50,873.13 L632.50,871.15 L633.50,869.18 L634.50,867.23 L635.50,865.32 L636.50,863.45 L637.50,861.65 L638.50,859.91 L639.50,858.23 L640.50,856.62 L641.50,855.07 L642.50,853.56 L643.50,852.09 L644.50,850.66 L645.50,849.26 L646.50,847.89 L647.50,846.54 L648.50,845.20 L649.50,843.87 L650.50,842.54 L651.50,841.20 L652.50,839.86 L653.50,838.51 L654.50,837.14 L655.50,835.75 L656.50,834.36 L657.50,832.96 L658.50,831.55 L659.50,830.13 L660.50,828.71 L661.50,827.28 L662.50,825.85 L663.50,824.42 L664.50,822.99 L665.50,821.56 L666.50,820.14 L667.50,818.71 L668.50,817.30 L669.50,815.89 L670.50,814.49 L671.50,813.10 L672.50,811.72 L673.50,810.36 L674.50,809.01 L675.50,807.67 L676.50,806.34 L677.50,805.02 L678.50,803.71 L679.50,802.40 L680.50,801.10 L681.50,799.81 L682.50,798.52 L683.50,797.25 L684.50,795.97 L685.50,794.71 L686.50,793.45 L687.50,792.20 L688.50,790.96 L689.50,789.72 L690.50,788.49 L691.50,787.27 L692.50,786.05 L693.50,784.83 L694.50,783.63 L695.50,782.43 L696.50,781.23 L697.50,780.05 L698.50,778.86 L699.50,777.69 L700.50,776.52 L701.50,775.35 L702.50,774.19 L703.50,773.04 L704.50,771.90 L705.50,770.77 L706.50,769.65 L707.50,768.53 L708.50,767.43 L709.50,766.35 L710.50,765.27 L711.50,764.21 L712.50,763.17 L713.50,762.14 L714.50,761.12 L715.50,760.13 L716.50,759.15 L717.50,758.19 L718.50,757.25 L719.50,756.33 L720.50,755.43 L721.50,754.56 L722.50,753.71 L723.50,752.88 L724.50,752.07 L725.50,751.30 L726.50,750.54 L727.50,749.82 L728.50,749.12 L729.50,748.45 L730.50,747.81 L731.50,747.20 L732.50,746.62 L733.50,746.08 L734.50,745.56 L735.50,745.08 L736.00,744.85 L736.00,789.37 L735.50,789.59 L734.50,790.04 L733.50,790.53 L732.50,791.04 L731.50,791.58 L730.50,792.15 L729.50,792.74 L728.50,793.36 L727.50,794.01 L726.50,794.68 L725.50,795.38 L724.50,796.10 L723.50,796.84 L722.50,797.60 L721.50,798.38 L720.50,799.18 L719.50,800.01 L718.50,800.85 L717.50,801.71 L716.50,802.58 L715.50,803.48 L714.50,804.38 L713.50,805.31 L712.50,806.24 L711.50,807.19 L710.50,808.16 L709.50,809.13 L708.50,810.12 L707.50,811.11 L706.50,812.12 L705.50,813.14 L704.50,814.16 L703.50,815.19 L702.50,816.22 L701.50,817.27 L700.50,818.32 L699.50,819.37 L698.50,820.42 L697.50,821.48 L696.50,822.55 L695.50,823.62 L694.50,824.69 L693.50,825.77 L692.50,826.85 L691.50,827.94 L690.50,829.03 L689.50,830.13 L688.50,831.24 L687.50,832.35 L686.50,833.46 L685.50,834.58 L684.50,835.71 L683.50,836.84 L682.50,837.98 L681.50,839.13 L680.50,840.28 L679.50,841.44 L678.50,842.60 L677.50,843.77 L676.50,844.95 L675.50,846.14 L674.50,847.33 L673.50,848.53 L672.50,849.73 L671.50,850.93 L670.50,852.14 L669.50,853.34 L668.50,854.55 L667.50,855.75 L666.50,856.95 L665.50,858.14 L664.50,859.34 L663.50,860.52 L662.50,861.70 L661.50,862.88 L660.50,864.04 L659.50,865.20 L658.50,866.35 L657.50,867.48 L656.50,868.61 L655.50,869.72 L654.50,870.82 L653.50,871.90 L652.50,872.97 L651.50,874.03 L650.50,875.07 L649.50,876.11 L648.50,877.15 L647.50,878.20 L646.50,879.27 L645.50,880.36 L644.50,881.47 L643.50,882.62 L642.50,883.81 L641.50,885.04 L640.50,886.33 L639.50,887.68 L638.50,889.09 L637.50,890.57 L636.50,892.13 L635.50,893.76 L634.50,895.43 L633.50,897.15 L632.50,898.90 L631.50,900.67 L630.50,902.45 L629.50,904.22 L628.50,905.97 L627.50,907.69 L626.50,909.37 L625.50,911.00 L624.50,912.57 L623.50,914.06 L622.50,915.49 L621.50,916.87 L620.50,918.21 L619.50,919.50 L618.50,920.77 L617.50,922.02 L616.50,923.25 L615.50,924.48 L614.50,925.72 L613.50,926.98 L612.50,928.25 L611.50,929.56 L610.50,930.88 L609.50,932.23 L608.50,933.58 L607.50,934.93 L606.50,936.27 L605.50,937.60 L604.50,938.90 L603.50,940.18 L602.50,941.41 L601.50,942.60 L600.50,943.73 L599.50,944.80 L598.50,945.80 L597.50,946.73 L596.50,947.57 L595.50,948.33 L594.50,949.04 L593.50,949.69 L592.50,950.30 L591.50,950.88 L590.50,951.45 L589.50,952.01 L588.50,952.57 L587.50,953.14 L586.50,953.72 L585.50,954.30 L584.50,954.89 L583.50,955.49 L582.50,956.09 L581.50,956.70 L580.50,957.33 L579.50,957.95 L578.50,958.59 L577.50,959.22 L576.50,959.86 L575.50,960.50 L574.50,961.14 L573.50,961.78 L572.50,962.42 L571.50,963.06 L570.50,963.69 L569.50,964.33 L568.50,964.97 L567.50,965.60 L566.50,966.23 L565.50,966.86 L564.50,967.48 L563.50,968.10 L562.50,968.71 L561.50,969.32 L560.50,969.92 L559.50,970.52 L558.50,971.11 L557.50,971.70 L556.50,972.27 L555.50,972.84 L554.50,973.40 L553.50,973.96 L552.50,974.50 L551.50,975.03 L550.50,975.56 L549.50,976.08 L548.50,976.59 L547.50,977.09 L546.50,977.58 L545.50,978.07 L544.50,978.55 L543.50,979.02 L542.50,979.48 L541.50,979.94 L540.50,980.40 L539.50,980.84 L538.50,981.29 L537.50,981.72 L536.50,982.15 L535.50,982.58 L534.50,983.00 L533.50,983.42 L532.50,983.83 L531.50,984.24 L530.50,984.65 L529.50,985.05 L528.50,985.45 L527.50,985.85 L526.50,986.25 L525.50,986.65 L524.50,987.05 L523.50,987.45 L522.50,987.84 L521.50,988.24 L520.50,988.64 L519.50,989.04 L518.50,989.44 L517.50,989.84 L516.50,990.24 L515.50,990.65 L514.50,991.06 L513.50,991.47 L512.50,991.88 L511.50,992.30 L510.50,992.73 L509.50,993.16 L508.50,993.59 L507.50,994.04 L506.50,994.48 L505.50,994.94 L504.50,995.40 L503.50,995.87 L502.50,996.35 L501.50,996.83 L500.50,997.33 L499.50,997.83 L498.50,998.35 L497.50,998.87 L496.50,999.41 L495.50,999.95 L494.50,1000.51 L493.50,1001.08 L492.50,1001.66 L491.50,1002.25 L490.50,1002.85 L489.50,1003.46 L488.50,1004.07 L487.50,1004.69 L486.50,1005.30 L485.50,1005.92 L484.50,1006.53 L483.50,1007.13 L482.50,1007.73 L481.50,1008.32 L480.50,1008.90 L479.50,1009.46 L478.50,1010.01 L477.50,1010.54 L476.50,1011.05 L475.50,1011.55 L474.50,1012.03 L473.50,1012.49 L472.50,1012.94 L471.50,1013.37 L470.50,1013.79 L469.50,1014.20 L468.50,1014.60 L467.50,1014.99 L466.50,1015.37 L465.50,1015.75 L464.50,1016.12 L463.50,1016.48 L462.50,1016.84 L461.50,1017.20 L460.50,1017.56 L459.50,1017.91 L458.50,1018.27 L457.50,1018.63 L456.50,1018.98 L455.50,1019.34 L454.50,1019.70 L453.50,1020.07 L452.50,1020.44 L451.50,1020.81 L450.50,1021.19 L449.50,1021.57 L448.50,1021.96 L447.50,1022.36 L446.50,1022.77 L445.50,1023.18 L444.50,1023.60 L443.50,1024.03 L442.50,1024.46 L441.50,1024.90 L440.50,1025.35 L439.50,1025.80 L438.50,1026.26 L437.50,1026.72 L436.50,1027.17 L435.50,1027.63 L434.50,1028.09 L433.50,1028.55 L432.50,1029.01 L431.50,1029.46 L430.50,1029.91 L429.50,1030.35 L428.50,1030.79 L427.50,1031.23 L426.50,1031.66 L425.50,1032.09 L424.50,1032.52 L423.50,1032.94 L422.50,1033.37 L421.50,1033.81 L420.50,1034.24 L419.50,1034.69 L418.50,1035.14 L417.50,1035.59 L416.50,1036.06 L415.50,1036.53 L414.50,1037.02 L413.50,1037.52 L412.50,1038.03 L411.50,1038.55 L410.50,1039.09 L409.50,1039.64 L408.50,1040.19 L407.50,1040.76 L406.50,1041.33 L405.50,1041.91 L404.50,1042.50 L403.50,1043.09 L402.50,1043.69 L401.50,1044.29 L400.50,1044.89 L399.50,1045.50 L398.50,1046.10 L397.50,1046.70 L396.50,1047.29 L395.50,1047.89 L394.50,1048.48 L393.50,1049.06 L392.50,1049.65 L391.50,1050.23 L390.50,1050.81 L389.50,1051.38 L388.50,1051.96 L387.50,1052.53 L386.50,1053.10 L385.50,1053.67 L384.50,1054.24 L383.50,1054.80 L382.50,1055.37 L381.50,1055.93 L380.50,1056.49 L379.50,1057.06 L378.50,1057.62 L377.50,1058.18 L376.50,1058.74 L375.50,1059.31 L374.50,1059.87 L373.50,1060.43 L372.50,1061.00 L371.50,1061.56 L370.50,1062.13 L369.50,1062.70 L368.50,1063.26 L367.50,1063.83 L366.50,1064.41 L365.50,1064.98 L364.50,1065.56 L363.50,1066.14 L362.50,1066.72 L361.50,1067.31 L360.50,1067.90 L359.50,1068.50 L358.50,1069.10 L357.50,1069.71 L356.50,1070.32 L355.50,1070.94 L354.50,1071.56 L353.50,1072.19 L352.50,1072.83 L351.50,1073.47 L350.50,1074.12 L349.50,1074.78 L348.50,1075.44 L347.50,1076.11 L346.50,1076.78 L345.50,1077.46 L344.50,1078.15 L343.50,1078.84 L342.50,1079.54 L341.50,1080.25 L340.50,1080.97 L339.50,1081.69 L338.50,1082.43 L337.50,1083.17 L336.50,1083.92 L335.50,1084.69 L334.50,1085.47 L333.50,1086.27 L332.50,1087.09 L331.50,1087.94 L330.50,1088.81 L329.50,1089.71 L328.50,1090.64 L327.50,1091.61 L326.50,1092.61 L325.50,1093.66 L324.50,1094.74 L323.50,1095.85 L322.50,1096.96 L321.50,1098.07 L320.50,1099.16 L319.50,1100.20 L318.50,1101.19 L317.50,1102.10 L316.50,1102.92 L315.50,1103.66 L314.50,1104.32 L313.50,1104.93 L312.50,1105.47 L311.50,1105.98 L310.50,1106.45 L309.50,1106.89 L308.50,1107.32 L307.50,1107.74 L306.50,1108.16 L305.50,1108.58 L304.50,1109.02 L303.50,1109.49 L302.50,1109.98 L301.50,1110.51 L300.50,1111.08 L299.50,1111.68 L298.50,1112.31 L297.50,1112.94 L296.50,1113.57 L295.50,1114.20 L294.50,1114.80 L293.50,1115.36 L292.50,1115.89 L291.50,1116.38 L290.50,1116.83 L289.50,1117.24 L288.50,1117.63 L287.50,1117.98 L286.50,1118.30 L285.50,1118.60 L284.50,1118.88 L283.50,1119.14 L282.50,1119.38 L281.50,1119.60 L280.50,1119.82 L279.50,1120.02 L278.50,1120.22 L277.50,1120.41 L276.50,1120.60 L275.50,1120.79 L274.50,1120.97 L273.50,1121.15 L272.50,1121.33 L271.50,1121.51 L270.50,1121.68 L269.50,1121.85 L268.50,1122.02 L267.50,1122.19 L266.50,1122.36 L265.50,1122.53 L264.50,1122.69 L263.50,1122.86 L262.50,1123.02 L261.50,1123.18 L260.50,1123.34 L259.50,1123.50 L258.50,1123.66 L257.50,1123.82 L256.50,1123.97 L255.50,1124.13 L254.50,1124.28 L253.50,1124.44 L252.50,1124.59 L251.50,1124.74 L250.50,1124.90 L249.50,1125.05 L248.50,1125.20 L247.50,1125.35 L246.50,1125.50 L245.50,1125.65 L244.50,1125.80 L243.50,1125.94 L242.50,1126.09 L241.50,1126.24 L240.50,1126.39 L239.50,1126.53 L238.50,1126.67 L237.50,1126.82 L236.50,1126.96 L235.50,1127.10 L234.50,1127.23 L233.50,1127.37 L232.50,1127.51 L231.50,1127.65 L230.50,1127.79 L229.50,1127.93 L228.50,1128.07 L227.50,1128.22 L226.50,1128.37 L225.50,1128.52 L224.50,1128.67 L223.50,1128.83 L222.50,1129.00 L221.50,1129.16 L220.50,1129.32 L219.50,1129.49 L218.50,1129.65 L217.50,1129.82 L216.50,1129.98 L215.50,1130.14 L214.50,1130.30 L213.50,1130.45 L212.50,1130.61 L211.50,1130.76 L210.50,1130.90 L209.50,1131.05 L208.50,1131.20 L207.50,1131.35 L206.50,1131.50 L205.50,1131.65 L204.50,1131.81 L203.50,1131.97 L202.50,1132.14 L201.50,1132.32 L200.50,1132.51 L199.50,1132.71 L198.50,1132.92 L197.50,1133.12 L196.50,1133.33 L195.50,1133.55 L194.50,1133.76 L193.50,1133.95 L192.50,1134.13 L191.50,1134.30 L190.50,1134.46 L189.50,1134.60 L188.50,1134.71 L187.50,1134.80 L186.50,1134.89 L185.50,1135.00 L184.50,1135.15 L183.50,1135.31 L182.50,1135.51 L181.50,1135.73 L180.50,1135.99 L179.50,1136.30 L178.50,1136.65 L177.50,1137.03 L176.50,1137.51 L175.50,1138.08 L174.50,1138.66 L173.50,1139.15 L172.50,1139.57 L171.50,1139.96 L170.50,1140.29 L169.50,1140.55 L168.50,1140.74 L167.50,1140.89 L166.50,1141.02 L165.50,1141.16 L164.50,1141.30 L163.50,1141.45 L162.50,1141.59 L161.50,1141.73 L160.50,1141.86 L159.50,1142.00 L158.50,1142.13 L157.50,1142.25 L156.50,1142.37 L155.50,1142.49 L154.50,1142.61 L153.50,1142.72 L152.50,1142.82 L151.50,1142.93 L150.50,1143.03 L149.50,1143.13 L148.50,1143.22 L147.50,1143.31 L146.50,1143.40 L145.50,1143.49 L144.50,1143.57 L143.50,1143.66 L142.50,1143.73 L141.50,1143.81 L140.50,1143.89 L139.50,1143.96 L138.50,1144.03 L137.50,1144.09 L136.50,1144.16 L135.50,1144.22 L134.50,1144.28 L133.50,1144.34 L132.50,1144.40 L131.50,1144.46 L130.50,1144.51 L129.50,1144.57 L128.50,1144.62 L127.50,1144.68 L126.50,1144.73 L125.50,1144.79 L124.50,1144.84 L123.50,1144.90 L122.50,1144.96 L121.50,1145.02 L120.50,1145.08 L119.50,1145.15 L118.50,1145.22 L117.50,1145.30 L116.50,1145.38 L115.50,1145.48 L114.50,1145.56 L113.50,1145.63 L112.50,1145.67 L111.50,1145.71 L110.50,1145.74 L109.50,1145.76 L108.50,1145.76 L107.50,1145.75 L106.50,1145.75 L105.50,1145.75 L104.50,1145.74 L103.50,1145.74 L102.50,1145.73 L101.50,1145.73 L100.50,1145.72 L99.50,1145.72 L98.50,1145.71 L97.50,1145.70 L96.50,1145.70 L95.50,1145.69 L94.50,1145.68 L93.50,1145.67 L92.50,1145.66 L91.50,1145.66 L90.50,1145.65 L89.50,1145.64 L88.50,1145.63 L87.50,1145.62 L86.50,1145.61 L85.50,1145.60 L84.50,1145.59 L83.50,1145.57 L82.50,1145.56 L81.50,1145.55 L80.50,1145.54 L79.50,1145.53 L78.50,1145.51 L77.50,1145.50Z" fill="#1f77b4" fill-opacity="0.1"/>
<path d="M77.50,1145.50 L78.50,1145.51 L79.50,1145.52 L80.50,1145.52 L81.50,1145.53 L82.50,1145.54 L83.50,1145.54 L84.50,1145.55 L85.50,1145.55 L86.50,1145.56 L87.50,1145.56 L88.50,1145.57 L89.50,1145.57 L90.50,1145.57 L91.50,1145.58 L92.50,1145.58 L93.50,1145.58 L94.50,1145.58 L95.50,1145.58 L96.50,1145.58 L97.50,1145.58 L98.50,1145.58 L99.50,1145.58 L100.50,1145.58 L101.50,1145.58 L102.50,1145.57 L103.50,1145.57 L104.50,1145.57 L105.50,1145.56 L106.50,1145.56 L107.50,1145.55 L108.50,1145.55 L109.50,1145.54 L110.50,1145.52 L111.50,1145.48 L112.50,1145.43 L113.50,1145.37 L114.50,1145.30 L115.50,1145.20 L116.50,1145.10 L117.50,1145.01 L118.50,1144.92 L119.50,1144.84 L120.50,1144.76 L121.50,1144.69 L122.50,1144.62 L123.50,1144.55 L124.50,1144.48 L125.50,1144.42 L126.50,1144.35 L127.50,1144.28 L128.50,1144.22 L129.50,1144.15 L130.50,1144.09 L131.50,1144.02 L132.50,1143.95 L133.50,1143.88 L134.50,1143.81 L135.50,1143.74 L136.50,1143.67 L137.50,1143.59 L138.50,1143.51 L139.50,1143.43 L140.50,1143.35 L141.50,1143.26 L142.50,1143.17 L143.50,1143.08 L144.50,1142.99 L145.50,1142.89 L146.50,1142.79 L147.50,1142.69 L148.50,1142.59 L149.50,1142.48 L150.50,1142.37 L151.50,1142.26 L152.50,1142.14 L153.50,1142.02 L154.50,1141.90 L155.50,1141.77 L156.50,1141.64 L157.50,1141.50 L158.50,1141.36 L159.50,1141.22 L160.50,1141.07 L161.50,1140.93 L162.50,1140.77 L163.50,1140.62 L164.50,1140.46 L165.50,1140.30 L166.50,1140.15 L167.50,1140.01 L168.50,1139.84 L169.50,1139.64 L170.50,1139.37 L171.50,1139.02 L172.50,1138.62 L173.50,1138.18 L174.50,1137.68 L175.50,1137.09 L176.50,1136.50 L177.50,1136.01 L178.50,1135.61 L179.50,1135.25 L180.50,1134.93 L181.50,1134.65 L182.50,1134.42 L183.50,1134.21 L184.50,1134.02 L185.50,1133.87 L186.50,1133.74 L187.50,1133.63 L188.50,1133.53 L189.50,1133.41 L190.50,1133.26 L191.50,1133.08 L192.50,1132.89 L193.50,1132.70 L194.50,1132.49 L195.50,1132.26 L196.50,1132.04 L197.50,1131.81 L198.50,1131.59 L199.50,1131.37 L200.50,1131.15 L201.50,1130.94 L202.50,1130.75 L203.50,1130.57 L204.50,1130.40 L205.50,1130.22 L206.50,1130.05 L207.50,1129.89 L208.50,1129.73 L209.50,1129.56 L210.50,1129.40 L211.50,1129.23 L212.50,1129.07 L213.50,1128.90 L214.50,1128.73 L215.50,1128.56 L216.50,1128.38 L217.50,1128.21 L218.50,1128.03 L219.50,1127.85 L220.50,1127.67 L221.50,1127.49 L222.50,1127.31 L223.50,1127.13 L224.50,1126.96 L225.50,1126.78 L226.50,1126.62 L227.50,1126.45 L228.50,1126.29 L229.50,1126.13 L230.50,1125.97 L231.50,1125.82 L232.50,1125.66 L233.50,1125.51 L234.50,1125.35 L235.50,1125.20 L236.50,1125.04 L237.50,1124.89 L238.50,1124.73 L239.50,1124.56 L240.50,1124.40 L241.50,1124.24 L242.50,1124.07 L243.50,1123.90 L244.50,1123.74 L245.50,1123.57 L246.50,1123.40 L247.50,1123.23 L248.50,1123.06 L249.50,1122.89 L250.50,1122.72 L251.50,1122.55 L252.50,1122.37 L253.50,1122.20 L254.50,1122.03 L255.50,1121.85 L256.50,1121.67 L257.50,1121.49 L258.50,1121.31 L259.50,1121.13 L260.50,1120.95 L261.50,1120.77 L262.50,1120.58 L263.50,1120.39 L264.50,1120.21 L265.50,1120.02 L266.50,1119.83 L267.50,1119.63 L268.50,1119.44 L269.50,1119.24 L270.50,1119.04 L271.50,1118.84 L272.50,1118.64 L273.50,1118.43 L274.50,1118.22 L275.50,1118.01 L276.50,1117.80 L277.50,1117.58 L278.50,1117.36 L279.50,1117.13 L280.50,1116.90 L281.50,1116.65 L282.50,1116.40 L283.50,1116.13 L284.50,1115.84 L285.50,1115.53 L286.50,1115.19 L287.50,1114.83 L288.50,1114.45 L289.50,1114.03 L290.50,1113.58 L291.50,1113.10 L292.50,1112.57 L293.50,1112.01 L294.50,1111.41 L295.50,1110.77 L296.50,1110.11 L297.50,1109.44 L298.50,1108.77 L299.50,1108.10 L300.50,1107.46 L301.50,1106.84 L302.50,1106.26 L303.50,1105.71 L304.50,1105.19 L305.50,1104.68 L306.50,1104.19 L307.50,1103.69 L308.50,1103.19 L309.50,1102.68 L310.50,1102.15 L311.50,1101.59 L312.50,1100.99 L313.50,1100.34 L314.50,1099.64 L315.50,1098.87 L316.50,1098.02 L317.50,1097.09 L318.50,1096.06 L319.50,1094.96 L320.50,1093.80 L321.50,1092.60 L322.50,1091.36 L323.50,1090.12 L324.50,1088.89 L325.50,1087.68 L326.50,1086.51 L327.50,1085.37 L328.50,1084.28 L329.50,1083.22 L330.50,1082.19 L331.50,1081.18 L332.50,1080.21 L333.50,1079.26 L334.50,1078.32 L335.50,1077.41 L336.50,1076.52 L337.50,1075.63 L338.50,1074.76 L339.50,1073.90 L340.50,1073.05 L341.50,1072.21 L342.50,1071.38 L343.50,1070.56 L344.50,1069.75 L345.50,1068.95 L346.50,1068.16 L347.50,1067.37 L348.50,1066.60 L349.50,1065.83 L350.50,1065.07 L351.50,1064.32 L352.50,1063.57 L353.50,1062.83 L354.50,1062.10 L355.50,1061.38 L356.50,1060.66 L357.50,1059.94 L358.50,1059.23 L359.50,1058.53 L360.50,1057.83 L361.50,1057.14 L362.50,1056.44 L363.50,1055.76 L364.50,1055.08 L365.50,1054.40 L366.50,1053.72 L367.50,1053.04 L368.50,1052.37 L369.50,1051.70 L370.50,1051.03 L371.50,1050.37 L372.50,1049.70 L373.50,1049.04 L374.50,1048.38 L375.50,1047.71 L376.50,1047.05 L377.50,1046.39 L378.50,1045.73 L379.50,1045.07 L380.50,1044.41 L381.50,1043.76 L382.50,1043.10 L383.50,1042.44 L384.50,1041.78 L385.50,1041.12 L386.50,1040.46 L387.50,1039.79 L388.50,1039.13 L389.50,1038.47 L390.50,1037.80 L391.50,1037.14 L392.50,1036.47 L393.50,1035.80 L394.50,1035.13 L395.50,1034.45 L396.50,1033.78 L397.50,1033.10 L398.50,1032.42 L399.50,1031.74 L400.50,1031.05 L401.50,1030.37 L402.50,1029.68 L403.50,1029.00 L404.50,1028.32 L405.50,1027.64 L406.50,1026.97 L407.50,1026.30 L408.50,1025.63 L409.50,1024.98 L410.50,1024.33 L411.50,1023.69 L412.50,1023.07 L413.50,1022.45 L414.50,1021.85 L415.50,1021.26 L416.50,1020.68 L417.50,1020.11 L418.50,1019.55 L419.50,1019.00 L420.50,1018.45 L421.50,1017.92 L422.50,1017.38 L423.50,1016.85 L424.50,1016.32 L425.50,1015.80 L426.50,1015.27 L427.50,1014.75 L428.50,1014.22 L429.50,1013.69 L430.50,1013.16 L431.50,1012.63 L432.50,1012.09 L433.50,1011.56 L434.50,1011.02 L435.50,1010.49 L436.50,1009.96 L437.50,1009.44 L438.50,1008.92 L439.50,1008.41 L440.50,1007.91 L441.50,1007.41 L442.50,1006.92 L443.50,1006.45 L444.50,1005.99 L445.50,1005.54 L446.50,1005.10 L447.50,1004.68 L448.50,1004.27 L449.50,1003.88 L450.50,1003.49 L451.50,1003.11 L452.50,1002.75 L453.50,1002.38 L454.50,1002.03 L455.50,1001.68 L456.50,1001.33 L457.50,1000.99 L458.50,1000.65 L459.50,1000.31 L460.50,999.97 L461.50,999.64 L462.50,999.30 L463.50,998.96 L464.50,998.63 L465.50,998.28 L466.50,997.94 L467.50,997.59 L468.50,997.23 L469.50,996.86 L470.50,996.48 L471.50,996.10 L472.50,995.70 L473.50,995.29 L474.50,994.86 L475.50,994.43 L476.50,993.97 L477.50,993.50 L478.50,993.01 L479.50,992.50 L480.50,991.98 L481.50,991.44 L482.50,990.90 L483.50,990.34 L484.50,989.78 L485.50,989.22 L486.50,988.65 L487.50,988.08 L488.50,987.51 L489.50,986.94 L490.50,986.38 L491.50,985.82 L492.50,985.27 L493.50,984.74 L494.50,984.21 L495.50,983.70 L496.50,983.20 L497.50,982.70 L498.50,982.22 L499.50,981.75 L500.50,981.29 L501.50,980.84 L502.50,980.39 L503.50,979.95 L504.50,979.52 L505.50,979.10 L506.50,978.68 L507.50,978.27 L508.50,977.87 L509.50,977.47 L510.50,977.07 L511.50,976.68 L512.50,976.29 L513.50,975.90 L514.50,975.52 L515.50,975.14 L516.50,974.76 L517.50,974.38 L518.50,974.00 L519.50,973.62 L520.50,973.25 L521.50,972.87 L522.50,972.48 L523.50,972.10 L524.50,971.72 L525.50,971.33 L526.50,970.94 L527.50,970.55 L528.50,970.15 L529.50,969.75 L530.50,969.35 L531.50,968.94 L532.50,968.53 L533.50,968.11 L534.50,967.69 L535.50,967.27 L536.50,966.84 L537.50,966.40 L538.50,965.96 L539.50,965.51 L540.50,965.06 L541.50,964.59 L542.50,964.13 L543.50,963.65 L544.50,963.17 L545.50,962.68 L546.50,962.18 L547.50,961.68 L548.50,961.17 L549.50,960.64 L550.50,960.12 L551.50,959.58 L552.50,959.03 L553.50,958.47 L554.50,957.91 L555.50,957.33 L556.50,956.75 L557.50,956.16 L558.50,955.56 L559.50,954.95 L560.50,954.34 L561.50,953.72 L562.50,953.09 L563.50,952.46 L564.50,951.83 L565.50,951.19 L566.50,950.54 L567.50,949.90 L568.50,949.25 L569.50,948.60 L570.50,947.95 L571.50,947.29 L572.50,946.64 L573.50,945.98 L574.50,945.32 L575.50,944.67 L576.50,944.01 L577.50,943.36 L578.50,942.71 L579.50,942.06 L580.50,941.42 L581.50,940.77 L582.50,940.14 L583.50,939.50 L584.50,938.87 L585.50,938.24 L586.50,937.61 L587.50,936.99 L588.50,936.37 L589.50,935.74 L590.50,935.12 L591.50,934.49 L592.50,933.84 L593.50,933.16 L594.50,932.43 L595.50,931.65 L596.50,930.80 L597.50,929.87 L598.50,928.86 L599.50,927.77 L600.50,926.61 L601.50,925.38 L602.50,924.09 L603.50,922.76 L604.50,921.38 L605.50,919.98 L606.50,918.54 L607.50,917.09 L608.50,915.63 L609.50,914.17 L610.50,912.72 L611.50,911.28 L612.50,909.86 L613.50,908.48 L614.50,907.11 L615.50,905.76 L616.50,904.41 L617.50,903.06 L618.50,901.70 L619.50,900.32 L620.50,898.91 L621.50,897.46 L622.50,895.97 L623.50,894.43 L624.50,892.82 L625.50,891.15 L626.50,889.40 L627.50,887.60 L628.50,885.74 L629.50,883.86 L630.50,881.94 L631.50,880.02 L632.50,878.10 L633.50,876.19 L634.50,874.31 L635.50,872.46 L636.50,870.67 L637.50,868.94 L638.50,867.27 L639.50,865.68 L640.50,864.15 L641.50,862.67 L642.50,861.25 L643.50,859.87 L644.50,858.52 L645.50,857.21 L646.50,855.93 L647.50,854.66 L648.50,853.42 L649.50,852.17 L650.50,850.94 L651.50,849.69 L652.50,848.44 L653.50,847.18 L654.50,845.90 L655.50,844.60 L656.50,843.30 L657.50,841.98 L658.50,840.66 L659.50,839.33 L660.50,837.99 L661.50,836.64 L662.50,835.29 L663.50,833.94 L664.50,832.58 L665.50,831.23 L666.50,829.87 L667.50,828.52 L668.50,827.17 L669.50,825.82 L670.50,824.48 L671.50,823.14 L672.50,821.81 L673.50,820.49 L674.50,819.19 L675.50,817.89 L676.50,816.60 L677.50,815.31 L678.50,814.04 L679.50,812.77 L680.50,811.51 L681.50,810.26 L682.50,809.01 L683.50,807.77 L684.50,806.54 L685.50,805.31 L686.50,804.09 L687.50,802.88 L688.50,801.67 L689.50,800.47 L690.50,799.27 L691.50,798.08 L692.50,796.90 L693.50,795.72 L694.50,794.55 L695.50,793.39 L696.50,792.23 L697.50,791.07 L698.50,789.92 L699.50,788.78 L700.50,787.64 L701.50,786.50 L702.50,785.38 L703.50,784.26 L704.50,783.14 L705.50,782.04 L706.50,780.95 L707.50,779.86 L708.50,778.79 L709.50,777.73 L710.50,776.68 L711.50,775.64 L712.50,774.62 L713.50,773.62 L714.50,772.63 L715.50,771.65 L716.50,770.69 L717.50,769.76 L718.50,768.84 L719.50,767.94 L720.50,767.06 L721.50,766.20 L722.50,765.36 L723.50,764.55 L724.50,763.76 L725.50,762.99 L726.50,762.25 L727.50,761.53 L728.50,760.85 L729.50,760.18 L730.50,759.55 L731.50,758.95 L732.50,758.38 L733.50,757.83 L734.50,757.32 L735.50,756.84 L736.00,756.61 L736.00,778.87 L735.50,779.10 L734.50,779.56 L733.50,780.06 L732.50,780.58 L731.50,781.14 L730.50,781.72 L729.50,782.33 L728.50,782.97 L727.50,783.63 L726.50,784.32 L725.50,785.03 L724.50,785.77 L723.50,786.52 L722.50,787.31 L721.50,788.11 L720.50,788.93 L719.50,789.77 L718.50,790.63 L717.50,791.51 L716.50,792.41 L715.50,793.33 L714.50,794.26 L713.50,795.20 L712.50,796.16 L711.50,797.14 L710.50,798.12 L709.50,799.12 L708.50,800.13 L707.50,801.15 L706.50,802.18 L705.50,803.22 L704.50,804.27 L703.50,805.33 L702.50,806.39 L701.50,807.46 L700.50,808.54 L699.50,809.62 L698.50,810.70 L697.50,811.79 L696.50,812.88 L695.50,813.98 L694.50,815.08 L693.50,816.19 L692.50,817.30 L691.50,818.42 L690.50,819.54 L689.50,820.67 L688.50,821.81 L687.50,822.95 L686.50,824.09 L685.50,825.24 L684.50,826.40 L683.50,827.57 L682.50,828.74 L681.50,829.92 L680.50,831.10 L679.50,832.29 L678.50,833.49 L677.50,834.69 L676.50,835.90 L675.50,837.12 L674.50,838.35 L673.50,839.58 L672.50,840.82 L671.50,842.06 L670.50,843.30 L669.50,844.54 L668.50,845.79 L667.50,847.03 L666.50,848.28 L665.50,849.52 L664.50,850.76 L663.50,851.99 L662.50,853.22 L661.50,854.44 L660.50,855.66 L659.50,856.86 L658.50,858.06 L657.50,859.25 L656.50,860.42 L655.50,861.59 L654.50,862.74 L653.50,863.88 L652.50,865.00 L651.50,866.10 L650.50,867.20 L649.50,868.30 L648.50,869.39 L647.50,870.50 L646.50,871.62 L645.50,872.76 L644.50,873.93 L643.50,875.13 L642.50,876.37 L641.50,877.66 L640.50,879.00 L639.50,880.40 L638.50,881.87 L637.50,883.40 L636.50,885.01 L635.50,886.68 L634.50,888.41 L633.50,890.18 L632.50,891.98 L631.50,893.79 L630.50,895.61 L629.50,897.43 L628.50,899.22 L627.50,900.99 L626.50,902.71 L625.50,904.38 L624.50,905.99 L623.50,907.52 L622.50,909.00 L621.50,910.42 L620.50,911.79 L619.50,913.13 L618.50,914.44 L617.50,915.73 L616.50,917.01 L615.50,918.29 L614.50,919.57 L613.50,920.87 L612.50,922.19 L611.50,923.54 L610.50,924.91 L609.50,926.30 L608.50,927.69 L607.50,929.09 L606.50,930.48 L605.50,931.85 L604.50,933.19 L603.50,934.51 L602.50,935.78 L601.50,937.01 L600.50,938.18 L599.50,939.29 L598.50,940.33 L597.50,941.29 L596.50,942.16 L595.50,942.96 L594.50,943.69 L593.50,944.38 L592.50,945.02 L591.50,945.63 L590.50,946.22 L589.50,946.80 L588.50,947.38 L587.50,947.97 L586.50,948.56 L585.50,949.16 L584.50,949.76 L583.50,950.37 L582.50,950.98 L581.50,951.60 L580.50,952.22 L579.50,952.85 L578.50,953.49 L577.50,954.12 L576.50,954.76 L575.50,955.40 L574.50,956.04 L573.50,956.68 L572.50,957.32 L571.50,957.96 L570.50,958.59 L569.50,959.23 L568.50,959.87 L567.50,960.50 L566.50,961.13 L565.50,961.76 L564.50,962.38 L563.50,963.00 L562.50,963.61 L561.50,964.22 L560.50,964.82 L559.50,965.42 L558.50,966.01 L557.50,966.60 L556.50,967.17 L555.50,967.74 L554.50,968.30 L553.50,968.86 L552.50,969.40 L551.50,969.93 L550.50,970.46 L549.50,970.98 L548.50,971.49 L547.50,971.99 L546.50,972.48 L545.50,972.97 L544.50,973.45 L543.50,973.92 L542.50,974.38 L541.50,974.84 L540.50,975.30 L539.50,975.74 L538.50,976.19 L537.50,976.62 L536.50,977.05 L535.50,977.48 L534.50,977.90 L533.50,978.32 L532.50,978.73 L531.50,979.14 L530.50,979.55 L529.50,979.95 L528.50,980.35 L527.50,980.75 L526.50,981.15 L525.50,981.54 L524.50,981.94 L523.50,982.33 L522.50,982.72 L521.50,983.11 L520.50,983.50 L519.50,983.89 L518.50,984.29 L517.50,984.68 L516.50,985.07 L515.50,985.47 L514.50,985.87 L513.50,986.27 L512.50,986.67 L511.50,987.08 L510.50,987.49 L509.50,987.91 L508.50,988.33 L507.50,988.76 L506.50,989.20 L505.50,989.64 L504.50,990.08 L503.50,990.54 L502.50,991.00 L501.50,991.47 L500.50,991.95 L499.50,992.44 L498.50,992.94 L497.50,993.45 L496.50,993.96 L495.50,994.49 L494.50,995.04 L493.50,995.59 L492.50,996.15 L491.50,996.73 L490.50,997.31 L489.50,997.90 L488.50,998.50 L487.50,999.10 L486.50,999.70 L485.50,1000.29 L484.50,1000.89 L483.50,1001.47 L482.50,1002.06 L481.50,1002.63 L480.50,1003.19 L479.50,1003.74 L478.50,1004.27 L477.50,1004.79 L476.50,1005.28 L475.50,1005.77 L474.50,1006.23 L473.50,1006.68 L472.50,1007.11 L471.50,1007.53 L470.50,1007.94 L469.50,1008.34 L468.50,1008.72 L467.50,1009.10 L466.50,1009.47 L465.50,1009.84 L464.50,1010.20 L463.50,1010.55 L462.50,1010.90 L461.50,1011.25 L460.50,1011.60 L459.50,1011.95 L458.50,1012.30 L457.50,1012.65 L456.50,1013.00 L455.50,1013.35 L454.50,1013.71 L453.50,1014.07 L452.50,1014.44 L451.50,1014.81 L450.50,1015.19 L449.50,1015.57 L448.50,1015.97 L447.50,1016.36 L446.50,1016.77 L445.50,1017.19 L444.50,1017.62 L443.50,1018.05 L442.50,1018.49 L441.50,1018.95 L440.50,1019.40 L439.50,1019.86 L438.50,1020.33 L437.50,1020.80 L436.50,1021.27 L435.50,1021.75 L434.50,1022.22 L433.50,1022.69 L432.50,1023.17 L431.50,1023.64 L430.50,1024.10 L429.50,1024.57 L428.50,1025.02 L427.50,1025.48 L426.50,1025.93 L425.50,1026.38 L424.50,1026.83 L423.50,1027.28 L422.50,1027.73 L421.50,1028.18 L420.50,1028.64 L419.50,1029.11 L418.50,1029.58 L417.50,1030.06 L416.50,1030.55 L415.50,1031.05 L414.50,1031.56 L413.50,1032.08 L412.50,1032.62 L411.50,1033.17 L410.50,1033.73 L409.50,1034.30 L408.50,1034.88 L407.50,1035.47 L406.50,1036.07 L405.50,1036.68 L404.50,1037.29 L403.50,1037.91 L402.50,1038.53 L401.50,1039.15 L400.50,1039.78 L399.50,1040.41 L398.50,1041.04 L397.50,1041.66 L396.50,1042.28 L395.50,1042.90 L394.50,1043.52 L393.50,1044.14 L392.50,1044.75 L391.50,1045.36 L390.50,1045.97 L389.50,1046.58 L388.50,1047.18 L387.50,1047.79 L386.50,1048.39 L385.50,1049.00 L384.50,1049.60 L383.50,1050.20 L382.50,1050.80 L381.50,1051.40 L380.50,1052.00 L379.50,1052.60 L378.50,1053.20 L377.50,1053.80 L376.50,1054.40 L375.50,1055.00 L374.50,1055.60 L373.50,1056.20 L372.50,1056.80 L371.50,1057.41 L370.50,1058.01 L369.50,1058.62 L368.50,1059.23 L367.50,1059.84 L366.50,1060.45 L365.50,1061.06 L364.50,1061.68 L363.50,1062.30 L362.50,1062.93 L361.50,1063.56 L360.50,1064.19 L359.50,1064.82 L358.50,1065.47 L357.50,1066.11 L356.50,1066.76 L355.50,1067.42 L354.50,1068.08 L353.50,1068.75 L352.50,1069.43 L351.50,1070.11 L350.50,1070.80 L349.50,1071.50 L348.50,1072.20 L347.50,1072.91 L346.50,1073.63 L345.50,1074.35 L344.50,1075.08 L343.50,1075.82 L342.50,1076.57 L341.50,1077.32 L340.50,1078.09 L339.50,1078.86 L338.50,1079.64 L337.50,1080.44 L336.50,1081.24 L335.50,1082.06 L334.50,1082.89 L333.50,1083.74 L332.50,1084.62 L331.50,1085.51 L330.50,1086.44 L329.50,1087.39 L328.50,1088.37 L327.50,1089.39 L326.50,1090.44 L325.50,1091.54 L324.50,1092.67 L323.50,1093.83 L322.50,1094.99 L321.50,1096.15 L320.50,1097.28 L319.50,1098.37 L318.50,1099.40 L317.50,1100.36 L316.50,1101.22 L315.50,1102.00 L314.50,1102.71 L313.50,1103.35 L312.50,1103.94 L311.50,1104.48 L310.50,1104.98 L309.50,1105.46 L308.50,1105.92 L307.50,1106.37 L306.50,1106.82 L305.50,1107.27 L304.50,1107.74 L303.50,1108.22 L302.50,1108.74 L301.50,1109.28 L300.50,1109.87 L299.50,1110.49 L298.50,1111.13 L297.50,1111.77 L296.50,1112.42 L295.50,1113.06 L294.50,1113.67 L293.50,1114.25 L292.50,1114.79 L291.50,1115.29 L290.50,1115.75 L289.50,1116.18 L288.50,1116.57 L287.50,1116.94 L286.50,1117.27 L285.50,1117.58 L284.50,1117.87 L283.50,1118.14 L282.50,1118.39 L281.50,1118.63 L280.50,1118.85 L279.50,1119.07 L278.50,1119.27 L277.50,1119.47 L276.50,1119.67 L275.50,1119.87 L274.50,1120.06 L273.50,1120.25 L272.50,1120.44 L271.50,1120.63 L270.50,1120.81 L269.50,1120.99 L268.50,1121.17 L267.50,1121.35 L266.50,1121.52 L265.50,1121.70 L264.50,1121.87 L263.50,1122.04 L262.50,1122.21 L261.50,1122.38 L260.50,1122.55 L259.50,1122.72 L258.50,1122.89 L257.50,1123.05 L256.50,1123.22 L255.50,1123.38 L254.50,1123.54 L253.50,1123.70 L252.50,1123.86 L251.50,1124.02 L250.50,1124.18 L249.50,1124.33 L248.50,1124.49 L247.50,1124.65 L246.50,1124.80 L245.50,1124.96 L244.50,1125.12 L243.50,1125.27 L242.50,1125.42 L241.50,1125.58 L240.50,1125.73 L239.50,1125.88 L238.50,1126.03 L237.50,1126.18 L236.50,1126.32 L235.50,1126.47 L234.50,1126.61 L233.50,1126.76 L232.50,1126.90 L231.50,1127.04 L230.50,1127.19 L229.50,1127.33 L228.50,1127.48 L227.50,1127.63 L226.50,1127.79 L225.50,1127.94 L224.50,1128.10 L223.50,1128.27 L222.50,1128.44 L221.50,1128.60 L220.50,1128.77 L219.50,1128.94 L218.50,1129.11 L217.50,1129.28 L216.50,1129.45 L215.50,1129.61 L214.50,1129.78 L213.50,1129.94 L212.50,1130.10 L211.50,1130.25 L210.50,1130.40 L209.50,1130.56 L208.50,1130.71 L207.50,1130.86 L206.50,1131.02 L205.50,1131.18 L204.50,1131.34 L203.50,1131.51 L202.50,1131.68 L201.50,1131.86 L200.50,1132.06 L199.50,1132.26 L198.50,1132.47 L197.50,1132.69 L196.50,1132.90 L195.50,1133.12 L194.50,1133.33 L193.50,1133.53 L192.50,1133.72 L191.50,1133.90 L190.50,1134.06 L189.50,1134.20 L188.50,1134.32 L187.50,1134.41 L186.50,1134.51 L185.50,1134.62 L184.50,1134.77 L183.50,1134.94 L182.50,1135.14 L181.50,1135.37 L180.50,1135.63 L179.50,1135.95 L178.50,1136.30 L177.50,1136.69 L176.50,1137.18 L175.50,1137.75 L174.50,1138.33 L173.50,1138.83 L172.50,1139.25 L171.50,1139.64 L170.50,1139.99 L169.50,1140.25 L168.50,1140.44 L167.50,1140.59 L166.50,1140.73 L165.50,1140.87 L164.50,1141.02 L163.50,1141.17 L162.50,1141.32 L161.50,1141.46 L160.50,1141.60 L159.50,1141.74 L158.50,1141.87 L157.50,1142.00 L156.50,1142.13 L155.50,1142.25 L154.50,1142.37 L153.50,1142.49 L152.50,1142.60 L151.50,1142.70 L150.50,1142.81 L149.50,1142.91 L148.50,1143.01 L147.50,1143.10 L146.50,1143.20 L145.50,1143.29 L144.50,1143.38 L143.50,1143.46 L142.50,1143.55 L141.50,1143.63 L140.50,1143.71 L139.50,1143.78 L138.50,1143.86 L137.50,1143.93 L136.50,1144.00 L135.50,1144.06 L134.50,1144.13 L133.50,1144.19 L132.50,1144.25 L131.50,1144.31 L130.50,1144.37 L129.50,1144.43 L128.50,1144.49 L127.50,1144.55 L126.50,1144.60 L125.50,1144.66 L124.50,1144.72 L123.50,1144.78 L122.50,1144.84 L121.50,1144.91 L120.50,1144.98 L119.50,1145.05 L118.50,1145.12 L117.50,1145.20 L116.50,1145.29 L115.50,1145.39 L114.50,1145.47 L113.50,1145.54 L112.50,1145.59 L111.50,1145.64 L110.50,1145.67 L109.50,1145.68 L108.50,1145.69 L107.50,1145.69 L106.50,1145.69 L105.50,1145.68 L104.50,1145.68 L103.50,1145.68 L102.50,1145.68 L101.50,1145.68 L100.50,1145.67 L99.50,1145.67 L98.50,1145.67 L97.50,1145.66 L96.50,1145.66 L95.50,1145.65 L94.50,1145.65 L93.50,1145.64 L92.50,1145.64 L91.50,1145.63 L90.50,1145.62 L89.50,1145.62 L88.50,1145.61 L87.50,1145.60 L86.50,1145.59 L85.50,1145.58 L84.50,1145.57 L83.50,1145.56 L82.50,1145.55 L81.50,1145.54 L80.50,1145.53 L79.50,1145.52 L78.50,1145.51 L77.50,1145.50Z" fill="#1f77b4" fill-opacity="0.1"/>
<path d="M736.00,782.30 L737.00,781.63 L738.00,780.97 L739.00,780.31 L740.00,779.66 L741.00,779.01 L742.00,778.36 L743.00,777.72 L744.00,777.08 L745.00,776.45 L746.00,775.82 L747.00,775.19 L748.00,774.57 L749.00,773.95 L750.00,773.34 L751.00,772.73 L752.00,772.12 L753.00,771.51 L754.00,770.90 L755.00,770.29 L756.00,769.69 L757.00,769.09 L758.00,768.51 L759.00,767.94 L760.00,767.38 L761.00,766.83 L762.00,766.30 L763.00,765.79 L764.00,765.29 L765.00,764.81 L766.00,764.33 L767.00,763.86 L768.00,763.40 L769.00,762.95 L770.00,762.50 L771.00,762.06 L772.00,761.62 L773.00,761.18 L774.00,760.75 L775.00,760.32 L776.00,759.89 L777.00,759.46 L778.00,759.04 L779.00,758.62 L780.00,758.21 L781.00,757.80 L782.00,757.39 L783.00,756.99 L784.00,756.59 L785.00,756.20 L785.50,756.00 L785.50,774.00 L785.00,774.02 L784.00,774.08 L783.00,774.13 L782.00,774.19 L781.00,774.25 L780.00,774.31 L779.00,774.38 L778.00,774.45 L777.00,774.53 L776.00,774.60 L775.00,774.68 L774.00,774.76 L773.00,774.84 L772.00,774.93 L771.00,775.01 L770.00,775.10 L769.00,775.19 L768.00,775.29 L767.00,775.39 L766.00,775.50 L765.00,775.62 L764.00,775.74 L763.00,775.88 L762.00,776.03 L761.00,776.20 L760.00,776.38 L759.00,776.57 L758.00,776.78 L757.00,777.00 L756.00,777.23 L755.00,777.46 L754.00,777.70 L753.00,777.94 L752.00,778.18 L751.00,778.42 L750.00,778.66 L749.00,778.90 L748.00,779.14 L747.00,779.38 L746.00,779.63 L745.00,779.88 L744.00,780.14 L743.00,780.40 L742.00,780.66 L741.00,780.92 L740.00,781.19 L739.00,781.46 L738.00,781.74 L737.00,782.02 L736.00,782.30Z" fill="#1f77b4" fill-opacity="0.1"/>
<path d="M736.00,782.30 L737.00,781.71 L738.00,781.12 L739.00,780.54 L740.00,779.96 L741.00,779.39 L742.00,778.82 L743.00,778.25 L744.00,777.69 L745.00,777.13 L746.00,776.58 L747.00,776.03 L748.00,775.48 L749.00,774.94 L750.00,774.41 L751.00,773.87 L752.00,773.33 L753.00,772.79 L754.00,772.26 L755.00,771.72 L756.00,771.20 L757.00,770.68 L758.00,770.16 L759.00,769.66 L760.00,769.18 L761.00,768.71 L762.00,768.25 L763.00,767.81 L764.00,767.38 L765.00,766.97 L766.00,766.56 L767.00,766.17 L768.00,765.78 L769.00,765.40 L770.00,765.02 L771.00,764.65 L772.00,764.28 L773.00,763.92 L774.00,763.55 L775.00,763.19 L776.00,762.83 L777.00,762.47 L778.00,762.12 L779.00,761.77 L780.00,761.43 L781.00,761.09 L782.00,760.75 L783.00,760.42 L784.00,760.09 L785.00,759.76 L785.50,759.60 L785.50,770.40 L785.00,770.46 L784.00,770.58 L783.00,770.70 L782.00,770.83 L781.00,770.96 L780.00,771.09 L779.00,771.23 L778.00,771.37 L777.00,771.51 L776.00,771.66 L775.00,771.81 L774.00,771.96 L773.00,772.11 L772.00,772.26 L771.00,772.42 L770.00,772.58 L769.00,772.74 L768.00,772.91 L767.00,773.08 L766.00,773.26 L765.00,773.45 L764.00,773.65 L763.00,773.86 L762.00,774.08 L761.00,774.32 L760.00,774.58 L759.00,774.85 L758.00,775.13 L757.00,775.42 L756.00,775.72 L755.00,776.02 L754.00,776.34 L753.00,776.65 L752.00,776.97 L751.00,777.28 L750.00,777.59 L749.00,777.91 L748.00,778.22 L747.00,778.54 L746.00,778.87 L745.00,779.19 L744.00,779.53 L743.00,779.86 L742.00,780.20 L741.00,780.54 L740.00,780.88 L739.00,781.23 L738.00,781.59 L737.00,781.94 L736.00,782.30Z" fill="#1f77b4" fill-opacity="0.1"/>
<path d="M736.00,782.30 L737.00,781.77 L738.00,781.24 L739.00,780.71 L740.00,780.19 L741.00,779.68 L742.00,779.16 L743.00,778.65 L744.00,778.15 L745.00,777.65 L746.00,777.15 L747.00,776.66 L748.00,776.17 L749.00,775.68 L750.00,775.20 L751.00,774.72 L752.00,774.24 L753.00,773.76 L754.00,773.28 L755.00,772.80 L756.00,772.33 L757.00,771.86 L758.00,771.41 L759.00,770.96 L760.00,770.53 L761.00,770.11 L762.00,769.71 L763.00,769.32 L764.00,768.95 L765.00,768.59 L766.00,768.24 L767.00,767.90 L768.00,767.56 L769.00,767.23 L770.00,766.91 L771.00,766.59 L772.00,766.28 L773.00,765.97 L774.00,765.65 L775.00,765.35 L776.00,765.04 L777.00,764.73 L778.00,764.43 L779.00,764.14 L780.00,763.84 L781.00,763.55 L782.00,763.27 L783.00,762.99 L784.00,762.71 L785.00,762.44 L785.50,762.30 L785.50,767.70 L785.00,767.78 L784.00,767.96 L783.00,768.13 L782.00,768.31 L781.00,768.49 L780.00,768.68 L779.00,768.87 L778.00,769.06 L777.00,769.25 L776.00,769.45 L775.00,769.65 L774.00,769.86 L773.00,770.06 L772.00,770.27 L771.00,770.48 L770.00,770.69 L769.00,770.90 L768.00,771.13 L767.00,771.35 L766.00,771.59 L765.00,771.83 L764.00,772.09 L763.00,772.35 L762.00,772.63 L761.00,772.92 L760.00,773.23 L759.00,773.55 L758.00,773.89 L757.00,774.23 L756.00,774.59 L755.00,774.95 L754.00,775.32 L753.00,775.69 L752.00,776.06 L751.00,776.43 L750.00,776.80 L749.00,777.17 L748.00,777.54 L747.00,777.92 L746.00,778.30 L745.00,778.68 L744.00,779.07 L743.00,779.46 L742.00,779.85 L741.00,780.25 L740.00,780.65 L739.00,781.06 L738.00,781.47 L737.00,781.88 L736.00,782.30Z" fill="#1f77b4" fill-opacity="0.1"/>
<line x1="77.5" x2="785.5" y1="1145.50" y2="1145.50" stroke="#b0b0b0" stroke-width="1"/>
<line x1="77.5" x2="785.5" y1="1063.50" y2="1063.50" stroke="#b0b0b0" stroke-width="1"/>
<line x1="77.5" x2="785.5" y1="981.50" y2="981.50" stroke="#b0b0b0" stroke-width="1"/>
<line x1="77.5" x2="785.5" y1="899.50" y2="899.50" stroke="#b0b0b0" stroke-width="1"/>
<line x1="77.5" x2="785.5" y1="817.50" y2="817.50" stroke="#b0b0b0" stroke-width="1"/>
<line x1="77.5" x2="785.5" y1="734.50" y2="734.50" stroke="#b0b0b0" stroke-width="1"/>
<line x1="77.5" x2="785.5" y1="652.50" y2="652.50" stroke="#b0b0b0" stroke-width="1"/>
<path d="M77.50,1145.50 L78.50,1145.51 L79.50,1145.52 L80.50,1145.53 L81.50,1145.54 L82.50,1145.55 L83.50,1145.55 L84.50,1145.56 L85.50,1145.57 L86.50,1145.57 L87.50,1145.58 L88.50,1145.59 L89.50,1145.59 L90.50,1145.60 L91.50,1145.60 L92.50,1145.61 L93.50,1145.61 L94.50,1145.61 L95.50,1145.62 L96.50,1145.62 L97.50,1145.62 L98.50,1145.62 L99.50,1145.63 L100.50,1145.63 L101.50,1145.63 L102.50,1145.63 L103.50,1145.63 L104.50,1145.62 L105.50,1145.62 L106.50,1145.62 L107.50,1145.62 L108.50,1145.62 L109.50,1145.61 L110.50,1145.59 L111.50,1145.56 L112.50,1145.51 L113.50,1145.46 L114.50,1145.39 L115.50,1145.29 L116.50,1145.20 L117.50,1145.10 L118.50,1145.02 L119.50,1144.94 L120.50,1144.87 L121.50,1144.80 L122.50,1144.73 L123.50,1144.66 L124.50,1144.60 L125.50,1144.54 L126.50,1144.48 L127.50,1144.42 L128.50,1144.35 L129.50,1144.29 L130.50,1144.23 L131.50,1144.17 L132.50,1144.10 L133.50,1144.04 L134.50,1143.97 L135.50,1143.90 L136.50,1143.83 L137.50,1143.76 L138.50,1143.68 L139.50,1143.61 L140.50,1143.53 L141.50,1143.44 L142.50,1143.36 L143.50,1143.27 L144.50,1143.18 L145.50,1143.09 L146.50,1143.00 L147.50,1142.90 L148.50,1142.80 L149.50,1142.69 L150.50,1142.59 L151.50,1142.48 L152.50,1142.37 L153.50,1142.25 L154.50,1142.13 L155.50,1142.01 L156.50,1141.88 L157.50,1141.75 L158.50,1141.62 L159.50,1141.48 L160.50,1141.34 L161.50,1141.19 L162.50,1141.05 L163.50,1140.89 L164.50,1140.74 L165.50,1140.59 L166.50,1140.44 L167.50,1140.30 L168.50,1140.14 L169.50,1139.95 L170.50,1139.68 L171.50,1139.33 L172.50,1138.93 L173.50,1138.51 L174.50,1138.00 L175.50,1137.42 L176.50,1136.84 L177.50,1136.35 L178.50,1135.96 L179.50,1135.60 L180.50,1135.28 L181.50,1135.01 L182.50,1134.78 L183.50,1134.58 L184.50,1134.40 L185.50,1134.24 L186.50,1134.12 L187.50,1134.02 L188.50,1133.92 L189.50,1133.81 L190.50,1133.66 L191.50,1133.49 L192.50,1133.30 L193.50,1133.11 L194.50,1132.91 L195.50,1132.69 L196.50,1132.47 L197.50,1132.25 L198.50,1132.03 L199.50,1131.81 L200.50,1131.60 L201.50,1131.40 L202.50,1131.22 L203.50,1131.04 L204.50,1130.87 L205.50,1130.70 L206.50,1130.54 L207.50,1130.38 L208.50,1130.22 L209.50,1130.06 L210.50,1129.90 L211.50,1129.74 L212.50,1129.58 L213.50,1129.42 L214.50,1129.26 L215.50,1129.09 L216.50,1128.92 L217.50,1128.75 L218.50,1128.57 L219.50,1128.40 L220.50,1128.22 L221.50,1128.05 L222.50,1127.88 L223.50,1127.70 L224.50,1127.53 L225.50,1127.37 L226.50,1127.21 L227.50,1127.05 L228.50,1126.89 L229.50,1126.74 L230.50,1126.58 L231.50,1126.44 L232.50,1126.29 L233.50,1126.14 L234.50,1125.99 L235.50,1125.84 L236.50,1125.69 L237.50,1125.54 L238.50,1125.39 L239.50,1125.23 L240.50,1125.07 L241.50,1124.91 L242.50,1124.76 L243.50,1124.60 L244.50,1124.44 L245.50,1124.27 L246.50,1124.11 L247.50,1123.95 L248.50,1123.79 L249.50,1123.62 L250.50,1123.46 L251.50,1123.29 L252.50,1123.13 L253.50,1122.96 L254.50,1122.79 L255.50,1122.63 L256.50,1122.46 L257.50,1122.28 L258.50,1122.11 L259.50,1121.94 L260.50,1121.76 L261.50,1121.59 L262.50,1121.41 L263.50,1121.23 L264.50,1121.05 L265.50,1120.87 L266.50,1120.69 L267.50,1120.50 L268.50,1120.32 L269.50,1120.13 L270.50,1119.94 L271.50,1119.75 L272.50,1119.55 L273.50,1119.36 L274.50,1119.16 L275.50,1118.95 L276.50,1118.75 L277.50,1118.54 L278.50,1118.33 L279.50,1118.11 L280.50,1117.89 L281.50,1117.65 L282.50,1117.40 L283.50,1117.14 L284.50,1116.86 L285.50,1116.56 L286.50,1116.24 L287.50,1115.89 L288.50,1115.52 L289.50,1115.11 L290.50,1114.67 L291.50,1114.20 L292.50,1113.69 L293.50,1113.13 L294.50,1112.54 L295.50,1111.92 L296.50,1111.27 L297.50,1110.61 L298.50,1109.95 L299.50,1109.30 L300.50,1108.66 L301.50,1108.06 L302.50,1107.49 L303.50,1106.96 L304.50,1106.45 L305.50,1105.96 L306.50,1105.48 L307.50,1105.01 L308.50,1104.53 L309.50,1104.03 L310.50,1103.52 L311.50,1102.98 L312.50,1102.40 L313.50,1101.78 L314.50,1101.10 L315.50,1100.35 L316.50,1099.53 L317.50,1098.62 L318.50,1097.62 L319.50,1096.54 L320.50,1095.41 L321.50,1094.23 L322.50,1093.02 L323.50,1091.81 L324.50,1090.60 L325.50,1089.42 L326.50,1088.27 L327.50,1087.17 L328.50,1086.10 L329.50,1085.07 L330.50,1084.06 L331.50,1083.09 L332.50,1082.14 L333.50,1081.22 L334.50,1080.31 L335.50,1079.43 L336.50,1078.56 L337.50,1077.71 L338.50,1076.86 L339.50,1076.03 L340.50,1075.21 L341.50,1074.39 L342.50,1073.59 L343.50,1072.80 L344.50,1072.01 L345.50,1071.24 L346.50,1070.47 L347.50,1069.71 L348.50,1068.96 L349.50,1068.22 L350.50,1067.48 L351.50,1066.75 L352.50,1066.03 L353.50,1065.32 L354.50,1064.61 L355.50,1063.90 L356.50,1063.21 L357.50,1062.52 L358.50,1061.83 L359.50,1061.15 L360.50,1060.47 L361.50,1059.80 L362.50,1059.13 L363.50,1058.46 L364.50,1057.80 L365.50,1057.15 L366.50,1056.49 L367.50,1055.84 L368.50,1055.19 L369.50,1054.54 L370.50,1053.89 L371.50,1053.25 L372.50,1052.61 L373.50,1051.96 L374.50,1051.32 L375.50,1050.68 L376.50,1050.05 L377.50,1049.41 L378.50,1048.77 L379.50,1048.13 L380.50,1047.50 L381.50,1046.86 L382.50,1046.23 L383.50,1045.59 L384.50,1044.96 L385.50,1044.32 L386.50,1043.68 L387.50,1043.05 L388.50,1042.41 L389.50,1041.77 L390.50,1041.13 L391.50,1040.49 L392.50,1039.85 L393.50,1039.21 L394.50,1038.57 L395.50,1037.92 L396.50,1037.27 L397.50,1036.62 L398.50,1035.97 L399.50,1035.32 L400.50,1034.67 L401.50,1034.02 L402.50,1033.37 L403.50,1032.72 L404.50,1032.08 L405.50,1031.44 L406.50,1030.81 L407.50,1030.19 L408.50,1029.57 L409.50,1028.97 L410.50,1028.37 L411.50,1027.78 L412.50,1027.21 L413.50,1026.65 L414.50,1026.10 L415.50,1025.56 L416.50,1025.04 L417.50,1024.53 L418.50,1024.03 L419.50,1023.53 L420.50,1023.04 L421.50,1022.56 L422.50,1022.08 L423.50,1021.61 L424.50,1021.14 L425.50,1020.67 L426.50,1020.20 L427.50,1019.73 L428.50,1019.25 L429.50,1018.78 L430.50,1018.30 L431.50,1017.81 L432.50,1017.32 L433.50,1016.84 L434.50,1016.35 L435.50,1015.86 L436.50,1015.37 L437.50,1014.88 L438.50,1014.40 L439.50,1013.92 L440.50,1013.45 L441.50,1012.99 L442.50,1012.53 L443.50,1012.08 L444.50,1011.63 L445.50,1011.20 L446.50,1010.78 L447.50,1010.37 L448.50,1009.97 L449.50,1009.57 L450.50,1009.19 L451.50,1008.81 L452.50,1008.44 L453.50,1008.08 L454.50,1007.72 L455.50,1007.37 L456.50,1007.02 L457.50,1006.67 L458.50,1006.33 L459.50,1005.98 L460.50,1005.64 L461.50,1005.30 L462.50,1004.96 L463.50,1004.62 L464.50,1004.27 L465.50,1003.92 L466.50,1003.57 L467.50,1003.21 L468.50,1002.84 L469.50,1002.47 L470.50,1002.09 L471.50,1001.69 L472.50,1001.28 L473.50,1000.86 L474.50,1000.43 L475.50,999.98 L476.50,999.52 L477.50,999.03 L478.50,998.53 L479.50,998.01 L480.50,997.48 L481.50,996.94 L482.50,996.38 L483.50,995.82 L484.50,995.24 L485.50,994.67 L486.50,994.09 L487.50,993.50 L488.50,992.92 L489.50,992.35 L490.50,991.77 L491.50,991.20 L492.50,990.65 L493.50,990.10 L494.50,989.56 L495.50,989.04 L496.50,988.52 L497.50,988.02 L498.50,987.53 L499.50,987.05 L500.50,986.57 L501.50,986.11 L502.50,985.65 L503.50,985.21 L504.50,984.77 L505.50,984.33 L506.50,983.91 L507.50,983.49 L508.50,983.07 L509.50,982.67 L510.50,982.26 L511.50,981.86 L512.50,981.46 L513.50,981.07 L514.50,980.68 L515.50,980.29 L516.50,979.91 L517.50,979.52 L518.50,979.14 L519.50,978.75 L520.50,978.37 L521.50,977.98 L522.50,977.60 L523.50,977.21 L524.50,976.82 L525.50,976.43 L526.50,976.04 L527.50,975.65 L528.50,975.25 L529.50,974.85 L530.50,974.45 L531.50,974.04 L532.50,973.63 L533.50,973.22 L534.50,972.80 L535.50,972.38 L536.50,971.95 L537.50,971.52 L538.50,971.09 L539.50,970.64 L540.50,970.20 L541.50,969.74 L542.50,969.28 L543.50,968.82 L544.50,968.35 L545.50,967.87 L546.50,967.38 L547.50,966.89 L548.50,966.39 L549.50,965.88 L550.50,965.36 L551.50,964.83 L552.50,964.30 L553.50,963.76 L554.50,963.20 L555.50,962.64 L556.50,962.07 L557.50,961.50 L558.50,960.91 L559.50,960.32 L560.50,959.72 L561.50,959.12 L562.50,958.51 L563.50,957.90 L564.50,957.28 L565.50,956.66 L566.50,956.03 L567.50,955.40 L568.50,954.77 L569.50,954.13 L570.50,953.49 L571.50,952.86 L572.50,952.22 L573.50,951.58 L574.50,950.94 L575.50,950.30 L576.50,949.66 L577.50,949.02 L578.50,948.39 L579.50,947.75 L580.50,947.12 L581.50,946.50 L582.50,945.87 L583.50,945.25 L584.50,944.64 L585.50,944.02 L586.50,943.41 L587.50,942.80 L588.50,942.19 L589.50,941.59 L590.50,940.98 L591.50,940.37 L592.50,939.73 L593.50,939.06 L594.50,938.35 L595.50,937.59 L596.50,936.75 L597.50,935.84 L598.50,934.85 L599.50,933.78 L600.50,932.63 L601.50,931.42 L602.50,930.15 L603.50,928.84 L604.50,927.48 L605.50,926.09 L606.50,924.68 L607.50,923.25 L608.50,921.81 L609.50,920.37 L610.50,918.94 L611.50,917.52 L612.50,916.13 L613.50,914.76 L614.50,913.42 L615.50,912.09 L616.50,910.77 L617.50,909.45 L618.50,908.11 L619.50,906.76 L620.50,905.38 L621.50,903.96 L622.50,902.50 L623.50,900.98 L624.50,899.41 L625.50,897.76 L626.50,896.05 L627.50,894.29 L628.50,892.48 L629.50,890.64 L630.50,888.78 L631.50,886.91 L632.50,885.05 L633.50,883.20 L634.50,881.39 L635.50,879.61 L636.50,877.89 L637.50,876.23 L638.50,874.64 L639.50,873.12 L640.50,871.67 L641.50,870.28 L642.50,868.94 L643.50,867.64 L644.50,866.39 L645.50,865.16 L646.50,863.97 L647.50,862.79 L648.50,861.63 L649.50,860.48 L650.50,859.34 L651.50,858.18 L652.50,857.02 L653.50,855.85 L654.50,854.66 L655.50,853.45 L656.50,852.24 L657.50,851.01 L658.50,849.77 L659.50,848.52 L660.50,847.27 L661.50,846.00 L662.50,844.73 L663.50,843.46 L664.50,842.18 L665.50,840.89 L666.50,839.61 L667.50,838.32 L668.50,837.03 L669.50,835.75 L670.50,834.46 L671.50,833.18 L672.50,831.90 L673.50,830.63 L674.50,829.37 L675.50,828.11 L676.50,826.85 L677.50,825.61 L678.50,824.37 L679.50,823.14 L680.50,821.92 L681.50,820.70 L682.50,819.50 L683.50,818.29 L684.50,817.10 L685.50,815.91 L686.50,814.72 L687.50,813.55 L688.50,812.38 L689.50,811.21 L690.50,810.05 L691.50,808.90 L692.50,807.75 L693.50,806.61 L694.50,805.47 L695.50,804.34 L696.50,803.22 L697.50,802.09 L698.50,800.98 L699.50,799.87 L700.50,798.76 L701.50,797.66 L702.50,796.56 L703.50,795.47 L704.50,794.39 L705.50,793.31 L706.50,792.25 L707.50,791.19 L708.50,790.14 L709.50,789.11 L710.50,788.09 L711.50,787.08 L712.50,786.08 L713.50,785.10 L714.50,784.13 L715.50,783.18 L716.50,782.24 L717.50,781.32 L718.50,780.42 L719.50,779.54 L720.50,778.68 L721.50,777.83 L722.50,777.01 L723.50,776.21 L724.50,775.44 L725.50,774.68 L726.50,773.95 L727.50,773.25 L728.50,772.57 L729.50,771.92 L730.50,771.29 L731.50,770.70 L732.50,770.13 L733.50,769.59 L734.50,769.08 L735.50,768.60 L736.00,768.37" fill="none" stroke="#1f77b4" stroke-width="2.08" stroke-linejoin="round"/>
<path d="M736.00,782.30 L737.00,781.83 L738.00,781.35 L739.00,780.89 L740.00,780.42 L741.00,779.96 L742.00,779.51 L743.00,779.06 L744.00,778.61 L745.00,778.16 L746.00,777.72 L747.00,777.29 L748.00,776.85 L749.00,776.43 L750.00,776.00 L751.00,775.58 L752.00,775.15 L753.00,774.72 L754.00,774.30 L755.00,773.87 L756.00,773.46 L757.00,773.05 L758.00,772.65 L759.00,772.26 L760.00,771.88 L761.00,771.51 L762.00,771.17 L763.00,770.84 L764.00,770.52 L765.00,770.21 L766.00,769.91 L767.00,769.62 L768.00,769.34 L769.00,769.07 L770.00,768.80 L771.00,768.53 L772.00,768.27 L773.00,768.01 L774.00,767.76 L775.00,767.50 L776.00,767.24 L777.00,766.99 L778.00,766.75 L779.00,766.50 L780.00,766.26 L781.00,766.02 L782.00,765.79 L783.00,765.56 L784.00,765.33 L785.00,765.11 L785.50,765.00" fill="none" stroke="#1f77b4" stroke-width="2.08" stroke-linejoin="round"/>
<path d="M77.50,1145.50 L77.94,1145.50 L79.70,1145.50 L81.45,1145.50 L83.21,1145.49 L84.97,1145.49 L86.72,1145.49 L88.48,1145.48 L90.23,1145.47 L91.99,1145.46 L93.74,1145.45 L95.50,1145.44 L97.25,1145.44 L99.01,1145.42 L100.77,1145.41 L102.52,1145.39 L104.28,1145.36 L106.03,1145.34 L107.79,1145.32 L109.54,1145.32 L111.30,1145.29 L113.06,1145.18 L114.81,1144.99 L116.57,1144.78 L118.32,1144.59 L120.08,1144.47 L121.83,1144.40 L123.59,1144.28 L125.34,1144.13 L127.10,1143.97 L128.86,1143.83 L130.61,1143.69 L132.37,1143.58 L134.12,1143.51 L135.88,1143.39 L137.63,1143.23 L139.39,1143.05 L141.14,1142.86 L142.90,1142.68 L144.66,1142.53 L146.41,1142.43 L148.17,1142.26 L149.92,1142.04 L151.68,1141.79 L153.43,1141.54 L155.19,1141.28 L156.95,1141.08 L158.70,1140.94 L160.46,1140.71 L162.21,1140.39 L163.97,1140.05 L165.72,1139.72 L167.48,1139.41 L169.23,1139.14 L170.99,1138.96 L172.75,1138.39 L174.50,1137.27 L176.26,1136.03 L178.01,1135.15 L179.77,1134.47 L181.52,1134.04 L183.28,1133.79 L185.03,1133.49 L186.79,1133.22 L188.55,1132.98 L190.30,1132.69 L192.06,1132.33 L193.81,1132.02 L195.57,1131.81 L197.32,1131.44 L199.08,1130.98 L200.84,1130.51 L202.59,1130.11 L204.35,1129.76 L206.10,1129.52 L207.86,1129.36 L209.61,1129.09 L211.37,1128.76 L213.12,1128.41 L214.88,1128.06 L216.64,1127.71 L218.39,1127.46 L220.15,1127.28 L221.90,1126.99 L223.66,1126.63 L225.41,1126.25 L227.17,1125.90 L228.92,1125.58 L230.68,1125.35 L232.44,1125.19 L234.19,1124.93 L235.95,1124.60 L237.70,1124.25 L239.46,1123.90 L241.21,1123.56 L242.97,1123.32 L244.73,1123.15 L246.48,1122.87 L248.24,1122.52 L249.99,1122.16 L251.75,1121.81 L253.50,1121.49 L255.26,1121.26 L257.01,1121.11 L258.77,1120.86 L260.53,1120.55 L262.28,1120.23 L264.04,1119.92 L265.79,1119.62 L267.55,1119.40 L269.30,1119.24 L271.06,1118.96 L272.81,1118.58 L274.57,1118.14 L276.33,1117.67 L278.08,1117.17 L279.84,1116.77 L281.59,1116.49 L283.35,1115.98 L285.10,1115.26 L286.86,1114.44 L288.62,1113.57 L290.37,1112.66 L292.13,1111.94 L293.88,1111.45 L295.64,1110.60 L297.39,1109.47 L299.15,1108.24 L300.90,1107.03 L302.66,1105.86 L304.42,1104.98 L306.17,1104.40 L307.93,1103.41 L309.68,1102.16 L311.44,1100.88 L313.19,1099.66 L314.95,1098.43 L316.70,1097.39 L318.46,1096.62 L320.22,1095.06 L321.97,1092.54 L323.73,1089.61 L325.48,1086.83 L327.24,1084.41 L328.99,1082.79 L330.75,1081.75 L332.51,1080.10 L334.26,1078.14 L336.02,1076.22 L337.77,1074.45 L339.53,1072.79 L341.28,1071.60 L343.04,1070.82 L344.79,1069.52 L346.55,1067.89 L348.31,1066.21 L350.06,1064.62 L351.82,1063.10 L353.57,1062.00 L355.33,1061.26 L357.08,1060.03 L358.84,1058.48 L360.59,1056.87 L362.35,1055.33 L364.11,1053.87 L365.86,1052.81 L367.62,1052.10 L369.37,1050.92 L371.13,1049.43 L372.88,1047.89 L374.64,1046.42 L376.40,1045.02 L378.15,1044.00 L379.91,1043.32 L381.66,1042.19 L383.42,1040.77 L385.17,1039.29 L386.93,1037.89 L388.68,1036.56 L390.44,1035.59 L392.20,1034.95 L393.95,1033.87 L395.71,1032.52 L397.46,1031.12 L399.22,1029.80 L400.97,1028.54 L402.73,1027.63 L404.48,1027.03 L406.24,1026.02 L408.00,1024.75 L409.75,1023.44 L411.51,1022.21 L413.26,1021.04 L415.02,1020.20 L416.77,1019.64 L418.53,1018.73 L420.29,1017.61 L422.04,1016.49 L423.80,1015.48 L425.55,1014.58 L427.31,1013.95 L429.06,1013.54 L430.82,1012.86 L432.57,1011.98 L434.33,1011.01 L436.09,1010.00 L437.84,1008.94 L439.60,1008.10 L441.35,1007.53 L443.11,1006.61 L444.86,1005.54 L446.62,1004.54 L448.37,1003.68 L450.13,1002.92 L451.89,1002.41 L453.64,1002.08 L455.40,1001.55 L457.15,1000.92 L458.91,1000.28 L460.66,999.67 L462.42,999.08 L464.18,998.63 L465.93,998.33 L467.69,997.80 L469.44,997.08 L471.20,996.28 L472.95,995.47 L474.71,994.66 L476.46,994.05 L478.22,993.63 L479.98,992.91 L481.73,991.99 L483.49,991.00 L485.24,990.05 L487.00,989.13 L488.75,988.45 L490.51,988.00 L492.26,987.25 L494.02,986.30 L495.78,985.33 L497.53,984.41 L499.29,983.56 L501.04,982.96 L502.80,982.56 L504.55,981.92 L506.31,981.13 L508.07,980.36 L509.82,979.66 L511.58,979.01 L513.33,978.55 L515.09,978.25 L516.84,977.76 L518.60,977.14 L520.35,976.50 L522.11,975.90 L523.87,975.32 L525.62,974.89 L527.38,974.60 L529.13,974.10 L530.89,973.46 L532.64,972.76 L534.40,972.06 L536.15,971.36 L537.91,970.83 L539.67,970.46 L541.42,969.82 L543.18,968.95 L544.93,967.99 L546.69,967.03 L548.44,966.06 L550.20,965.32 L551.96,964.81 L553.71,963.95 L555.47,962.81 L557.22,961.59 L558.98,960.39 L560.73,959.21 L562.49,958.33 L564.24,957.74 L566.00,956.74 L567.76,955.45 L569.51,954.08 L571.27,952.76 L573.02,951.49 L574.78,950.56 L576.53,949.93 L578.29,948.88 L580.04,947.55 L581.80,946.16 L583.56,944.85 L585.31,943.59 L587.07,942.69 L588.82,942.09 L590.58,941.09 L592.33,939.85 L594.09,938.58 L595.85,937.33 L597.60,936.04 L599.36,934.99 L601.11,934.23 L602.87,932.82 L604.62,930.71 L606.38,928.10 L608.13,925.31 L609.89,922.55 L611.65,920.57 L613.40,919.26 L615.16,917.07 L616.91,914.32 L618.67,911.46 L620.42,908.70 L622.18,906.03 L623.93,904.04 L625.69,902.70 L627.45,900.40 L629.20,897.41 L630.96,894.07 L632.71,890.34 L634.47,886.28 L636.22,883.41 L637.98,881.71 L639.74,879.14 L641.49,876.27 L643.25,873.56 L645.00,871.17 L646.76,869.05 L648.51,867.59 L650.27,866.66 L652.02,865.14 L653.78,863.30 L655.54,861.45 L657.29,859.72 L659.05,858.07 L660.80,856.86" fill="none" stroke="#ff7f0e" stroke-width="9.7" stroke-linecap="round" stroke-linejoin="round"/>
<path d="M665.50,846.00 L666.07,845.55 L667.82,842.01 L669.58,838.75 L671.34,835.76 L673.09,833.69 L674.85,832.35 L676.60,830.20 L678.36,827.63 L680.11,825.09 L681.87,822.75 L683.63,820.56 L685.38,818.98 L687.14,817.93 L688.89,816.14 L690.65,813.84 L692.40,811.45 L694.16,809.21 L695.91,807.17 L697.67,805.78 L699.43,804.90 L701.18,803.54 L702.94,801.96 L704.69,800.44 L706.45,799.07 L708.20,797.81 L709.96,796.91 L711.71,796.30 L713.47,795.27 L715.23,793.97 L716.98,792.63 L718.74,791.38 L720.49,790.21 L722.25,789.37 L724.00,788.82 L725.76,787.92 L727.52,786.82 L729.27,785.71 L731.03,784.68 L732.78,783.70 L734.54,782.99 L736.29,782.52 L738.05,781.71 L739.80,780.70 L741.56,779.64 L743.32,778.63 L745.07,777.69 L746.83,777.01 L748.58,776.56 L750.34,775.83 L752.09,774.89 L753.85,773.91 L755.60,772.99 L757.36,772.14 L759.12,771.57 L760.87,771.20 L762.63,770.65 L764.38,770.04 L766.14,769.49 L767.89,769.00 L769.65,768.56 L771.41,768.25 L773.16,768.03 L774.92,767.66 L776.67,767.17 L778.43,766.66 L780.18,766.17 L781.94,765.70 L783.69,765.36 L785.45,765.13" fill="none" stroke="#ff7f0e" stroke-width="9.7" stroke-linecap="round" stroke-linejoin="round"/>
<line x1="736.0" x2="736.0" y1="1145.5" y2="592.5" stroke="#1f77b4" stroke-opacity="0.5" stroke-width="2.08" stroke-dasharray="7.71 3.33"/>
</g>
<path d="M77.0,1145.50h-5M77.0,1063.50h-5M77.0,981.50h-5M77.0,899.50h-5M77.0,817.50h-5M77.0,734.50h-5M77.0,652.50h-5M77.50,1146.0v5M785.50,1146.0v5M127.50,1146.0v5M179.50,1146.0v5M234.50,1146.0v5M286.50,1146.0v5M341.50,1146.0v5M395.50,1146.0v5M448.50,1146.0v5M502.50,1146.0v5M555.50,1146.0v5M609.50,1146.0v5M664.50,1146.0v5M713.50,1146.0v5M767.50,1146.0v5" stroke="#000" stroke-width="1" fill="none"/>
<path d="M86.50,1146.0v3M99.50,1146.0v3M111.50,1146.0v3M123.50,1146.0v3M135.50,1146.0v3M148.50,1146.0v3M160.50,1146.0v3M172.50,1146.0v3M185.50,1146.0v3M197.50,1146.0v3M209.50,1146.0v3M221.50,1146.0v3M246.50,1146.0v3M258.50,1146.0v3M271.50,1146.0v3M283.50,1146.0v3M295.50,1146.0v3M307.50,1146.0v3M320.50,1146.0v3M332.50,1146.0v3M344.50,1146.0v3M357.50,1146.0v3M369.50,1146.0v3M381.50,1146.0v3M393.50,1146.0v3M406.50,1146.0v3M418.50,1146.0v3M430.50,1146.0v3M443.50,1146.0v3M455.50,1146.0v3M467.50,1146.0v3M479.50,1146.0v3M492.50,1146.0v3M504.50,1146.0v3M516.50,1146.0v3M529.50,1146.0v3M541.50,1146.0v3M553.50,1146.0v3M566.50,1146.0v3M578.50,1146.0v3M590.50,1146.0v3M602.50,1146.0v3M615.50,1146.0v3M627.50,1146.0v3M639.50,1146.0v3M652.50,1146.0v3M676.50,1146.0v3M688.50,1146.0v3M701.50,1146.0v3M725.50,1146.0v3M738.50,1146.0v3M750.50,1146.0v3M762.50,1146.0v3M774.50,1146.0v3" stroke="#000" stroke-width="0.9" fill="none"/>
<rect x="77.5" y="592.5" width="708.0" height="553.0" fill="none" stroke="#000" stroke-width="1"/>
<text x="68.40" y="1151.10" text-anchor="end">0</text>
<text x="68.20" y="1068.20" text-anchor="end" letter-spacing="-0.15">2000</text>
<text x="67.00" y="986.20" text-anchor="end" letter-spacing="-0.3">4000</text>
<text x="68.10" y="904.20" text-anchor="end" letter-spacing="-0.15">6000</text>
<text x="67.80" y="822.20" text-anchor="end">8000</text>
<text x="67.80" y="739.20" text-anchor="end">10000</text>
<text x="67.80" y="657.20" text-anchor="end">12000</text>
<rect x="84.44" y="599.44" width="98.0" height="25" rx="2.78" ry="2.78" fill="#fff" fill-opacity="0.8" stroke="#ccc" stroke-width="1.11"/>
<line x1="89.44" x2="118.74" y1="610.00" y2="610.00" stroke="#1f77b4" stroke-width="2.08"/>
<text x="129.04" y="614.84" letter-spacing="-0.12">deaths</text>
<text x="126.10" y="1166" text-anchor="middle" letter-spacing="-0.5">Apr</text>
<text x="178.77" y="1166" text-anchor="middle" letter-spacing="-0.5">May</text>
<text x="233.19" y="1166" text-anchor="middle" letter-spacing="-0.5">Jun</text>
<text x="285.86" y="1166" text-anchor="middle" letter-spacing="-0.5">Jul</text>
<text x="340.28" y="1166" text-anchor="middle" letter-spacing="-0.5">Aug</text>
<text x="394.71" y="1166" text-anchor="middle" letter-spacing="-0.5">Sep</text>
<text x="447.37" y="1166" text-anchor="middle" letter-spacing="-0.5">Oct</text>
<text x="501.80" y="1166" text-anchor="middle" letter-spacing="-0.5">Nov</text>
<text x="554.47" y="1166" text-anchor="middle" letter-spacing="-0.5">Dec</text>
<text x="608.89" y="1166" text-anchor="middle" letter-spacing="-0.5">Jan</text>
<text x="609.89" y="1181.5" text-anchor="middle">2021</text>
<text x="663.31" y="1166" text-anchor="middle" letter-spacing="-0.5">Feb</text>
<text x="712.47" y="1166" text-anchor="middle" letter-spacing="-0.5">Mar</text>
<text x="766.89" y="1166" text-anchor="middle" letter-spacing="-0.5">Apr</text>
<text x="397" y="35.8" text-anchor="middle" font-size="16.67px">South Carolina 28 days</text>
</svg>
</body></html>
